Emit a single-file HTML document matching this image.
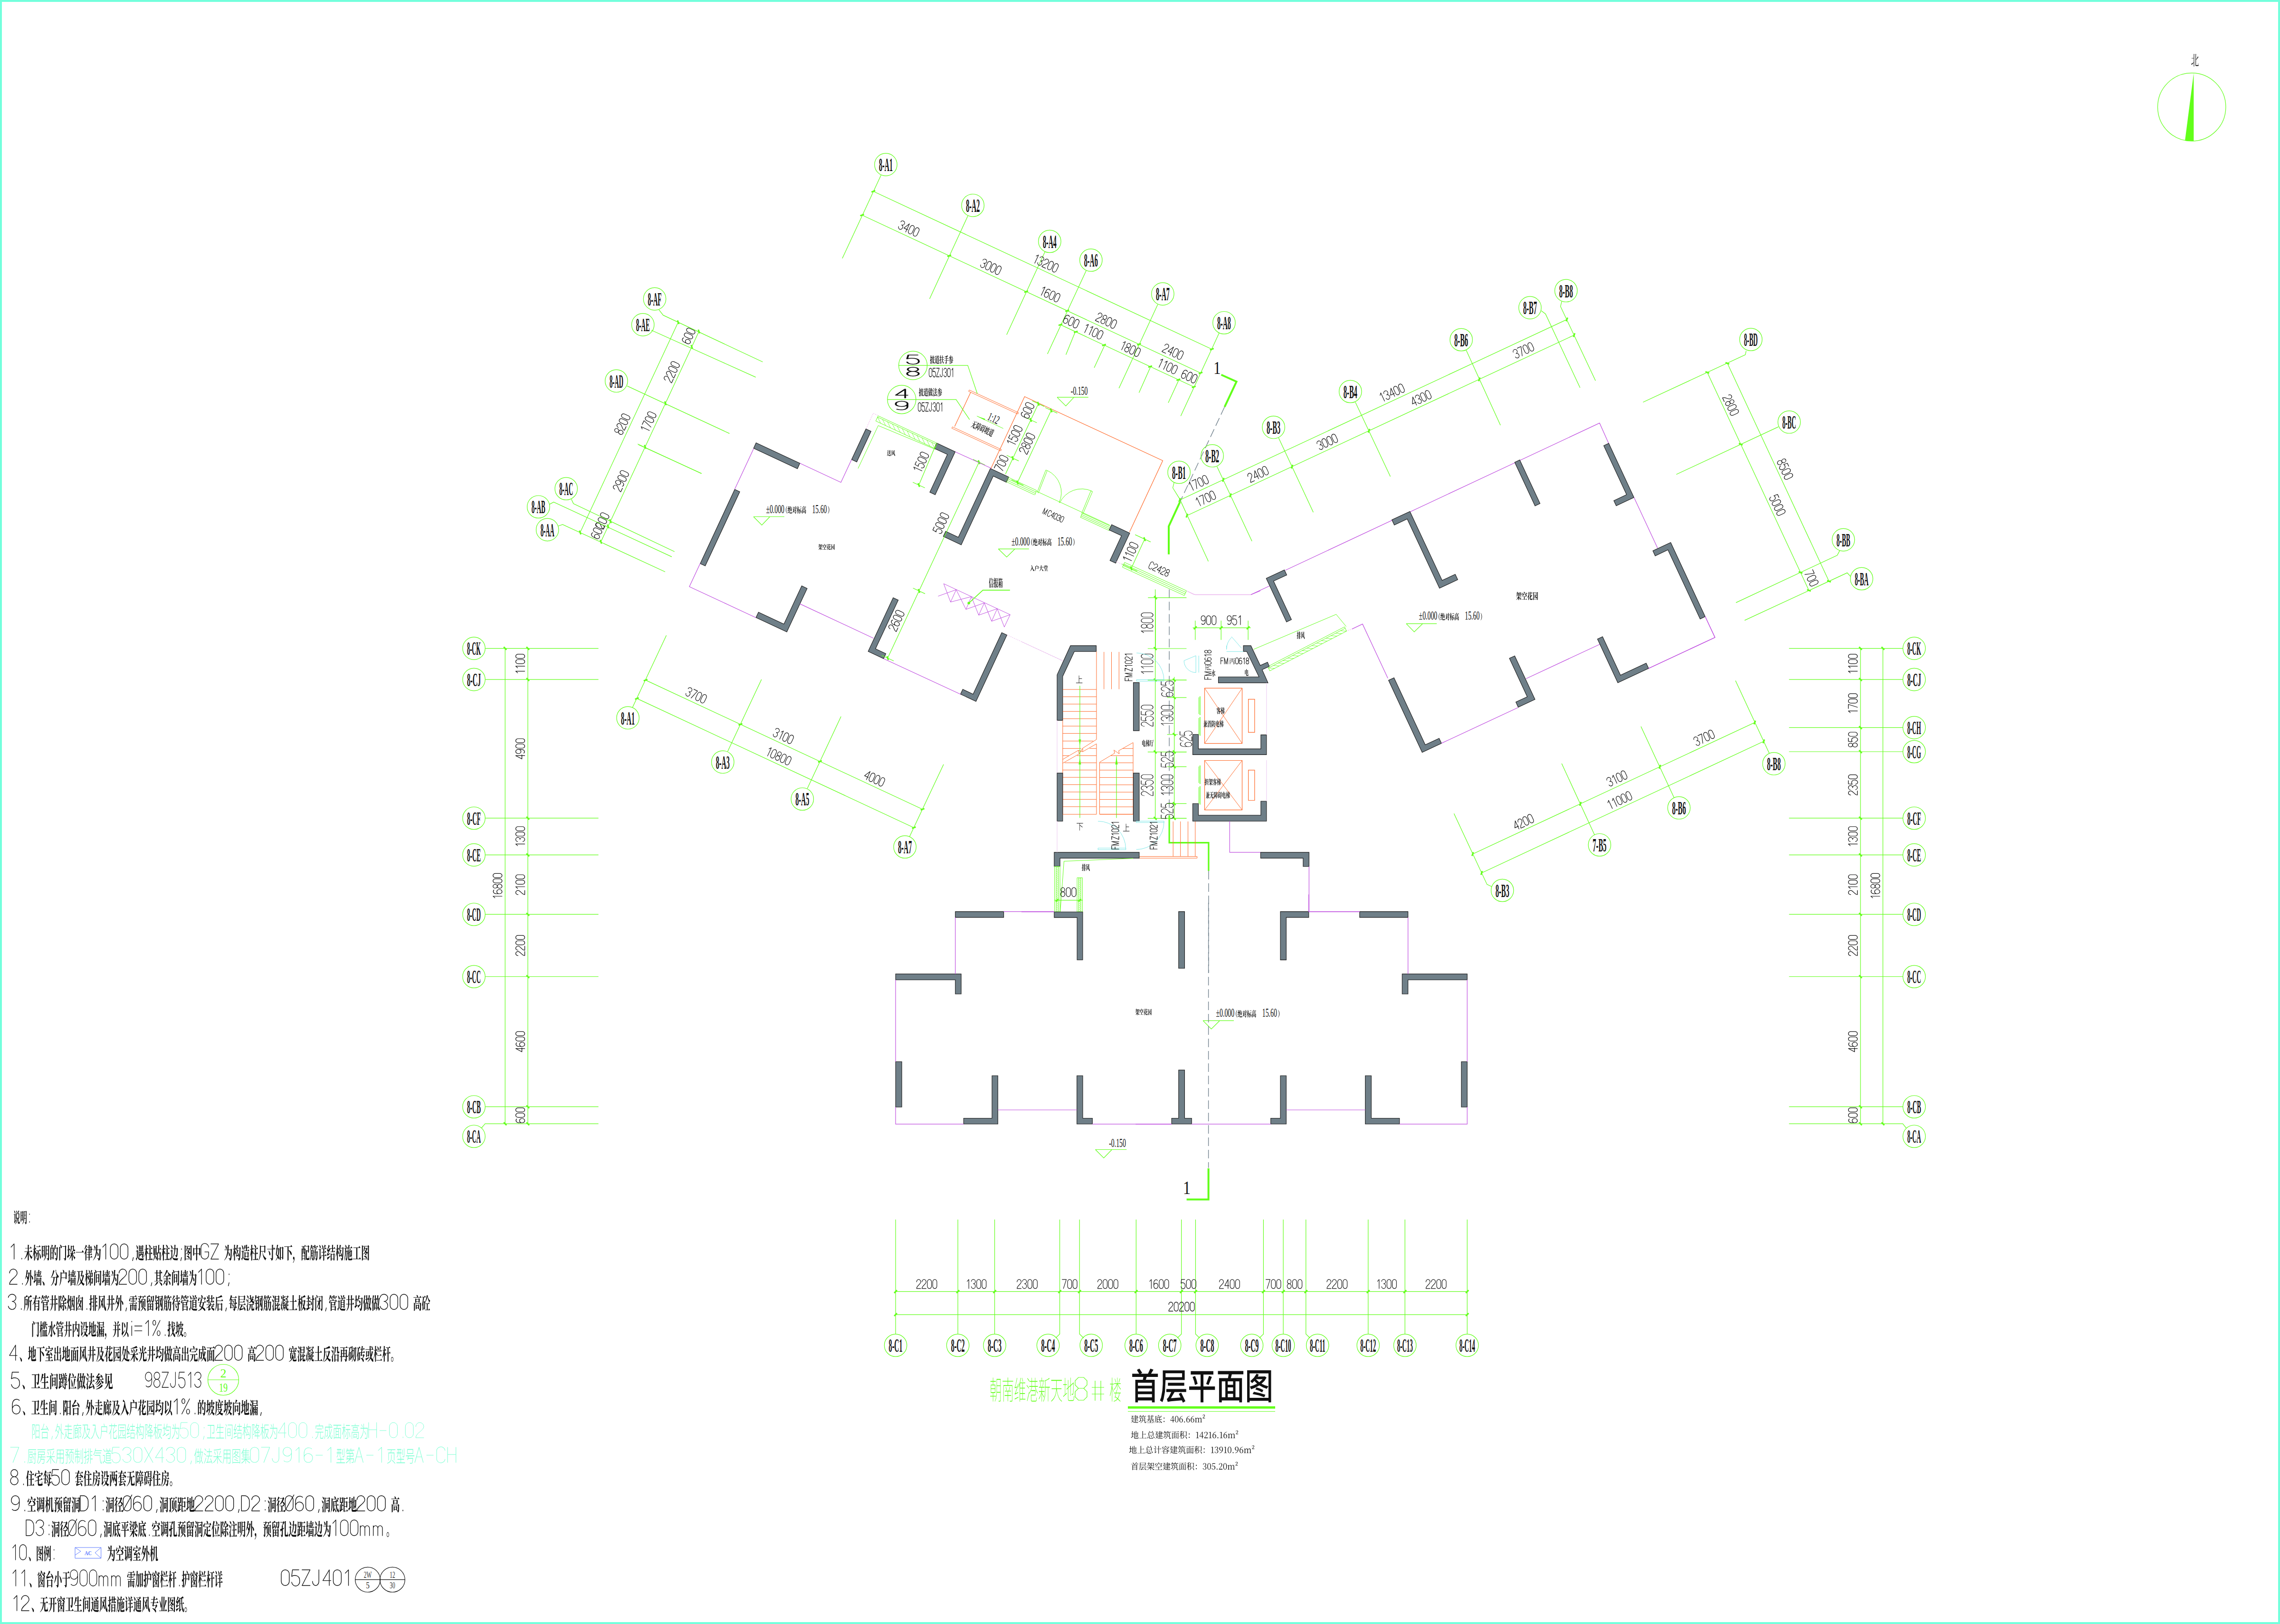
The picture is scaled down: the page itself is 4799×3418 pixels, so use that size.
<!DOCTYPE html>
<html><head><meta charset="utf-8"><style>
html,body{margin:0;padding:0;background:#fff;}
svg{display:block;font-family:"Liberation Sans",sans-serif;}
</style></head><body>
<svg width="4799" height="3418" viewBox="0 0 4799 3418">
<rect width="4799" height="3418" fill="#fff"/>
<defs><path id="s8bf4" d="M104-211l-2 2l17 27l7 20l12 4l9-5l4-10l-4-14l-15-13zM29-210l-3 1l17 25l7 19l12 3l9-4l4-11l-4-12l-15-13zM73-133l10-5l-24-20l-13 13h-37l3 7h34v104l-2 7l-11 7l21 31l54-69l-1-2l-34 20zM124-79l-4 33l-6 17l-10 17l-16 16l-24 15l3 3l31-13l22-16l15-17l9-18l8-40h12v72v11l4 7l7 3l13 1h31l11-2l12-7l-1-12l-6-5l-1-31h-3l-9 30l-5 3h-21l-5-4v-66v8l15-2l12-6v-66l8-3l-25-19l-12 13h-14l37-39l6-1l4-3l-39-12l-18 55h-40l-29-12v99l15-2zM191-150v61h-67v-61z"/><path id="s660e" d="M202-187v50h-47v-50zM128-194v80l-4 50l-6 23l-10 22l-15 20l-20 19l2 2l24-12l18-15l14-15l10-17l11-35h50v57l-6 5l-38-2v4l12 3l14 7l5 8l2 12l26-6l7-5l6-14v-179l11-5l-28-22l-13 15h-40l-32-11zM202-130v50h-48l1-50zM46-182h31v55h-31zM18-189v165l17-1l11-7v-26h31v22l15-2l9-4l3-3v-132l11-6l-27-21l-14 15h-26l-30-12zM46-120h31v55h-31z"/><path id="s672a" d="M109-212v48h-79l2 6h77v46h-99l2 7h80l-21 39l-14 19l-32 34l-19 15l2 2l21-9l37-24l16-13l27-31v95l17-2l9-4l4-4v-117l19 45l12 19l15 16l16 14l18 12l9-18l16-9v-3l-38-17l-18-11l-32-30l-12-18h89l7-4l-31-25l-17 22h-53v-46h76l7-4l-30-24l-17 22h-36v-37l7-3l2-4z"/><path id="s6807" d="M148-86l-36-15l-12 47l-21 47l3 3l13-12l21-26l22-40l7-1zM188-96l-3 1l19 41l12 43l13 5l10-6l3-15l-5-21l-18-24zM201-207l-15 20h-79l2 7h113l6-4zM213-150l-16 22h-103l2 7h52v109l-5 4l-30-2v4l10 2l11 7l4 8l2 11l24-6l11-11l2-17v-109h59l6-4zM84-171l-15 19v-50l7-2l2-5l-36-3v60h-33l2 7h26l-12 57l-13 34l-8 16l3 2l8-7l27-36v101l16-1l11-7v-132l7 17l3 17l10 5l9-2l4-9l-1-11l-10-13l-22-12v-19h32l7-4z"/><path id="s7684" d="M133-114l-2 2l14 24l7 27l13 6l10-5l5-11l-4-15l-14-15zM94-202l-41-10l-5 48l-30-12v189l16-2l8-4l3-4v-18h38v19l15-1l13-7v-148l10-6l-27-21l-13 15h-22l25-32l6-1zM83-157v62h-38v-62zM45-88h38v66h-38zM185-200l-39-12l-15 57l-19 48l3 2l15-15l27-38h47l-4 101l-6 35l-4 8l-9 3l-36-3v4l20 7l6 4l4 5l2 16l21-3l8-5l7-6l6-10l8-38l5-113l11-5l-27-23l-15 16h-40l14-30l7-2z"/><path id="s95e8" d="M47-214l-2 2l19 22l13 26l13 3l10-6l2-12l-6-14l-17-13zM64-177l-39-4v203l17-2l12-8v-181l8-3zM193-189h-81l2 7h82v166l-7 5l-38-2v3l12 3l14 8l4 5l3 16l27-6l7-5l6-15l1-174l10-5l-29-22z"/><path id="s579b" d="M216-110l-14 19h-34v-21l6-3l2-4l-36-3v31h-60l2 7h44l-16 33l-10 16l-25 29l-15 12l2 3l45-27l23-23l10-13v76l16-1l8-4l4-3v-98l13 37l8 16l21 26l12 11l9-17l14-8l1-3l-29-15l-13-9l-23-24l-9-14h63l7-4zM114-195l-1 40l-5 22l-13 21l-11 9l1 3l21-9l15-11l9-11l9-24v-30h37v49l3 15l6 4l11 1l27-1l10-3l5-4l2-6l-2-6l-6-4l-28 1l-4-4v-40l9-3l-23-20l-13 14h-30l-29-11zM78-160l-12 21h-5v-59l7-2l2-4l-37-4v69h-25l2 7h23v78l-29 5l15 35l7-6l74-44v-3l-39 8v-73h33l6-4z"/><path id="s4e00" d="M206-134l-20 28h-177l2 8h224l8-4z"/><path id="s5f8b" d="M52-212l-19 35l-27 35l3 2l38-24l31-26l7-1l3-3zM188-136v31h-26v-31zM58-163l-21 47l-31 47l2 3l31-23v111l16-1l12-8v-120l8-5l-10-4l16-20h53v31h-48l2 7h46v30h-54l2 6h52v31h-61l2 7h59v46l16-2l12-8v-36h74l7-4l-28-23l-16 20h-37v-31h64l7-4l-27-22l-15 20h-29v-30h26v8l24-4l4-2v-40h24l6-4l-18-20l-12 17v-25l10-6l-28-21l-13 15h-23v-21l7-3l3-4l-38-4v32h-47l3 7h44v30h-42l2-1zM188-143h-26v-30h26z"/><path id="s4e3a" d="M131-106l-3 1l15 35l2 19l14 7l11-4l6-12l-3-15l-14-17zM37-203l-2 1l16 28l6 21l13 5l11-5l5-11l-4-14l-15-14zM138-200l6-3l3-4l-42-5l-3 72h-87l3 7h84l-5 26l-8 26l-12 26l-17 25l-23 24l-29 23l2 4l40-22l30-23l22-26l16-27l9-28l6-28h65l-4 83l-6 31l-4 7l-10 2l-40-2v3l22 7l7 4l5 8l1 11l23-2l9-4l7-5l6-9l9-34l6-95l11-5l-28-24l-16 17h-62z"/><path id="s9047" d="M21-207l-3 1l16 26l10 28l13 4l9-5l3-11l-4-15l-16-15zM179-88l-3 1l6 15l-12 1v-25h34v52l-5 5l-28-1v3l13 3l7 4l5 15l15-2l9-4l6-5l4-16v-50l10-5l-27-20l-12 14h-31v-23h23v10l14-1l12-6v-62l11-5l-27-20l-13 14h-66l-27-12v95l14-1l8-4l4-3v-5h21v23h-30l-28-12v97l-22-14v-78l13-6l-30-24l-14 18h-25l1 8h28v87l-31 20l19 29l27-46l4-3l27 27l14 8l16 5l43 5h69l6-16l13-8v-3l-111 1l-25-3l-20-6l12-2l12-7v-70h32v26h-31l11 28l7-6l52-18l1 13l7 4l7-2l4-6l-1-10l-7-11zM123-134v-24h21v24zM123-165v-25h21v25zM193-190v25h-23v-25zM193-134h-23v-24h23z"/><path id="s67f1" d="M134-212l-2 2l22 25l8 19l14 4l10-6l3-12l-6-13l-18-12zM46-212v62h-39l2 7h35l-15 56l-15 34l-9 15l3 3l14-14l24-29v100l17-1l12-7v-132l8 18l3 20l11 5l9-2l6-9l-2-13l-12-13l-23-12v-19h32l7-4l-2-2h42v66h-40l2 7h38v80h-58l2 8h143l7-4l-28-23l-16 19h-19v-80h47l8-4l-28-23l-15 20h-12v-66h52l7-4l-28-23l-15 20h-97l-14-13l-13 19h-3l1-51l7-2l2-5z"/><path id="s8d34" d="M18-199v144l14-1l10-6v-120h44v122l22-4l3-2v-114l10-4l-24-19l-12 15h-41zM196-207l-37-3v116h-7l-30-11v127l17-2l7-3l3-2v-15h53v19l17-1l11-6v-96l9-5l-25-20l-13 15h-14v-49h50l7-4l-26-22l-14 19h-17v-50l7-2zM149-7v-79h53v79zM85-156l-33-8l-2 83l-3 32l-8 27l-13 22l-19 19l3 4l16-8l23-21l9-12l10-28l16 28l7 19l11 4l9-4l3-11l-4-15l-14-15l-26-13l3-29l2-69l7-2z"/><path id="s8fb9" d="M26-207l-3 1l17 26l11 28l14 4l9-5l4-11l-5-16l-17-15zM169-208l-37-4v56h-46l2 8h44l-6 42l-7 21l-9 21l-13 19l-17 17l3 3l25-16l19-18l13-21l10-22l9-46h39l-3 62l-5 22l-3 5l-8 2l-31-1v3l23 10l4 8l1 12l18-3l8-3l12-12l8-25l6-76l10-4l-27-22l-15 14h-36v-45l7-3zM43-31l-38 21l20 32l33-48l4-4l27 29l13 8l15 6l19 3l87 1l6-17l6-6l8-3v-3l-75 2l-43-2l-32-8l-12-7l-11-8v-79l14-5l-31-25l-14 19h-31l2 7h33z"/><path id="s56fe" d="M102-83l-1 4l19 10l16 16h10l6-5l1-9l-7-9l-16-6zM82-47l-1 4l44 16l28 18l12-1l5-8l-3-11l-14-11l-28-7zM124-173l-32-14h104v182h-143v-182h37l-11 39l-20 37l2 3l32-30l21 29l-27 20l-32 15l2 4l37-12l32-16l18 11l32 14l7-16l13-8v-3l-51-12l14-13l18-22l10-3l-24-22l-15 14h-40l7-13zM53 11v-9h143v19l16-2l14-7v-194l10-5l-28-23l-14 16h-138l-32-13v229l17-2l9-4zM97-142l6-8h44l-21 30l-16-10z"/><path id="s4e2d" d="M196-83h-56v-67h56zM150-208l-41-4v55h-53l-34-13v119l17-2l10-4l4-5v-14h56v98l18-2l9-4l4-5v-87h56v21l17-2l15-5v-83l10-5l-30-23l-14 16h-54v-44l7-3zM53-83v-67h56v67z"/><path id="s6784" d="M160-97l-3 1l11 32l-46 4l25-31l21-34l8-5l-35-14l-17 58l-12 23l-7 3l14 29l6-5l45-20l2 18l11 5l8-4l4-10l-2-15l-11-17zM88-170l-13 18h-3v-50l7-3l3-4l-37-4v61h-37l2 8h32l-14 56l-14 34l-8 16l3 2l7-6l29-38v102l16-1l8-4l3-3v-130l8 18l4 19l10 5l9-3l4-9l-1-12l-11-13l-23-11v-22h33l7-4l-13 35l3 2l19-21l17-26h68l-5 102l-6 35l-5 8l-9 4l-34-3v4l19 6l6 4l4 8l1 12l20-3l8-4l7-6l6-10l5-16l6-53l3-84l12-4l-26-23l-15 15h-61l14-30l6-2l3-4l-39-10l-14 64z"/><path id="s9020" d="M21-205l-3 2l11 17l9 20l4 20l14 6l10-5l5-13l-4-16l-16-17zM40-26l-32 17l20 30l14-25l14-19l27 24l13 7l35 8l92 1l6-16l6-6l8-3v-3l-65 2l-57-2l-31-5l-23-10v-76l13-6l-30-24l-14 19h-28l2 7h30zM138-196l-38-12l-8 40l-12 34l3 2l8-7l22-24h30v37h-67l2 7h158l7-4l-28-23l-16 20h-27v-37h57l7-4l-28-23l-15 20h-21v-32l7-3l2-4l-38-3v42h-25l10-21l7-2zM128-27v-10h62v17l24-5l4-3v-56l10-4l-28-22l-13 15h-58l-30-12v88l16-1zM190-88v44h-62v-44z"/><path id="s5c3a" d="M50-194l-1 89l-7 52l-7 25l-12 25l-17 23l3 2l24-19l18-21l13-22l8-23l6-47h42l13 47l12 24l16 22l22 20l29 17l3-11l5-8l8-5l10-4v-3l-32-12l-27-15l-21-16l-15-17l-11-19l-7-20h52v16l16-1l13-6v-79l10-5l-28-21l-14 14h-91l-33-12zM177-184v67h-99l1-67z"/><path id="s5bf8" d="M48-126l-2 2l13 19l11 22l6 23l15 5l11-6l4-13l-6-18l-18-18zM150-212v61h-140l2 7h138l-2 132l-5 1l-49-3v4l21 5l11 6l5 5l5 16l28-6l8-6l7-15l1-139h54l8-4l-33-27l-18 24h-11v-51l7-2l2-5z"/><path id="s5982" d="M74-200l8-3l2-4l-37-5l-11 58h-29l2 7h25l-21 78l47 32l-23 31l-31 25l2 3l39-20l27-26l20 24l11 3l9-2l6-8l-1-11l-9-13l-20-15l17-46l8-50l9-4l-26-23l-14 15h-20zM199-164v135h-39v-135zM160 3v-25h39v28l16-2l14-8v-155l10-5l-28-23l-15 16h-35l-30-13v198l17-2l8-5zM39-67l23-80h24l-5 47l-12 44z"/><path id="s4e0b" d="M210-211l-18 23h-184l2 7h94v203l19-2l12-7v-143l37 33l30 36l15 2l9-9v-16l-14-19l-29-18l-48-14v-46h101l8-4z"/><path id="sff0c" d="M42 11l-21-11l-5-7l-2-9l2-7l4-7l7-4l9-2l9 2l7 5l5 9l1 11l-3 24l-6 12l-18 21l-14 8l-4-8l19-14l5-8z"/><path id="s914d" d="M143-126v115l3 17l6 4l8 3l36 1l29-2l15-6l5-10l-2-6l-7-5l-1-36h-3l-11 35l-5 3l-38 1l-7-2l-1-4v-100h31v23l14-1l13-5v-79l12-6l-28-22l-14 15h-56l2 7h57v60h-28l-30-11zM74-186v37h-10v-37zM64-192h-56l2 6h35v37h-5l-25-11v182l14-2l7-4l3-3v-15h62v19l14-1l11-6v-148l10-5l-25-19l-12 13h-5v-37h38l7-4l-27-22l-14 20zM101-44v35h-62v-35zM101-51h-62v-20l1 2l10-10l11-22l3-41h10l1 57l4 5l22 1zM101-96h-9l-2-3v-43h11zM39-74v-68h10l-1 38z"/><path id="s7b4b" d="M139-213l-11 39l-16 32l4 2l15-12l22-23h11l9 20l2 11l6 3l-35-3v36h-27l3 7h24l-2 45l-4 20l-8 20l-11 19l-15 17l2 2l25-14l17-19l12-20l8-22l5-48h26l-3 65l-3 21l-3 5l-8 2l-24-1v4l12 3l7 6l3 7l1 11l12-1l18-9l9-16l5-34l2-58l10-5l-25-22l-15 15h-24v-26l6-2l2-4h8l5-4l4-7l-1-8l-6-8l-11-8h54l7-4l-26-21l-15 18h-44l8-14l7-1l3-3zM85-122v31h-27v-31zM31-128v66l-4 35l-11 32l-9 15l2 2l25-20l15-23l7-25h29v32l-5 5l-22-1v4l11 3l5 5l5 18l21-5l6-4l6-13v-115l10-5l-27-21l-13 15h-20l-31-12zM85-84v32h-28l1-32zM44-213l-16 46l-22 36l3 2l26-19l23-27h4l4 9l3 21l9 4l9-1l5-6l2-8l-6-10l-13-9h45l7-4l-23-21l-14 18h-28l8-13l7-1l3-4z"/><path id="s8be6" d="M108-211l-2 1l12 27l4 19l13 5l10-3l5-10l-3-13l-13-14zM25-210l-2 1l17 25l7 18l12 4l9-5l4-10l-4-13l-15-12zM66-133l11-5l-25-20l-12 13h-34l3 7h30v106l-2 7l-11 7l21 32l53-54l-2-2l-32 12zM213-176l-15 20h-24l39-38l7-1l3-3l-41-14l-14 56h-82l2 7h57v44h-51l2 7h49v44h-63l2 7h61v70l18-1l11-6v-63h64l6-4l-27-24l-15 21h-28v-44h52l7-4l-27-23l-14 20h-18v-44h60l6-4z"/><path id="s7ed3" d="M7-23l13 36l7-7l79-48l-1-3zM88-196l-38-15l-8 24l-14 25l-14 18l-9 3l14 33l34-16l-26 32l-12 10l-9 4l13 32l6-4l74-33v-3l-69 8l39-32l31-34h7l3-2l-34-20l-13 25l-37 1l29-24l24-28zM139-6v-61h56v61zM112-86v109l17-1l7-3l3-3v-15h56v20l17-1l11-5v-80l10-5l-26-20l-13 16h-52zM219-181l-15 19h-24v-40l7-2l3-4l-38-4v50h-56l2 7h54v45h-46l2 7h124l6-4l-26-22l-14 19h-18v-45h59l7-4z"/><path id="s65bd" d="M36-212l-2 2l10 18l6 21l11 5l9-4l5-9l-3-12l-12-12zM196-150l-32-4v50l-16 6v-24l5-3l3-4l-34-3v44l-16 7l4 6l12-5l1 84l3 7l7 4l23 3h51l26-4l11-7l1-5l-3-7l-8-4l-1-23h-3l-10 22l-7 3l-53 1l-10-2l-2-6v-76l16-6v70l20-3l3-3v-74l18-7v51l-3 3l-14-1v3l10 5l2 19l13-2l9-4l5-6l3-17v-53l8-6l-26-15l-10 16l-15 6v-30l7-2zM171-202l-39-10l-11 49l-16 40l3 2l16-14l21-27h92l7-4l-29-24l-16 21h-50l12-27l7-2zM92-183l-14 20h-70l2 7h23v30l-4 61l-13 59l-11 26l3 2l15-18l12-20l9-22l7-23l8-49h20l-3 54l-3 33l-6 14l-8 3l-19-2v4l9 4l5 4l4 18l20-4l13-13l8-26l5-85l10-5l-24-21l-14 14h-16l2-38h48l7-4z"/><path id="s5de5" d="M8-5l2 7h226l7-4l-33-26l-18 23h-52v-161h80l8-4l-33-26l-18 23h-153l2 7h82v161z"/><path id="s5916" d="M95-203l-41-9l-4 26l-13 50l-9 22l-20 39l3 2l15-13l25-30l11 18l5 19l7 4l13-1l-19 37l-12 17l-30 29l-19 13l2 2l41-19l31-25l22-28l16-32l11-35l7-37l11-4l-28-25l-16 17h-28l10-31l6-2zM56-124l18-36h32l-12 64l-8-13l-7-5zM194-207l-39-4v234l17-2l12-7v-139l20 25l14 28l14 4l10-6l3-13l-7-16l-19-16l-35-14v-67l7-3z"/><path id="s5899" d="M100-169l-3 1l11 25l3 18l11 5l9-3l5-9l-2-12l-11-13zM116 13v-12h86v18l14-2l8-3l4-3v-91l10-4l-26-21l-13 14h-82l-29-12v40v-1l-28 6v-73h28l7-4l-20-22l-11 19h-4v-58l7-2l3-5l-36-3v68h-27l2 7h25v79l-28 5l15 34l6-7l61-42v84l16-1zM211-200l-14 19h-25v-22l7-2l2-5l-37-3v32h-58l2 7h56v57h-66l2 7h159l7-4l-26-21l-13 18h-20l32-37l6-1l4-4l-35-11l-14 53h-8v-57h58l7-4zM202-84v78h-86v-78zM149-35v-25h20v25zM128-76v62l16-3l5-4v-7h20v10l14-2l7-3v-35l7-4l-20-16l-10 10h-17z"/><path id="s3001" d="M61 20l8-2l6-6l1-17l-4-8l-13-13l-9-6l-40-13l-2 3l18 18l18 33l7 8z"/><path id="s5206" d="M121-196l-39-15l-16 41l-12 21l-30 39l-18 16l2 3l24-13l21-15l19-17l15-18l24-38l7-1zM169-208l-20-6l-3 1l8 28l9 25l11 21l14 19l16 16l18 13l10-16l13-10l1-3l-35-18l-30-25l-21-31zM122-108h-80l2 7h45l-2 19l-4 20l-8 20l-13 21l-19 20l-28 20l3 4l36-18l27-19l18-21l12-22l6-22l4-22h45l-6 61l-5 23l-3 5l-10 3l-38-2v3l21 6l7 4l4 9l1 11l21-2l15-8l6-7l9-28l7-73l10-4l-26-23l-16 15z"/><path id="s6237" d="M109-214l-2 2l11 17l8 21l13 3l10-4l5-10l-4-12l-14-10zM72-101l1-61h118v61zM44-172v73l-6 49l-6 24l-10 24l-14 22l2 2l21-16l15-19l11-20l8-20l7-41h119v18l16-2l14-6v-74l10-5l-29-21l-13 14h-111l-34-11z"/><path id="s53ca" d="M139-132l-8 5l25 15l9-9h23l-15 37l-21 33l-26-29l-11-17l-16-41l-5-24l1-25h64zM187-180l10-4l-26-24l-13 14h-141l3 7h44v38l-3 37l-7 36l-11 35l-15 32l-22 29l2 2l27-20l20-24l15-26l11-29l7-30l4-31l5 21l12 39l7 16l18 29l-40 30l-52 22l2 3l59-16l45-24l31 23l36 17l12-16l19-8v-2l-40-14l-35-18l28-37l21-42l10-4l-27-25l-17 16h-19z"/><path id="s68af" d="M116-212l-2 2l10 18l6 21l11 5l10-4l4-9l-2-11l-13-12zM178 14v-90h32l-2 31l-3 13h-23v4l14 7l3 17l18-3l11-8l6-14l2-43l10-4l-25-20l-14 13h-29v-32h24v9l14-1l13-5v-42l9-6l-26-19l-12 13h-21l35-30l6-1l4-3l-38-12l-13 46h-74l2 8h51v36h-14l-30-15l-8 52l-8 5l24 16l10-12h14l-23 45l-22 26l-13 11l2 3l26-14l23-17l19-20v63l16-1zM126-83l6-32h20v32zM178-122v-36h24v36zM83-169l-12 18h-3v-51l7-3l2-5l-35-3v62h-34l2 7h28l-12 56l-21 50l3 2l8-8l26-36v103l15-2l11-8v-137l7 16l3 17l9 4l7-2l4-8l-2-11l-9-11l-19-11v-14h30l7-4z"/><path id="s95f4" d="M46-214l-2 2l19 27l9 19l13 4l9-6l3-11l-5-13l-17-13zM64-177l-40-4v203l17-2l12-7v-182l8-3zM146-48h-44v-43h44zM76-155v136l16-1l8-4l2-3v-15h44v18l14-2l9-4l4-4v-100l7-4l-24-19l-13 13h-39zM146-137v39h-44v-39zM194-190h-90l2 7h91v167l-6 5l-35-1v3l12 2l12 8l5 8l2 12l25-6l7-5l6-14l1-174l10-6l-28-22z"/><path id="s5176" d="M146-33l-1 3l38 23l21 23l14 6l12-5l5-11l-9-14l-27-15zM84-40l-32 32l-43 28l1 2l54-16l42-24l9 1l5-4zM158-211v39h-64v-28l6-3l3-5l-39-3v39h-50l2 8h48v114h-56l2 6h226l8-4l-31-24l-17 22h-8v-114h43l7-4l-28-23l-16 19h-6v-28l7-3l2-5zM94-50v-34h64v34zM94-164h64v32h-64zM94-125h64v33h-64z"/><path id="s4f59" d="M62-64l-21 37l-33 35l2 2l31-14l26-19l21-20h6l3-3zM158-58l-2 1l18 18l16 21l11 22l15 4l9-7l2-14l-9-17l-22-16zM135-193l9 19l26 31l16 13l36 22l7-18l8-7l9-4v-4l-39-12l-38-18l-17-11l-13-14l9-2l4-4l-46-11l-8 18l-30 41l-41 38l-21 14l1 3l25-11l48-29l40-35zM63-124l1 8h44v34h-88l2 7h86v60l-5 5l-33-2v3l12 3l12 7l3 5l3 16l26-6l7-5l5-7l2-18v-61h85l7-4l-30-24l-16 21h-46v-34h40l6-4l-28-24l-16 20z"/><path id="s6240" d="M218-148l-14 20h-45v-48l67-10l9 2l7-2l-31-28l-51 28l-29-10v73l-3 50l-5 24l-7 24l-12 23l-16 22l2 2l27-20l19-23l12-24l7-26l4-49h27v140l18-2l11-6v-132h23l6-4zM124-188l-29-25l-47 29l-24-8v124l-5 46l-13 42l3 3l13-14l18-32l5-17l6-34h35v15l14-1l14-6v-69l10-5l-28-21l-12 14h-32v-30l57-11l9 2zM52-82v-58h34v58z"/><path id="s6709" d="M97-213l-14 42h-73l3 7h67l-31 52l-27 31l-15 13l2 3l20-10l34-26v123l18-2l11-7v-56h82v27l-5 5l-33-2v3l11 3l12 7l6 22l25-6l7-5l6-15l1-111l11-6l-30-23l-14 16h-75l-6-2l22-34h122l7-4l-32-24l-17 21h-76l12-25l7-1l3-4zM92-82h82v32h-82zM92-89v-32h82v32z"/><path id="s7ba1" d="M180-200l-38-14l-8 30l-11 23l3 3l7-4l22-16h13l7 16l1 8l8 5l8-2l6-5l2-7l-5-8l-11-7h52l7-4l-27-22l-15 19h-39l8-11l7-1zM80-200l-39-14l-15 40l-18 32l2 2l17-10l30-28h11l5 15v9l9 4h8l6-5l1-7l-4-8l-11-8h40l7-4l-24-21l-13 18h-30l8-11l7-1zM44-150l-4 1v9l-8 15l-13 10l-4 6l1 8l5 7l8 2l9-2l5-5l7-16v-11h152l-4 24l-23-17l-13 14h-72l-30-12v140l18-2l8-4l3-3v-10h91v15l16-2l14-5v-44l8-4l-27-20l-13 14h-89v-22h75v8l25-4l5-3v-32l36-25l9-3l-25-25l-15 15h-61l6-10l-2-6l-6-6l-10-3l-17-1l-2 1l6 7l8 18h-72zM89-98h75v26h-75zM89-35h91v31h-91z"/><path id="s4e95" d="M16-150l2 7h52v61h-62l2 7h59l-7 37l-7 16l-22 29l-15 13l2 2l23-11l19-13l15-15l10-18l7-19l4-21h52v97l17-2l13-9v-86h56l7-4l-29-25l-17 22h-17v-61h50l7-4l-28-24l-16 21h-13v-50l7-3l2-4l-39-4v61h-50v-50l6-2l3-5l-39-3v60zM99-82l1-61h50v61z"/><path id="s9664" d="M189-69l-3 1l17 30l12 32l12 4l10-5l3-12l-5-16l-16-18zM114-71l-14 36l-24 34l2 3l25-16l21-20l15-20l8-3zM170-195l6 15l16 27l10 12l24 18l6-16l15-11v-3l-28-10l-26-14l-20-21l8-1l3-4l-41-9l-5 16l-19 34l-26 32l-14 13l2 3l35-21l17-14l27-30zM94-92l2 7h54v73l-5 4l-25-2v4l13 4l6 5l4 19l22-6l10-11l2-17v-73h56l7-4l-26-23l-15 20h-22v-32h32l7-4l-26-20l-14 17h-62l2 7h34v32zM46-187h22l-15 65l10 18l6 26l-1 18l-4 5l-6 1h-12zM18-194v216h6l12-1l10-7v-64l10 6l3 22l22-5l11-13l3-21l-4-21l-11-22l-20-18l38-58l11-3l-28-26l-15 15h-17l-31-12z"/><path id="s70df" d="M28-156h-4l-4 31l-13 19l-1 8l2 5l5 4h7l7-3l9-16l-1-22zM130 12v-12h77v18l13-2l12-6v-191l11-5l-26-21l-13 15h-73l-27-12v52l-19-14l-15 41v-76l7-3l3-4l-37-4v100l-2 40l-6 35l-10 30l-18 25l3 4l14-10l22-24l7-14l10-30l8 20l3 21l10 6l9-4l4-9l-1-14l-10-16l-20-16l4-44l33-32l1 166l15-2zM207-7h-77v-179h77zM187-144l-10 14v-36l7-2l2-4l-31-4v46h-21l2 8h19l-4 50l-10 32l-9 15l3 3l10-9l16-19l12-33l8 29l1 20l9 4l7-4l3-10l-1-15l-8-18l-16-21l1-24h21l7-4z"/><path id="s56f1" d="M137-154l-39-5l-15 46l-23 40l2 3l27-24l23-28h38l-18 41l-38-12l-2 3l29 23l-27 27l-33 22l2 4l39-17l32-22l17 27l10 4l8-3l5-8v-11l-7-13l-15-14l13-18l15-29l10-4l-25-22l-15 15h-34l12-21l6-1zM55-10v-156h138v156zM27-185v207l17-2l8-3l3-3v-16h138v20l18-2l11-7v-172l11-5l-27-22l-14 17h-87l26-27l7-2l3-4l-39-8l-10 41h-34z"/><path id="s6392" d="M158-208l-37-4v51h-31l3 7h28v44h-33l2 8h31v49h-40l2 7h38v68l16-2l11-8v-214l7-2zM205-208l-37-4v234l16-1l12-8v-59h41l7-4l-24-23l-14 19h-10v-49h36l6-4l-22-21l-12 18h-8v-44h39l7-4l-24-22l-13 19h-9v-40l6-2zM75-171l-11 17v-48l7-2l2-5l-37-3v58h-30l2 8h28v46l-31 10l12 32l6-7l13-9v58l-5 4l-27-2v4l9 2l11 8l5 22l23-6l10-12l2-18v-80l28-23l-1-3l-27 10v-36h25l7-4z"/><path id="s98ce" d="M170-158l-36-12l-15 50l-42-35l-4 2l37 55l-24 47l-29 38l3 3l34-29l29-35l19 47l11 5l8-3l4-11l-2-17l-8-21l-17-26l22-54l6-1zM38-197l-2 139l-8 42l-9 19l-12 18l3 2l23-18l16-19l10-21l6-23l2-23l1-107h104v82l3 38l7 34l11 27l16 19l17 8h8l7-4l2-6l-1-9l-4-12l2-44l-2-1l-9 30l-5 2l-11-13l-7-22l-5-29l-1-32l1-63l11-5l-28-24l-15 17h-97l-34-12z"/><path id="s9700" d="M195-120h-47v7h47zM191-142h-43v7h43zM100-120h-50v7h50zM99-142h-45v7h45zM33-179h-3l-1 10l-7 15l-12 10l-4 7l1 7l5 7l9 2l8-2l6-6l5-18v-12h70v59l17-1l11-5v-53h70l-5 32l3 1l30-28l10-3l-25-24l-15 15h-68v-21h78l8-4l-28-23l-16 20h-146l2 7h74v21h-72zM212-110l-14 17h-185l3 7h87l-4 20h-33l-29-11v99l15-1l12-7v-72h24v69l16-1l10-4v-64h24v66l17-1l10-5v-60h25v46l-4 4l-17-1v3l9 4l5 5l3 20l20-5l6-5l5-14v-53l10-5l-27-21l-13 14h-73l22-20h96l7-4z"/><path id="s9884" d="M195-122l-37-4l-2 64l-5 25l-11 22l-19 19l-30 16l2 4l21-7l32-15l11-8l16-20l25 21l20 25h13l8-7v-12l-9-13l-21-12l-34-6l4-12l5-26l2-48l6-2zM26-167l-2 2l14 14l11 18l3 9l4 1h-46l2 7h32v102l-5 4l-27-1v3l10 3l10 7l4 19l23-6l10-12l2-16v-103h14l-7 34l2 1l31-30h5v84l14-2l12-7v-104h61v106l14-1l12-6v-96l9-4l-25-19l-12 13h-40l26-39h48l7-4l-28-22l-15 19h-90l1 5l-20-20l-16 15h-60l2 7h59l-14 30l-14-7zM153-147h-10l-27-11v40l-19-18l-14 13h-17l5-4l3-6l-1-8l-4-8l37-31l10-3l-4-3h43z"/><path id="s7559" d="M140-86h-66l-29-11l48-32l2 14l11 5l9-4l4-10l-2-15l-13-16l-24-15l-3 1l14 33l-35 10v-58l50-4l9 2l6-2l-25-26l-38 21l-29-3v64l-1 6l-6 6l15 30l4-3v115l17-1l10-4l4-4v-9h107v16l16-1l14-6v-87l10-5l-26-20l16-7l10-13l6-24l3-38l10-5l-25-20l-14 14h-78l3 6h21l-3 33l-5 16l-9 15l-12 15l-19 14l3 3l27-12l19-14l13-16l8-17l7-37h27l-4 40l-7 17l-7 2l-23-1v3l17 9l3 18h7l-11 12zM179-79v34h-39v-34zM72-3v-35h40v35zM72-45v-34h40v34zM179-3h-39v-35h39z"/><path id="s94a2" d="M133 12v-199h72v21l-34-7l-4 43l-28-30l-3 2l15 25l11 27l-10 41l-16 36l3 3l19-24l14-26l11 38l8 4l6-3l4-10l-1-15l-5-20l-11-24l14-54l7-2v149l-5 5l-29-2v4l10 2l11 7l5 19l24-6l6-4l6-14v-180l11-6l-28-21l-13 15h-69l-29-12v119l-23-21l-14 18h-2v-34h26l7-4l-24-22l-13 19h-40l24-37h52l7-4l-25-22l-13 18h-18l7-20l7-2l3-4l-40-10l-7 47l-14 48l3 2l12-14l2 5h16v34h-32l2 8h30v58l-2 6l-11 10l29 25l47-62l-2-2l-33 19v-54h33l6-4v108l16-2l9-4z"/><path id="s5f85" d="M92-192l-33-20l-22 35l-31 36l3 3l28-16l46-35h6zM99-68l-2 1l16 25l7 19l12 4l9-5l4-10l-4-12l-15-13zM76-108l-13-5l23-26h7l3-3l-36-20l-23 46l-32 46l3 3l32-24v114l16-2l12-9v-115zM216-103l-15 20h-2v-19l6-2l3-4l-38-3v28h-86l2 7h84v65l-6 5l-40-2v3l13 3l14 6l5 8l2 12l27-6l7-5l4-6l3-17v-66h38l7-4zM204-188l-16 20h-20v-35l6-2l2-4l-37-3v44h-47l2 7h45v39h-62l2 7h160l7-4l-28-24l-16 21h-34v-39h57l7-4z"/><path id="s9053" d="M105-212l-2 1l9 16l4 19l12 5l9-3l6-9l-2-11l-12-11zM22-207l-2 1l16 26l11 28l13 4l9-5l4-11l-5-15l-16-15zM214-190l-16 21h-26l32-29l6-2l3-4l-40-9l-9 44h-85l2 7h57l-2 24h-8l-30-12v131l16-1l9-4l3-4v-9h61v17l15-2l14-6v-100l9-4l-27-21l-13 15h-35l18-24h66l7-4zM126-44v-25h61v25zM126-76v-24h61v24zM126-108v-24h61v24zM40-31l-35 22l20 30l29-47l4-4l27 29l13 8l16 5l19 4l91 1l6-16l14-9v-3l-78 2l-45-2l-31-8l-13-7l-10-9v-77l13-6l-30-23l-14 18h-28l2 7h30z"/><path id="s5b89" d="M212-130l-16 22h-86l18-36l8-1l2-4l-39-10l-20 51h-69l2 6h64l-27 55l64 20l-13 10l-31 17l-61 19l1 3l54-8l23-6l19-7l32-18l35 18l26 17l13 3l11-4l4-9l-7-13l-22-15l-41-14l19-30l15-38h44l7-4zM102-212l-2 1l12 16l6 21l10 4h-80l-4-16h-4l-1 9l-5 9l-20 17l-4 7v10l5 6l7 4h7l14-8l7-19v-12h151l-10 32l2 1l39-27l10-3l-27-26l-16 16h-65l9-4l5-8v-10l-7-10l-15-7zM79-49l28-53h49l-12 34l-17 27z"/><path id="s88c5" d="M23-198l-3 1l8 18l4 20l11 5l9-2l6-9l-2-11l-10-12zM214-94l-16 20h-67l6-3l4-6v-6l-5-6l-11-4l-18-2l-2 1l9 15l2 8l7 3h-113l2 7h82l-38 26l-49 19l1 4l12-2l53-13l-1 19l-14 10l16 27l5-5l73-31v-3l-51 6v-34l31-20l9 22l12 18l13 15l16 12l38 19l9-18l14-9v-3l-39-9l-34-15l54-15l-27-20h37l7-4zM162-37l-14-14l-12-16h58zM9-130l19 30l38-38v52l16-2l12-6v-108l7-2l2-5l-37-3v66zM187-208l-38-4v44h-49l2 7h47v45h-44l2 8h120l7-4l-26-23l-14 19h-16v-45h56l8-4l-28-23l-15 20h-21v-34l7-2z"/><path id="s540e" d="M192-213l-53 19l-67 16l-34-12l-1 93l-4 47l-6 23l-8 22l-12 21l3 3l22-20l16-22l10-24l6-25l3-53h169l7-4l-31-24l-17 21h-128v-38l49-3l89-11l10 2l7-2zM80-82v104l17-1l8-3l3-2v-17h78v21l17-1l12-5v-87l10-5l-27-20l-14 16h-74l-30-12zM108-8v-67h78v67z"/><path id="s6bcf" d="M96-76l-2 1l20 20l9 16l12 2l8-6l3-10l-6-11l-16-9zM102-135l-2 2l14 15l12 18l11 3l8-5l2-9l-5-11l-14-9zM218-110l-14 20h-4l2-46l11-5l-27-23l-15 16h-77l-26-13l9-12h150l7-4l-31-24l-17 21h-104l9-14h6l4-4l-39-16l-22 51l-27 40l3 3l17-11l25-20l-7 61h-43l2 7h40l-8 49l-8 6l28 16l10-13h93l-6 14l-9 3l-30-2v4l17 5l5 5l4 7v11h11l17-6l7-5l8-13l6-23h36l7-4l-25-22l-14 19h-3l4-51h36l8-4zM71-32l8-51h92l-5 51zM80-90l6-51h88l-2 51z"/><path id="s5c42" d="M189-134l-17 21h-97l2 7h135l6-4zM214-95l-17 22h-136l2 7h55l-14 19l-18 19l-18 13l-9 3l10 32l8-6l121-23l13 24l14 3l9-6l1-14l-9-16l-21-17l-36-14l-2 2l26 31l-105 3l32-17l27-19l6-1l3-2l-26-14h106l8-4zM63-152v-37h129v37zM34-198l-1 99l-4 50l-13 48l-11 22l3 2l22-21l15-24l10-25l5-26l3-26v-47h129v11l16-1l15-5v-43l10-5l-29-22l-14 15h-122l-34-12z"/><path id="s6d47" d="M24-53h-11v5l13 4l3 3l2 26l-3 25l6 10l8 2l8-1l7-4l4-7l1-21l-8-25l-1-15l6-26l27-92l-4-1l-48 107zM10-152l-2 1l13 16l9 19l12 4l9-5l3-9l-4-11l-14-10zM30-209l-2 2l16 21l7 17l13 3l9-4l4-10l-4-12l-15-11zM199-199l-13 23l-34 5l-8-32l6-3l2-4l-36-2l3 28l5 17l-38 5l3 8l37-6l8 17l12 15l-32 18l-36 14l2 3l43-8l39-13l17 11l25 10l-13 16h-116l2 7h37l-4 35l-6 15l-8 14l-12 13l-15 12l1 3l23-9l18-12l14-14l10-16l6-19l3-22h18l1 73l2 6l4 5l18 3l33-1l11-2l12-8l-1-12l-6-5l-1-33h-3l-10 32l-4 2l-22 1l-6-4v-57h37l7-4l-21-17l11 2l10-2l6-7l1-5l-9-13l3-28h-3l-12 23l-3 3l-28-11l26-19h6l3-2l-31-20l33-5l6-5zM168-145l-14-19l38-6z"/><path id="s6df7" d="M24-53h-11v5l13 4l3 3l2 26l-2 25l5 10l8 2l9-1l6-4l4-7l1-20l-8-25v-16l6-28l30-100l-4-1l-52 117l-2 5zM9-152l-2 1l13 17l10 19l12 4l9-5l3-10l-4-11l-15-10zM30-209l-2 2l16 22l7 17l12 3l10-5l4-10l-5-12l-15-11zM138-80l-11 18h-9v-26l8-3l2-5l-37-4v83l-2 6l-8 7l17 26l6-8l53-41l-1-3l-38 13v-38h34l7-4zM196-98l-35-4l1 104l2 6l4 5l7 2l29 1l27-3l8-3l4-5l1-5l-1-7l-7-5l-1-30h-3l-9 29l-5 3h-24l-6-4v-33l45-19l9-1l-25-23l-29 36v-38l6-2zM92-208v106l18-2l8-4l3-6h69v10l14-1l14-5v-74l10-6l-28-21l-13 15h-63zM190-189v31h-69v-31zM190-121h-69v-29h69z"/><path id="s51dd" d="M19-202l-2 2l13 24l4 19l13 5l10-4l5-10l-3-13l-14-13zM19-69h-11v5l12 4l3 4l2 19l-3 27l5 10l8 3l8-2l6-4l5-6l1-19l-8-24v-17l22-85l-4-1l-37 78zM76-127l-6 33l-8 28l3 3l13-13l11-16h5l-1 30h-35l2 7h32l-7 25l-6 13l-20 24l-13 12l2 3l16-8l24-18l9-10l11-20l12 25l10 3l-19 25l3 3l12-8l18-20l16-34l5 19l7 14l8 11l10 7l12 3l34 2v-11l9-15l-45-2v-45h34l7-4l-21-20l-12 17h-8v-50h13l-5 28l4 1l24-25l9-2l-22-22l-12 13h-73l2 7h36v89l-13-25l3-29l7-2l2-5l-31-3v25l-14-14l-12 16h-2l1-30h23l6-4l-20-18l-11 15h-23l7-14l6-2l3-4zM138-28l-14-10l-12-4l3-13h29zM128-201l-31 24v-25l6-3l2-4l-31-3v64l1 10l3 6l7 3l11 1l32-1l11-1l10-7v-10l-6-4l-1-17h-3l-7 17l-5 2h-24l-6-4v-15l39-11h10zM154-172l-2 2l16 11l14 15l9 15l9 2l7-3l4-5v-8l-3-9l-8-8l33-24l10-3l-24-23l-14 14h-64l3 7h61l-14 24l-16-5z"/><path id="s571f" d="M23-122l2 7h83v117h-100l2 7h226l7-4l-33-26l-18 23h-52v-117h82l6-4l-32-25l-17 22h-39v-79l6-3l3-4l-41-4v90z"/><path id="s677f" d="M112-185l-1 86l-4 49l-6 25l-8 23l-11 22l2 2l22-21l15-24l10-25l5-26l3-48h8l7 44l12 37l-26 34l-36 27l2 2l28-11l24-15l19-16l19 23l23 19l8-18l17-12v-3l-27-12l-23-17l19-37l12-41l10-4l-27-24l-15 16h-54v-46l43-2l54-6l-24-28l-72 28l-28-10zM176-60l-14-28l-10-34h43l-7 32zM88-170l-15 19v-51l7-3l2-5l-36-3v62h-38l2 7h33l-14 56l-14 34l-9 16l3 2l7-6l30-39v103l16-1l11-7v-133l8 18l4 19l10 4l9-3l4-8l-2-12l-11-13l-22-11v-19h31l6-4z"/><path id="s5c01" d="M134-127l-3 1l10 27l3 29l12 6l10-4l6-10l-2-16l-12-17zM184-210v59h-63l2 7h61v129l-6 5l-36-2v3l12 3l13 8l4 5l3 15l26-6l7-5l6-14v-141h28l6-4l-22-24l-12 18v-46l7-2l2-4zM53-210v41h-38l2 7h36v43h-45l2 7h116l7-4l-27-22l-14 19h-10v-43h40l7-4l-25-22l-15 19h-7v-31l6-2l3-4zM53-108v39h-41l2 7h39v41l-45 4l14 35l7-6l106-40l-1-3l-52 7v-38h42l6-4l-26-22l-14 19h-8v-29l7-3l2-4z"/><path id="s95ed" d="M46-214l-2 2l13 17l10 21l12 3l8-5l3-10l-4-11l-14-10zM56-177l-37-4v203l15-2l12-7v-183l8-2zM198-192h-96l2 7h97v171l-6 5l-34-1v3l11 3l12 6l5 8l2 12l24-6l7-5l5-13l1-178l10-6l-27-20zM173-147l-13 20h-4v-35l6-3l3-4l-37-4v46h-66l2 7h50l-22 54l-22 32l-12 14l3 2l38-30l29-37v57l-6 4l-33-2v4l11 2l12 6l5 6l1 10l15-2l16-7l4-6l3-15v-92h32l6-4z"/><path id="s5747" d="M121-136l-2 2l21 21l17 23l13 2l8-6l2-12l-8-13l-19-11zM93-54l19 31l6-7l74-53l-1-3zM78-163l-14 21v-56l8-3l2-4l-38-3v66h-29l2 7h27v79l-30 7l16 34l6-7l76-46l-1-3l-39 9v-73h31l-14 24l3 2l25-22l21-27h76l-6 99l-8 37l-5 8l-5 3l-44-2v3l21 7l7 5l4 8l1 12l22-3l8-4l8-7l7-10l6-17l8-53l4-81l12-5l-26-23l-16 16h-70l16-31l7-2l3-3l-39-11l-9 36l-14 35z"/><path id="s505a" d="M71-95v103l14-2l8-3l3-3v-17h28v16l15-2l10-5v-75l9-4l-20-20l-12 12h-2v-51h35l-13 46l3 2l18-23l5 38l7 34l-21 37l-30 32l2 2l33-21l25-25l13 25l18 21l9-17l18-9v-3l-24-17l-20-22l8-16l10-34l8-56h12l6-4l-25-24l-15 21h-20l11-39l7-2l3-4l-39-8l-7 56l-17-16l-13 19h-7v-49l6-2l2-4l-36-3v58h-35l2 7h33v51l-25-11zM188-72l-10-26l-7-30l11-24h17l-4 41zM96-24v-64h28v64zM41-212l-15 69l-22 59l4 2l20-25v129l15-1l12-6v-147l8-5l-15-5l20-54l7-1l3-4z"/><path id="s9ad8" d="M210-202l-18 21h-54l4-6l1-7l-4-7l-8-7l-13-4l-21-1l-1 1l12 14l8 17h-106l2 7h222l8-4zM145-26h-39v-30h39zM106-11v-8h39v12l23-4l4-3v-38l9-4l-26-20l-13 13h-36l-27-11v71l14-2zM160-118h-68v-29h68zM92-105v-5h68v11l26-4l4-2v-37l10-5l-29-22l-13 15h-65l-31-12v70l16-2zM53 13v-95h147v70l-6 4l-27-1v3l9 2l11 7l5 19l24-5l11-11l2-16v-68l10-5l-29-21l-13 14h-141l-32-12v124l16-2z"/><path id="s783c" d="M50-23v-84h21v84zM174-199l8-2l2-4l-38-6l-16 50l-28 50l-22-16l-11 13l-20-2l11-31l8-33h42l7-4l-17-14l-10-8l-14 19h-68l2 7h29l-13 67l-20 60l4 3l15-22v83l15-2l10-5v-20h21v15l13-1l12-6v-89l16-13l28-30l12-17l19-34l12 36l9 16l20 27l12 11l7-14l15-11v-4l-29-16l-13-10l-22-26zM204-104l-12 15h-86l2 7h41v85h-55l2 7h139l7-4l-27-22l-14 19h-25v-85h43l7-4z"/><path id="s69db" d="M166-208l-33-2v120l13-2l11-6v-103l7-2zM129-192l-33-4v98l13-1l11-6v-81l7-2zM193-146l-2 2l12 25l4 19l11 5l9-3l4-10l-2-12l-12-14zM223-181l-13 19h-14l10-33l6-2l3-4l-37-8l-6 58l-11 51l3 2l12-17l18-39h46l7-4zM164-71v75h-13v-75zM186-71h13v75h-13zM130-71v75h-13v-75zM229-15l-7 12v-66l12-5l-27-18l-11 14h-77l-25-10v92h-21l2 7h167l6-4zM73-168l-12 17v-51l7-3l2-4l-34-4v63h-30l2 7h24l-10 55l-17 48l3 3l6-7l22-32v98l14-2l11-7v-134l7 16l2 17l9 5l7-3l4-7l-1-11l-9-12l-19-12v-15h26l7-4z"/><path id="s6c34" d="M204-170l-18 30l-23 33l-14-31l-9-38v-25l6-3l2-4l-38-4v196l-6 5l-37-2v3l12 3l13 8l4 5l3 16l27-6l7-5l6-15l1-154l7 38l9 32l12 26l14 23l16 19l19 18l10-18l16-9l1-3l-28-16l-27-23l-23-30l34-22l28-22h7l3-3zM11-139l2 7h56l-12 48l-9 22l-12 21l-14 20l-17 17l3 2l25-15l20-19l17-21l13-22l17-49l9-3l-26-23l-15 15z"/><path id="s5185" d="M109-212l-1 47h-52l-32-13v200l17-2l9-5l4-4v-169h53l-6 41l-7 18l-9 17l-13 16l-16 14l3 4l18-9l28-21l10-12l13-26l21 28l13 31l13 4l9-6l3-13l-6-17l-18-19l-32-16l6-34h61v142l-6 5l-42-2v3l13 3l15 8l4 5l4 16l27-6l8-5l6-15l1-149l10-5l-29-22l-13 15h-59l2-37l7-2l2-5z"/><path id="s8bbe" d="M21-210l-2 2l19 21l15 25l13 2l9-6l2-11l-7-14l-18-12zM66-133l11-5l-24-20l-13 13h-31l2 7h28v104l-2 7l-11 7l21 31l8-12l49-53l-2-2l-36 19zM109-197l-1 35l-5 25l-15 25l-12 12l2 2l22-11l16-12l11-14l9-27v-25h35l1 61l3 7l7 4l18 1l-16 16h-95l2 7h17l13 38l19 29l-34 25l-43 18l2 3l49-13l40-19l29 19l36 13l9-18l17-9l1-3l-37-8l-33-11l24-27l18-32l10-4l-27-24l20-1l17-5l5-11l-2-6l-9-5l-29 1l-4-4v-40l9-4l-26-20l-13 15h-28l-32-12zM154-39l-24-22l-18-30h72l-12 27z"/><path id="s5730" d="M197-155l-21 7v-53l7-3l2-4l-36-4v74l-22 8v-50l7-3l2-4l-37-4v71l-29 11l5 6l24-9v96l4 19l6 5l18 5h73l31-4l8-3l4-5l1-6l-2-7l-10-6l-1-35h-3l-13 35l-9 3l-62 1l-10-1l-5-3l-2-104l22-8v102l16-2l11-7v-32l11 8l3 19l18-4l12-10l6-20l3-68l10-5l-26-21zM176-140l25-9l-2 65l-3 10l-7 2h-13zM5-35l15 33l6-7l69-54l-1-3l-32 12v-73h30l6-4l-22-25l-14 22v-62l7-3l3-4l-37-3v72h-27l2 7h25v83z"/><path id="s6f0f" d="M26-210l-2 2l12 17l8 21l12 4l9-5l4-9l-4-11l-13-11zM9-157l-3 2l12 16l6 19l12 4l9-3l4-9l-3-11l-13-11zM20-54h-11v5l7 1l8 7l3 25l-3 25l5 10l8 3l8-2l6-4l4-6l1-21l-8-25v-15l28-117l-4-1l-43 106zM202-190v30h-96v-30zM177-44l-1-34l10 16l3 8l8 3l6-3l2-6l-2-8l-9-8l-18-5v-9h32v81l-5 5l-18-2v4l15 7l3 17l13-3l9-4l5-5l3-16v-79l10-5l-26-20l-12 14h-27v-26h59l7-4l-24-21l8-4v-34l10-5l-26-20l-12 13h-90l-30-11v94l-3 53l-11 53l-10 25l4 2l17-21l12-23l8-25v72l15-1l10-6v-105h31v27l-7-10l-9-5l-11-4l-3 2l11 17l3 9l7 3l6-2l3-6v35l-7-11l-20-9l-3 2l11 16l3 10l7 2l6-2l3-6v40l14-1l9-5v-52l13 24l8 2l6-3l2-6l-2-7l-9-8zM202-153v8l14-1l-12 16h-98v-23zM125-96l-20-8l1-18h45v26z"/><path id="s5e76" d="M60-211l-2 1l21 31l5 17l13 5l10-6l4-11l-5-14l-16-14zM160-214l-20 58h-121l2 7h51v59h-63l2 8h61l-6 38l-7 17l-12 17l-16 16l-23 14l2 3l34-13l25-15l16-18l11-19l5-20l2-20h48v104l19-1l12-7v-96h54l7-4l-30-25l-17 21h-14v-59h47l7-4l-30-23l-16 20h-42l44-42l6-1l3-3zM151-90h-48v-59h48z"/><path id="s4ee5" d="M90-195l-3 1l18 34l11 37l14 6l11-6l4-13l-5-19l-18-21zM78-192l-39-4v150l-3 7l-10 7l19 34l95-86l-1-2l-70 36v-134l7-3zM224-196l-42-4l-1 48l-5 42l-11 38l-21 33l-32 30l-48 28l2 4l28-9l44-20l17-12l26-26l20 29l12 31l14 5l11-6l3-14l-5-18l-17-19l-32-17l10-19l11-42l6-74l7-3z"/><path id="s627e" d="M180-201l-2 2l16 15l11 18l7 2l-12 20l-34 4l-1-59l7-3l2-4l-39-4l3 74l-49 6l3 6l46-5l7 44l13 39l-33 32l-38 26l2 4l42-19l36-25l17 23l23 19l18 7h9l8-5l1-5l-1-9l-7-11l5-42l-2-1l-15 32l-4 3l-19-16l-12-17l21-28l17-33l8-1l3-3l-35-15l-25 55l-7-27l-4-31l71-8l6-5l-27-18l7-4l4-8l-2-8l-7-9l-15-6zM7-90l11 34l7-7l18-9v58l-5 4l-27-1v3l9 3l10 7l6 20l13-2l16-8l6-14l1-86l37-23l-1-2l-36 9v-45h32l6-4l-23-24l-13 21h-2v-46l6-2l2-5l-37-3v56h-35l2 7h33v51z"/><path id="s5761" d="M152-160v50h-28v-50zM4-47l16 33l6-7l66-48l-13 46l-17 29l-11 14l2 2l25-18l18-19l12-22l8-22l7-43h11l10 38l15 31l-33 29l-43 22l1 3l49-15l37-23l23 22l28 17l10-16l16-8l1-3l-32-12l-28-16l22-30l16-34l10-4l-26-24l-16 15h-14v-50h26l-12 33l2 1l41-28l10-3l-27-25l-16 15h-24v-32l7-3l2-4l-37-4v43h-24l-32-14v37l-18-18l-12 21h-2v-56l7-2l2-5l-38-3v66h-27l2 7h25v78zM138-102h58l-11 28l-15 26l-18-24zM96-134l-3 59l-29 10v-69z"/><path id="s3002" d="M46 21l9-2l16-9l9-15l1-10l-1-9l-9-16l-16-9l-9-1l-10 1l-15 9l-9 16l-2 9l2 10l9 15l15 9zM46 12l-16-5l-9-13l-2-9l2-8l9-13l16-5l8 1l13 10l5 15l-1 9l-10 13z"/><path id="s5ba4" d="M148-74l-37-3l69-12l14 22l13 2l8-7l2-11l-8-14l-20-14l-33-9l-2 2l22 23l-109 2l73-32l-23-12h81l34-28l9-3l-26-25l-15 15h-66l6-5l4-7l-2-8l-7-8l-13-5l-23 1l11 13l6 17l5 2h-73l-4-14h-4l-5 19l-6 7l-13 10l-4 6v8l6 7l9 2l9-3l6-5l7-18v-12h154l-2 27l-24-19l-15 19h-117l2 7h54l-35 31l-19 10l-9 2l13 32l7-7l50-7v36h-72l2 7h70v37h-98l2 7h220l8-4l-31-24l-17 21h-52v-37h68l8-4l-30-23l-16 20h-30v-27l6-2z"/><path id="s51fa" d="M232-82l-36-3v77h-58v-99h46v14l15-2l13-5v-78l6-2l2-4l-36-3v73h-46v-86l7-2l3-5l-39-3v96h-43v-64l7-2l2-4l-37-4v71l-8 7l29 17l9-14h41v99h-55v-68l7-2l2-4l-37-4v75l-8 7l29 18l9-15h140v21l24-4l4-3v-88l6-3z"/><path id="s9762" d="M26-144v165l18-2l8-3l3-3v-12h138v18l18-2l13-6v-145l10-6l-28-22l-14 18h-84l34-37h94l6-4l-10-8l-22-17l-17 22h-185l2 7h92l-3 37h-41l-32-12zM55-6v-131h27v131zM193-6h-27v-131h27zM109-137h30v38h-30zM109-92h30v39h-30zM109-46h30v40h-30z"/><path id="s82b1" d="M198-135l-19 27l-22 24v-51l7-2l2-5l-38-3v88l-41 30l2 3l39-16l1 40l4 7l6 5l23 3h45l25-4l10-7l1-6l-2-6l-9-6v-36h-3l-12 35l-7 3l-42 1l-9-2l-2-5v-39l32-24l29-29l8 1l4-2zM8-180l2 7h62v26l-5-2l-8 21l-20 38l-35 46l3 3l16-10l31-24v97l16-1l12-6v-108l8-5l-12-5l16-26l7-1l4-3l-28-12l12-1l12-6v-21h46v27h5l12-1l12-6v-20h59l7-4l-27-24l-15 21h-24v-22l7-3l2-4l-38-3v32h-46v-22l7-3l2-4l-38-3v32z"/><path id="s56ed" d="M66-156l2 7h112l7-4l-28-22l-15 19zM21-194v216l16-2l9-4l3-5v-9h151v18l15-2l13-8v-192l11-5l-28-22l-13 15h-146l-31-12zM200-5h-151v-181h151zM56-117l2 7h30l-3 34l-3 15l-7 14l-10 12l-13 12l1 3l20-10l16-11l12-14l8-16l8-39h13v60l3 17l6 4l24 1l16-1l10-3l5-5l1-12l-6-5l-1-27h-3l-8 26l-5 3h-12l-5-4v-54h35l7-4l-28-22l-15 19z"/><path id="s5904" d="M190-209l-38-4v192l16-1l12-6v-108l20 24l14 24l13 3l9-5l2-12l-7-16l-18-14l-33-12v-58l7-3zM93-206l-43-6l-17 78l-17 49l-10 20l3 2l14-17l25-39l9 40l13 31l-28 38l-37 30l2 4l30-15l25-18l20-19l14 15l17 11l19 8l46 8l49 1l5-16l5-6l7-3v-3l-60-1l-42-5l-34-14l-14-11l10-16l14-33l14-53l10-4l-27-24l-15 16h-32l15-44l7-1zM52-126l12-26h38l-9 46l-15 42l-14-27z"/><path id="s91c7" d="M194-212l-80 21l-96 17v3l100-4l88-10l11 2l6-1zM37-164l-3 2l14 26l5 20l13 5l10-4l5-10l-3-14l-14-14zM99-170l-2 2l11 24l3 18l12 5l10-4l6-9l-2-13l-13-12zM188-174l-16 35l-17 29l3 2l29-19l28-24l7-1l4-3zM109-118v27h-99l3 7h77l-20 34l-13 16l-32 29l-17 13l2 2l20-8l36-20l30-25l13-14v79l17-1l9-4l4-3v-98l20 40l12 17l14 14l34 22l9-17l14-9v-3l-36-14l-18-9l-30-26l-12-15h88l7-4l-32-24l-17 21h-53v-17l6-2l2-4z"/><path id="s5149" d="M32-196l-2 1l12 20l9 21l5 22l14 6l10-5l5-13l-5-17l-16-19zM188-198l-30 72l2 2l30-24l28-28l7-1l3-3zM109-212v98h-101l2 8h66l-2 26l-5 24l-8 22l-13 20l-18 17l-23 16l1 3l33-12l25-17l19-20l12-23l8-26l4-30h26v95l4 18l6 5l22 3l56-2l16-6l5-10l-2-7l-8-6l-1-39h-3l-12 38l-6 4l-45-1l-2-4v-88h71l7-4l-31-24l-16 20h-56v-88l6-3l3-4z"/><path id="s5b8c" d="M103-212l-2 2l12 15l5 20l14 5l11-5l6-10l-3-12l-15-11zM168-147l-15 19h-99l2 7h132l7-4zM42-185h-3l-1 9l-5 9l-20 16l-4 8v9l4 7l7 4h8l7-3l6-5l7-19v-13h153l-7 31l2 2l37-27l9-3l-27-26l-15 16h-153zM208-106l-16 18h-174l2 8h57l-6 37l-7 17l-12 16l-19 15l-26 14l2 3l36-11l26-13l18-17l11-18l6-21l3-22h26l1 81l3 7l5 5l22 3l44-1l14-1l15-6l5-10l-2-7l-8-5l-1-34h-3l-11 32l-7 4h-39l-7-1l-2-3v-64h66l6-4z"/><path id="s6210" d="M31-161v75l-4 45l-11 42l-11 20l3 3l21-20l14-21l10-23l5-23l3-44h31l-2 45l-3 15l-2 3l-7 2l-20-1v3l16 8l3 19l11-1l16-7l9-13l4-26l3-43l10-4l-26-21l-14 14h-29v-40h70l8 56l17 50l-30 36l-38 29l2 3l43-21l34-27l21 25l16 14l19 8h9l8-4l2-5l-1-9l-7-13l6-42h-3l-19 34l-19-16l-12-15l20-32l15-33l7-1l3-3l-40-13l-7 27l-11 28l-12-49l-3-27h75l8-4l-27-21v-12l-4-6l-9-5l-13-3l-17-1l-2 2l15 13l10 17l10 2l-9 11h-37l-1-40l7-3l2-4l-38-4l1 51h-65l-34-12z"/><path id="s5bbd" d="M50-114v91l17-2l11-5v-65h91v70l18-1l12-5v-62l9-5l-26-20l-14 16h-88zM40-196h-4l-4 16l-18 16l-4 7l1 8l6 7l8 2l9-2l6-7l4-9l1-13h161v18l-4-3l-16 20h-16v-19l7-3l3-4l-36-4v30h-44v-20l7-2l3-4l-36-4v30h-51l2 7h49v21l15-1l11-4v-16h44v22l15-1l11-5v-16h52l8-4l-20-16l25-16l9-3l-26-25l-15 15h-71l7-5l4-7l-1-8l-7-8l-13-5h-23l10 13l4 16l6 4h-74zM143-84l-39-3l-5 38l-9 18l-16 18l-26 16l-39 16l2 3l32-7l46-19l15-10l20-22v39l3 6l5 4l22 3h47l14-2l16-5l5-9l-2-6l-8-4v-28h-3l-10 27l-7 3l-55-1l-2-43l5-2l2-4l-24-2l3-17l6-2z"/><path id="s53cd" d="M43-178v80l-6 48l-6 25l-10 23l-14 22l2 2l25-21l18-23l11-25l7-26l3-48h18l13 47l20 36l-39 33l-49 24l2 3l56-17l45-26l35 25l43 18l10-18l18-9l1-3l-32-7l-29-10l-26-13l29-36l20-41l12-4l-30-27l-18 18h-99v-43l68-2l83-9l-24-30l-67 20l-62 14l-28-9zM174-121l-15 36l-21 32l-25-29l-17-39z"/><path id="s6cbf" d="M20-53h-12v5l14 4l3 3l3 26l-3 25l6 9l8 3l9-1l6-4l4-7l1-20l-7-25l-1-15l9-29l40-104l-4-1l-64 121zM9-152l-2 2l17 20l8 16l12 3l9-6l3-10l-5-11l-15-9zM29-208l-2 2l18 21l9 17l12 3l10-5l3-11l-5-12l-16-10zM108-194v36l-5 30l-7 15l-9 14l-13 14l1 3l21-10v115l18-2l8-3l3-2v-18h62v23l19-1l9-3l3-3v-86l10-4l-28-21l-14 16h-58l-32-12l16-12l12-14l7-14l6-27l1-25h37v59l4 18l6 4l25 1l23-2l6-3l5-11l-2-6l-8-5l-26 2l-4-4v-50l9-4l-26-22l-15 16h-30l-34-12zM125-9v-65h62v65z"/><path id="s518d" d="M15-189l2 7h91v33h-36l-33-13v104h-33l2 8h31v72l18-2l11-7v-63h112v33l-6 5l-35-2v4l11 3l13 7l3 6l4 16l15-3l18-9l6-14l1-46h29l7-4l-24-22l-12 18v-78l11-6l-30-24l-14 17h-39v-33h91l7-4l-31-24l-17 21zM180-58h-42v-39h42zM180-104h-42v-38h42zM68-58v-39h40v39zM68-104v-38h40v38z"/><path id="s780c" d="M78-206l-14 18h-57l2 7h27l-13 65l-18 60l3 2l15-22v84l15-1l9-6v-23h19v19l17-3l7-4v-95l8-4l-23-19l-11 13l-20-2l11-31l8-33h35l6-4v50l-24 5l4 6l20-4v68l-2 7l-9 7l19 27l45-61l-1-2l-27 17v-68l28-5l5-6l-22-14l-7 17l-4 1v-62l6-5l-31-3v25zM192-184h-52l2 7h24l-2 77l-5 34l-10 31l-16 28l-25 25l3 4l33-23l23-28l14-31l7-35l4-82h17l-2 86l-5 54l-4 15l-4 8l-9 4l-25-2v4l11 4l8 6l4 19l17-3l8-5l7-6l6-10l8-41l5-129l12-5l-26-22l-14 16zM47-28v-80h19v80z"/><path id="s7816" d="M210-187l-15 19h-23l7-32l7-2l3-4l-37-6l-8 44h-38l2 8h35l-9 41h-34l2 7h30l-8 30l-10 6l27 16l11-12h40l-18 44l-34-7l-22-1l-2 2l40 24l34 32h11l7-5l3-9l-3-11l-9-12l-17-10l42-41l11-3l-27-26l-17 16h-39l8-33h76l7-4l-28-24l-15 21h-38l9-41h59l7-4zM53-23v-81h19v81zM82-207l-16 20h-58l2 7h31l-14 68l-13 42l-9 19l4 2l19-25v86l15-2l7-3l3-3v-20h19v16l14-2l12-5v-93l10-5l-26-19l-12 13h-14l-6-3l12-31l8-35h34l7-4z"/><path id="s6216" d="M8-27l17 31l6-6l104-42l-1-4zM88-75h-31v-46h31zM57-56v-12h31v14l15-2l13-6v-56l8-4l-25-20l-13 14h-28l-28-12v92l15-2zM171-208l-39-4l1 48h-125l2 8h123l6 60l13 51l-34 35l-46 28l2 4l49-21l39-27l20 24l25 18l19 6l8-2l7-5l2-5l-3-8l-6-11l5-41l-3-1l-11 26l-7 9l-22-15l-13-17l24-35l17-37l6-1l4-3l-38-13l-10 31l-14 31l-7-38l-3-43h75l7-4l-24-19v-12l-4-6l-8-5l-13-3l-17-1l-2 2l13 13l10 17l5 1l-8 9h-34v-36l7-3z"/><path id="s680f" d="M218-25l-16 21h-122l2 7h159l7-4zM202-96l-15 20h-79l2 7h113l7-4zM107-208l-3 2l13 25l7 28l13 5l9-4l5-11l-3-15l-14-16zM212-159l-16 20h-21l21-25l19-30l7-1l3-4l-38-12l-19 72h-74l2 7h136l7-4zM86-170l-12 19h-5v-51l7-3l2-5l-36-3v62h-34l2 7h28l-13 56l-13 34l-8 16l2 2l14-14l22-30v102l15-1l12-7v-132l9 19l4 20l11 5l9-3l4-9l-2-13l-12-13l-23-13v-19h33l7-4z"/><path id="s6746" d="M105-109l2 7h50v124l19-2l9-4l3-3v-115h52l7-4l-27-25l-14 22h-18v-73h46l7-4l-27-22l-14 19h-92l2 7h47v73zM48-212v60h-37l2 7h31l-15 56l-15 34l-10 15l4 3l14-13l26-31v103h5l11-2l12-6v-124l8 18l4 20l11 5l10-3l5-9l-2-12l-12-13l-24-12v-29h36l7-4l-24-22l-14 19h-5v-49l7-3l2-4z"/><path id="s536b" d="M212-29l-19 25h-63v-180h60l-3 75l-4 25l-3 6l-9 2l-28-1v3l16 6l5 5l4 8l1 13l19-3l14-8l6-8l4-12l6-40l3-67l10-4l-27-24l-16 16h-168l2 8h76v180h-91l2 7h229l7-4z"/><path id="s751f" d="M52-204l-19 66l-28 54l3 2l21-17l18-21l17-24h44v64h-70l2 8h68v75h-100l2 7h225l7-4l-32-26l-18 23h-52v-75h74l7-4l-32-26l-17 22h-32v-64h81l7-4l-31-24l-17 22h-40v-50l7-3l2-4l-41-4v61h-40l16-36l7-1l3-4z"/><path id="s8e72" d="M202-97h-72v-3l19-13l9-15l2-14h10l1 29l4 5l8 1l19-1zM202-90v15h-72v-15zM216-192l-13 16h-23l28-25l7-1l3-4l-34-8l-12 38h-26l6-3l4-6l-1-8l-5-7l-11-7l-17-5l-3 2l9 14l4 16l8 4h-43l2 7h43v21h-11l-25-11v105l21-5l3-3v-6h72v6l16-2l6-4v-69l11-5l-25-19l-11 13h-11v-21h46l6-4zM202-142v20h-14l-2-2v-18zM130-106v-36h14l-3 18zM160-148v-21h10v21zM222-61l-12 15h-10v-8l6-2l2-5l-33-3v18h-86l2 7h84v30l-5 4l-24-1l1-11l-11-11l-11-4l-15-2l-2 1l11 13l5 16l11 4l8-4l12 5l7 5l5 17l22-5l9-10l2-47h37l7-4zM42-135v-52h29v52zM43-96l-25-2v82l-12 2l12 32l7-6l80-39l-1-3l-33 6v-49h27l6-4l-18-21l-12 18h-3v-47v8l17-3l7-3v-59l9-4l-24-18l-11 12h-24l-27-12v90l15-1l9-5v-5h6v107l-11 2v-73z"/><path id="s4f4d" d="M127-212l-2 2l15 28l4 20l14 6l11-4l5-12l-4-14l-14-14zM98-130l-3 1l7 18l8 38l4 51l11 9l11-6l7-16l-1-26l-14-32zM209-173l-16 21h-115l2 7h152l7-4zM74-138l-12-4l26-52l7-2l3-4l-42-12l-23 71l-30 59l3 2l31-29v131l17-1l13-7v-147zM213-23l-17 23h-33l30-62l21-57l6-2l3-4l-41-10l-10 67l-13 68h-88l2 6h164l7-4z"/><path id="s6cd5" d="M24-53h-11v5l13 4l3 3l2 26l-2 25l5 10l8 2l9-1l6-4l4-7l1-20l-8-26v-15l6-28l30-98l-4-1l-52 115zM10-152l-2 1l13 16l9 19l12 4l9-5l3-9l-4-11l-14-10zM30-209l-2 2l16 21l7 17l13 3l9-4l4-10l-4-12l-15-11zM205-180l-16 20h-20v-42l7-2l2-4l-38-4v52h-50l2 8h48v53h-67l2 7h61l-13 26l-18 27l-18 19l-9 3l14 35l7-6l103-27l10 29l14 6l11-7l3-15l-7-19l-19-21l-36-20l-2 2l23 38l-96 6l36-28l30-29l9-4l-33-15h94l7-4l-30-25l-16 22h-31v-53h58l7-4z"/><path id="s53c2" d="M218-25l-27-25l-19 15l-52 27l-61 20l-31 6v4l34-2l67-12l57-20l22-13zM185-59l-26-21l-15 13l-39 25l-46 21l-23 8l1 4l52-11l49-18l38-20zM157-91l-27-19l-12 12l-30 26l-54 31l1 3l43-13l39-18l31-21zM151-190l-3 2l26 24l-107 2l71-36l-34-14l-16 17l-21 18l-11 8l-20 7l14 31l5-5l40-6l-11 18h-74l2 6h67l-32 34l-40 27l1 3l23-7l39-19l16-12l28-26h41l8 14l20 23l12 10l27 15l8-17l14-9v-2l-45-13l-26-13l-11-8h72l7-4l-29-23l-16 21h-76l8-11l6-1l4-3l-17-8l58-11l9 15l12 1l8-6l1-11l-8-13l-19-11z"/><path id="s89c1" d="M43-209v151l19-1l12-6v-125h106v129l19-2l13-6v-118l10-5l-28-22l-16 18h-102zM148-168l-39-3l-4 72l-8 33l-17 31l-29 28l-43 25l2 4l35-13l28-15l22-16l16-17l11-19l8-20l1 79l3 7l5 4l23 3h46l24-4l10-8l-1-12l-7-5l-1-44h-3l-12 42l-7 4l-51-1l-2-4v-74l6-2l2-4l-31-3l4-61l7-2z"/><path id="s9633" d="M109-191v6l-26-25l-15 16h-19l-31-12v228l18-1l10-8v-200h23l-15 65l15 25l3 18l-1 17l-4 5l-6 1h-15v4l12 6l4 24l13-2l10-4l7-5l5-8l3-21l-4-21l-5-11l-18-20l-13-9l40-56l9-1v202l17-2l8-3l3-3v-18h62v22l18-2l9-4l3-3v-190l11-5l-27-23l-15 18h-58l-31-12zM137-95h62v84h-62zM137-102v-82h62v82z"/><path id="s53f0" d="M156-175l-2 2l35 39l-140 4l49-30l38-32l7-2l3-3l-40-16l-19 28l-28 30l-27 21l-11 4l10 34l8-6l155-26l14 27l14 3l9-8l1-15l-11-19l-24-19zM174-8h-96v-66h96zM78 12v-13h96v21l16-2l14-5v-81l12-6l-31-23l-15 16h-90l-33-13v116l17-2z"/><path id="s8d70" d="M191-95l-17 21h-34v-31l5-2l3-5l-38-3v96l-24-16l-12-17l10-32l6-2l3-4l-39-7l-6 40l-6 21l-9 20l-11 19l-14 17l2 2l14-9l24-21l9-12l14-25l10 22l12 16l16 11l18 7l23 4l79 1l2-11l4-9l8-4v-3l-103-1v-54h75l7-4zM210-146l-17 22h-54v-40h73l7-4l-30-24l-17 21h-33v-30l7-3l2-4l-39-4v41h-74l2 7h72v40h-98l2 7h221l7-4z"/><path id="s5eca" d="M85-170l-2 1l11 17l3 10l10 3l8-4l4-7l-2-9l-11-8zM216-201l-16 21h-51l5-5l3-8l-3-8l-7-7l-14-4l-21-2l-2 2l12 14l10 18h-71l-34-12v101l-3 47l-10 45l-8 21l2 2l20-21l13-22l9-24l6-48v-82h181l7-4zM109-57l-3 1l11 21l-28 11v-46h32v8l13-1l12-5v-60l8-4l-24-18l-11 12h-27l-27-11v124l-2 6l-9 7l17 29l7-10l42-35l6 28l12 5l9-4l4-11l-3-15l-13-17zM89-131h32v23h-32zM89-78v-23h32v23zM184 13v-155h22l-11 55l12 17l6 28l-4 12l-20 1v3l11 6l3 20l20-5l7-5l7-15v-19l-8-19l-16-17l-12-8l31-48l11-3l-25-24l-14 13h-19l-26-11v183l15-2z"/><path id="s5165" d="M119-172l-10 39l-15 37l-17 34l-21 31l-24 27l-26 23l3 3l28-16l26-19l23-21l20-22l16-24l12-24l18 50l11 22l14 21l15 18l18 15l8-17l8-7l20-8l1-4l-29-17l-25-21l-20-26l-17-30l-13-32l-9-34l-10-14l-17-13l-20-13l-15 28l33 8z"/><path id="s5ea6" d="M214-198l-15 21h-54l6-5l3-8l-2-8l-7-8l-15-6l-22-2l-2 2l13 15l9 18l3 2h-66l-34-13v100l-3 46l-11 44l-10 21l3 1l20-19l14-22l9-23l7-48l1-80h175l6-4zM172-70h-99l2 8h18l14 26l19 20l-42 20l-49 15l1 3l58-9l48-17l36 16l44 10l8-18l14-10v-3l-40-3l-37-7l23-21l13-17l11-4l-25-24zM171-62l-10 14l-19 20l-25-14l-19-20zM129-161l-36-3v27h-30l2 7h28v52l24-3l3-3v-6h40v8l24-4l4-3v-41h41l7-4l-24-23l-13 20h-11v-18l6-2l2-4l-36-3v27h-40v-18l7-2zM160-130v32h-40v-32z"/><path id="s5411" d="M24-164v186l16-2l9-4l3-4v-169h148v141l-6 6l-38-2v4l12 2l14 8l3 5l4 15l15-2l18-9l4-6l2-17v-140l11-5l-29-22l-13 15h-89l32-32l7-2l3-4l-44-10l-12 48h-39l-31-13zM78-120v94l15-1l12-7v-20h41v21l14-1l13-6v-69l10-5l-27-20l-13 14h-37l-28-12zM105-61v-52h41v52z"/><path id="l9633" d="M117-193v210h12v-21h83v18h12v-207zM129-15v-81h83v81zM129-107v-75h83v75zM24-198v216h12v-205h47l-32 59l12 11l15 19l7 16l-1 19l-6 7l-5 3h-29l4 11h23l15-4l6-7l4-9v-20l-6-17l-6-10l-20-20l35-64l-8-5z"/><path id="l53f0" d="M48-86v105h12v-12h130v11h12v-104zM60-5v-69h130v69zM16-128l2 12l189-9l19 25l10-8l-29-35l-39-35l-9 7l38 35l-129 6l43-74l-12-5l-21 40l-24 39z"/><path id="l5916" d="M64-158h56l-10 41l-13 35l-25-19l-28-18zM140-150l-10 4l4-21l-8-3l-57 1l13-37l-13-3l-15 44l-9 20l-23 35l-14 14l11 8l18-22l30 19l24 21l-10 17l-24 30l-14 12l-30 20l10 9l24-16l21-20l20-25l17-29l14-34l11-40l18 28l24 27v109h12v-97l26 22l27 16l9-10l-32-18l-30-25v-114h-12v102l-21-26z"/><path id="l8d70" d="M58-96l-7 40l-6 19l-9 18l-11 17l-15 14l10 7l24-27l16-35l13 21l16 16l19 10l22 7l24 4l81 1l5-13h-70l-39-4v-56h85v-12h-85v-45h102v-11h-103v-41h85v-11h-85v-31h-12v31h-80v11h80v41h-101v11h101v109l-21-11l-18-17l-14-26l6-35z"/><path id="l5eca" d="M130-100v27h-56v-27zM130-110h-56v-24h56zM107-48l19 28l-52 12v-55h68v-81h-36v-25h-11v25h-33v139l-14 3l4 11l79-19l11 21l10-5l-15-28l-21-30zM162-154v172h11v-162h49l-28 56l24 26l6 16v17l-6 7l-9 3l-19-1l3 11h20l13-4l6-6l4-20l-6-24l-13-17l-10-10l31-60l-8-5zM30-186l-1 96l-3 42l-9 41l-8 19l10 7l8-20l10-44l3-44l1-87h195v-10h-98v-22h-12v22z"/><path id="l53ca" d="M23-194v11h47v24l-3 51l-6 28l-10 28l-17 28l-24 28l9 10l22-25l16-26l11-25l8-26l6-48l16 41l10 19l25 34l14 14l-39 22l-43 14l7 11l44-15l40-24l35 22l43 16l8-11l-42-14l-34-21l26-27l11-17l18-37l7-22l-8-3h-58l14-60l-8-2zM156-36l-17-17l-16-21l-13-22l-20-51l-8-28v-8h80l-20 73l12 2l4-14h54l-6 18l-16 31l-10 14z"/><path id="l5165" d="M116-147l-9 35l-13 31l-15 28l-19 24l-23 20l-27 17l11 10l25-17l22-20l19-23l16-27l13-30l10-33l16 51l14 26l19 26l25 24l30 23l10-10l-43-33l-30-37l-19-37l-10-36l-5-58h-76v13h64l3 34z"/><path id="l6237" d="M58-158h138v57h-138zM113-207l15 38h-82l-2 95l-10 45l-10 22l-14 19l10 8l12-17l16-36l5-19l5-38h138v19h12v-98h-77l9-3l-11-28l-5-10z"/><path id="l82b1" d="M78-143l-30 47l-26 27l-14 11l11 8l37-37v105h12v-121l22-37zM217-118l-34 22l-43 20v-66h-12v132l4 17l5 5l20 3h53l16-4l5-6l3-9l4-28l-12-5l-2 29l-3 7l-5 3h-69l-5-4l-2-8v-55l46-21l40-22zM160-209v24h-70v-24h-12v24h-62v12h62v29h12v-29h70v30h12v-30h62v-12h-62v-24z"/><path id="l56ed" d="M64-154v10h122v-10zM46-110v10h46l-5 36l-6 13l-9 12l-12 9l-16 7l7 9l17-8l13-10l10-13l6-15l7-40h36v60l1 11l6 5l41 1l11-4l3-6l3-22l-10-5l-4 25l-5 1l-34-1l-2-65h53v-10zM22-196v215h12v-13h182v13h12v-215zM34-5v-180h182v180z"/><path id="l7ed3" d="M10-10l3 12l86-20l-1-10zM14-108l47-7l-27 34l-17 18l-6 3l5 12l83-18l-1-10l-63 10l32-38l30-43l-12-7l-16 27l-41 4l23-37l19-41l-12-5l-26 55l-16 26l-6 5zM162-209v35h-60v12h60v46h-54v12h122v-12h-56v-46h60v-12h-60v-35zM114-74v92h12v-10h86v10h12v-92zM126-4v-59h86v59z"/><path id="l6784" d="M54-209v55h-40v12h39l-20 55l-26 44l7 11l7-11l15-26l18-46v133h12v-120l29 38l9-10l-38-42v-26h37v-12h-37v-55zM132-209l-18 53l-16 30l-10 13l10 7l16-22l13-27h94l-4 88l-8 63l-3 7l-10 4l-31-1l4 12h31l10-2l6-6l5-8l3-14l5-53l5-102h-102l12-39zM96-46l3 12l85-12l6 19l10-4l-10-27l-16-30l-10 3l16 30l-52 6l27-80l-12-3l-26 84z"/><path id="l964d" d="M174-72v40h-40v-40zM174-105v22h-72v11h20v40h-32v11h84v39h12v-39h49v-11h-49v-40h42v-11h-42v-22zM22-198v216h11v-204h41l-24 59l21 29l4 17v19l-5 7l-8 3h-17l3 10h18l12-4l5-6l3-9l1-20l-5-17l-11-20l-9-10l27-65l-8-5zM202-176l-11 18l-23 23l-21-21l-10-17l3-3zM148-209l-22 33l-22 21l-14 10l8 7l32-26l10 15l19 21l-34 19l-36 12l7 10l37-13l35-21l31 18l35 12l8-10l-35-10l-30-17l24-25l17-30l-8-4l-62 1l12-21z"/><path id="l677f" d="M115-193v91l-5 46l-6 23l-9 23l-12 20l9 8l13-21l9-22l10-47l3-44h6l17 46l23 39l-27 24l-28 15l7 10l29-17l26-23l25 23l28 17l9-9l-29-17l-25-22l27-42l13-35l4-19l-7-2h-98v-54h109v-11zM144-116h74l-15 42l-22 34l-21-35zM54-209v55h-40v12h38l-19 56l-25 46l8 10l7-11l13-26l18-47v132h12v-119l27 38l8-9l-35-44v-26h35v-12h-35v-55z"/><path id="l5747" d="M109-116v12h81v-12zM99-33l5 11l91-35l-2-11zM129-208l-19 51l-18 29l-10 12l11 8l18-26l11-20h100l-6 116l-7 34l-8 11l-47-1l4 12l32 1l18-2l8-7l9-22l5-53l4-101h-106l14-40zM10-36l5 12l83-34l-3-12l-35 14v-81h33v-12h-33v-59h-12v59h-34v12h34v86z"/><path id="l4e3a" d="M44-196l28 37l11-5l-29-37zM127-95l21 26l16 25l11-7l-17-24l-21-25zM106-208v60h-84v12h82l-11 49l-11 24l-17 24l-22 24l-29 22l10 9l30-24l23-24l16-26l12-26l7-26l4-26h94l-4 76l-8 54l-8 10l-47-2l4 13l40 1l11-2l8-6l7-20l6-47l4-89h-105l1-60z"/><path id="l536b" d="M30-190v12h79v174h-95v12h223v-12h-115v-174h81v97l-6 6h-45l5 12l42-1l14-6l2-11v-109z"/><path id="l751f" d="M64-204l-19 52l-18 30l-10 12l11 8l28-44h63v61h-78v12h78v71h-105v12h222v-12h-104v-71h84v-12h-84v-61h93v-12h-93v-50h-13v50h-58l15-43z"/><path id="l95f4" d="M26-154v173h12v-173zM30-199l30 36l10-7l-31-34zM91-76h67v40h-67zM91-126h67v40h-67zM80-136v110h90v-110zM90-194v12h122v184l-4 4h-26l4 12l31-2l6-5l1-10v-195z"/><path id="l5b8c" d="M55-135v11h140v-11zM14-88v11h69l-9 38l-9 15l-13 14l-18 11l-24 8l8 10l24-10l19-12l14-14l10-18l7-20l4-22h50v71l1 10l4 6l8 3l12 1h43l13-4l4-4l6-34l-11-4l-2 25l-6 9l-57-1l-3-7v-71h77v-11zM21-180v49h13v-37h182v37h13v-49h-98v-29h-13v29z"/><path id="l6210" d="M168-198l27 15l21 15l7-8l-16-12l-31-18zM140-208l2 45h-107v85l-4 37l-11 36l-9 17l10 8l10-18l12-39l4-39l1-28h53l-5 69l-2 4l-8 2l-29-1l3 11l39-1l6-4l4-12l3-79h-64v-37h94l8 60l12 50l-29 27l-33 22l9 10l30-21l27-26l13 25l16 16l9 4l17 1l6-4l4-7l7-42l-10-6l-6 40l-3 6l-4 1l-8-1l-14-10l-18-33l26-39l19-46l-12-3l-16 40l-21 34l-10-44l-6-54h81v-11h-82l-1-45z"/><path id="l9762" d="M93-86h62v34h-62zM93-97v-34h62v34zM93-42h62v36h-62zM16-191v12h100l-10 37h-78v161h12v-14h170v14h12v-161h-104l12-37h105v-12zM40-6v-125h42v125zM210-6h-44v-125h44z"/><path id="l6807" d="M116-188v12h109v-12zM196-82l18 39l11 36l12-4l-12-36l-18-39zM127-85l-14 39l-20 32l11 7l19-34l15-42zM106-128v12h56v117l-5 5l-31-1l4 13l36-2l6-6l2-9v-117h64v-12zM55-209v55h-40v12h37l-20 50l-25 40l8 11l7-10l14-24l19-43v136h12v-137l26 39l8-10l-34-44v-8h35v-12h-35v-55z"/><path id="l9ad8" d="M71-146h109v30h-109zM59-156v50h133v-50zM118-208v25h-101v11h216v-11h-103v-25zM29-87v105h11v-94h171v77l-6 5h-39l4 12l37-1l7-1l7-5l1-9v-89zM89-48h73v32h-73zM78-57v64h11v-13h84v-51z"/><path id="l53a8" d="M53-159v11h94v-11zM73-116h53v38h-53zM62-127v59h76v-59zM47 0l2 11l101-13v-11zM66-57l10 28l2 17l12-3l-6-26l-8-19zM152-93l14 27l8 25l10-4l-8-25l-14-26zM122-61l-13 44l9 3l15-44zM203-172v42h-56v11h56v121l-5 5l-30-1l4 12l29-1l12-6l2-9v-121h23v-11h-23v-42zM32-195l-1 93l-3 46l-9 47l-9 21l10 6l9-22l11-49l3-48l1-83h192v-11z"/><path id="l623f" d="M21-194v11h209v-11zM52-152h152v30h-152zM52-111h75v25h-76zM40-162l-1 73l-5 39l-14 39l-12 17l11 7l16-27l10-31l5-30h60l-9 37l-9 16l-13 13l-17 11l-23 8l7 10l19-7l27-18l10-10l13-26h82l-4 30l-7 19l-9 2l-34-2l3 11l35 1l9-1l6-4l8-18l6-49h-92l4-23h114v-11h-98v-25h78v-51z"/><path id="l91c7" d="M204-172l-18 32l-20 30l9 5l41-62zM38-159l18 29l7 18l11-5l-7-18l-19-28zM106-168l8 19l8 28l12-3l-4-18l-12-29zM210-204l-84 10l-100 6l3 11l101-6l89-11zM16-92v12h92l-13 16l-32 29l-35 24l-18 9l10 10l35-22l18-13l32-32l13-17v94h13v-94l29 33l35 29l36 22l9-11l-18-8l-35-24l-33-30l-13-15h93v-12h-103v-24h-13v24z"/><path id="l7528" d="M40-190l-2 128l-8 39l-9 18l-12 17l9 8l17-25l10-27l5-28h70v77h12v-77h76l-2 64l-47 1l5 12l40-1l11-4l4-5l1-8v-189zM52-179h68v47h-68zM208-179v47h-76v-47zM52-120h68v48h-69zM208-120v48h-76v-48z"/><path id="l9884" d="M170-126v52l-3 29l-7 15l-11 14l-19 13l-26 11l7 10l28-13l19-15l13-15l7-17l4-32v-52zM182-25l47 43l9-10l-48-41zM25-156l52 40h-66v11h44v107l-5 4h-29l4 12l28-1l12-6l1-9v-107h34l-17 40l9 3l24-52l-8-3l-23 1l5-6l-26-19l23-23l20-27l-7-5h-84v12h73l-33 37l-24-17zM126-156v118h12v-106h78v106h12v-118h-52l11-30h51v-10h-121v10h57l-10 30z"/><path id="l5236" d="M174-184v136h12v-136zM218-207v205l-5 6h-35l4 13l39-2l7-6l2-11v-205zM40-202l-11 36l-16 31l11 4l14-29h38v31h-64v12h64v29h-51v86h11v-74h40v94h12v-94h42v60l-4 3h-25l4 11l29-2l6-4l1-8v-72h-53v-29h64v-12h-64v-31h54v-11h-54v-37h-12v37h-33l9-29z"/><path id="l6392" d="M78-47l5 11l46-17l-8 24l-6 11l-19 20l-12 9l9 8l20-16l14-18l9-20l6-21l2-23l1-129h-11v43h-44v11h44v42h-42v10h42l-3 38zM176-208v226h12v-64h51v-12h-51v-44h44v-10h-44v-42h46v-11h-46v-43zM46-208v52h-35v11h35v56l-38 13l4 11l34-11v79l-5 4h-25l4 11h23l12-6l2-9v-83l29-11l-1-11l-28 9v-52h30v-11h-30v-52z"/><path id="l6c14" d="M63-146v11h151v-11zM67-209l-24 53l-22 30l-11 12l10 8l23-28l19-34h169v-11h-163l11-27zM39-111v11h140l6 60l5 24l8 19l11 11l13 4l6-1l5-4l3-8l3-26l-9-7l-2 25l-2 7l-3 3l-10-5l-8-13l-10-44l-4-56z"/><path id="l9053" d="M17-195l26 20l19 20l9-8l-20-20l-25-19zM111-94h92v25h-92zM111-59h92v26h-92zM111-129h92v25h-92zM99-140v117h116v-117h-61l7-23h75v-11h-50l20-31l-12-3l-20 34h-47l8-4l-8-15l-11-15l-10 4l19 30h-47v11h70l-5 23zM63-109h-50v11h38v70l-40 32l7 13l40-34l18 16l11 6l28 7l49 2l71-1l5-13l-110 2l-28-4l-23-10l-16-16z"/><path id="l505a" d="M76-95v101h10v-15h61v-86h-30v-51h37v-12h-37v-48h-12v48h-38v12h38v51zM86-84h50v64h-50zM173-148h43l-9 52l-15 42l-13-45zM175-209l-13 59l-12 33l-8 15l9 8l14-30l7 42l14 40l-22 30l-31 23l9 9l10-7l26-24l14-19l18 27l24 22l8-9l-25-23l-19-28l18-48l11-59h12v-11h-63l10-48zM62-207l-25 58l-32 47l8 11l28-41v151h12v-173l20-50z"/><path id="l6cd5" d="M24-198l27 13l23 15l7-10l-23-14l-27-12zM11-128l28 11l23 13l6-10l-23-13l-28-11zM21 8l10 8l15-26l30-56l-9-8zM180-54l30 40l-98 6l35-81h89v-12h-74v-52h63v-12h-63v-43h-12v43h-61v12h61v52h-73v12h56l-16 42l-18 39l-22 2l2 12l138-9l11 22l12-6l-21-35l-28-37z"/><path id="l56fe" d="M96-71l31 8l27 11l5-9l-26-10l-31-9zM70-40l55 10l46 13l6-10l-47-12l-54-10zM23-197v215h11v-11h181v11h12v-215zM34-4v-182h181v182zM105-177l-25 31l-32 24l10 8l27-22l14 14l18 13l-36 15l-37 10l6 10l39-11l38-18l35 16l37 11l7-10l-36-9l-33-14l26-20l21-25l-8-4l-72 1l11-17zM92-144l3-3h71l-13 14l-26 18l-23-16z"/><path id="l96c6" d="M67-209l-23 39l-36 38l9 8l28-29v78h73v19h-104v11h91l-45 29l-51 21l9 10l17-6l54-28l29-24v61h12v-60l14 11l34 21l55 23l8-11l-52-19l-32-18l-13-10h92v-11h-106v-19h99v-10h-95v-21h76v-10h-76v-21h75v-9h-75v-21h84v-11h-87l15-28l-13-3l-14 31h-56l17-29zM122-137v21h-65v-21zM122-146h-65v-21h65zM122-106v21h-65v-21z"/><path id="l578b" d="M162-194v83h12v-83zM210-208v115l-6 5l-32-1l4 12l31-1l12-6l2-9v-115zM101-186v38h-37v-38zM18-148v12h34l-9 28l-14 18l-11 8l8 9l12-9l15-21l10-33h38v56h11v-56h32v-12h-32v-38h27v-12h-112v12h25v38zM121-85v33h-83v11h83v39h-109v12h226v-12h-105v-39h78v-11h-78v-33z"/><path id="l7b2c" d="M46-98l-15 58l12 2l3-10h61l-13 11l-32 20l-52 21l8 10l55-25l33-22l13-13v64h12v-66h84l-4 26l-7 17l-8 2l-31-1l3 11l40-1l9-7l7-23l4-35h-97v-29h83v-52h-182v11h87v31zM56-88h63v29h-71zM131-129h71v31h-71zM47-209l-15 32l-22 28l10 7l24-33h14l10 30l12-3l-10-27h52v-11h-72l9-20zM144-209l-18 33l-25 26l11 7l27-32h23l18 32l11-5l-17-27h64v-11h-92l10-20z"/><path id="l9875" d="M120-118l-2 60l-4 15l-11 14l-19 14l-28 12l-42 11l7 10l43-12l30-13l20-15l11-16l5-17l2-17v-46zM138-30l46 25l38 25l8-10l-39-24l-46-24zM46-148v117h12v-105h135v105h13v-117h-90l16-34h101v-12h-213v12h98l-14 34z"/><path id="l53f7" d="M60-186h133v48h-133zM48-198v71h157v-71zM12-104v12h59l-21 54l13 3l7-19h120l-5 31l-10 25l-8 6l-51-2l5 12h13h39l13-9l11-31l8-44h-130l9-26h154v-12z"/><path id="s4f4f" d="M120-210l-2 2l19 20l15 25l13 2l9-6l2-11l-7-14l-18-12zM72 4l2 7h165l7-4l-30-25l-17 22h-29v-79h59l7-3l-28-23l-14 19h-24v-64h62l8-4l-30-24l-16 20h-116l2 8h58v64h-54l2 7h52v79zM56-212l-22 71l-30 58l3 2l30-28v131l16-1l13-7v-140l8-5l-16-6l15-27l13-31l7-1l3-4z"/><path id="s5b85" d="M103-212l-2 2l12 15l5 20l14 5l11-5l6-10l-3-12l-15-11zM42-185h-3l-1 9l-5 9l-20 16l-4 8v9l4 7l7 4h8l7-3l6-5l7-19v-13h153l-7 31l2 2l37-27l9-3l-27-26l-15 16h-153zM192-125l-28-25l-58 23l-72 19l1 3l63-5v42l-86 12l3 6l83-10l1 58l3 7l12 8l24 2h57l30-4l8-4l4-4l1-6l-3-8l-9-5l-1-37h-3l-13 35l-9 4l-58 1l-11-2l-2-5v-44l99-13l6-5l-32-20l-14 23l-59 7v-42l48-11l9 2z"/><path id="s5957" d="M206-68l-17 20h-91v-24h84l6-4l-25-20l-14 17h-51v-23h81l6-4l-24-19l-13 16h-50v-22h79l21 18l24 14l6-15l15-11l1-3l-48-14l-28-17l-10-11h75l7-4l-30-25l-17 21h-75l11-19l7-1l3-3l-38-13l-16 36h-75l2 8h69l-31 39l-28 24l-16 11l2 2l22-9l38-22v77h-55l2 7h66l-24 22l-16 7l10 33l7-5l119-24l17 27l13 2l9-7l1-12l-8-15l-21-13l-34-10l-2 2l20 21l-108 3l32-14l28-17h105l7-4zM150-170l11 20l-10 12h-50l-11-5l23-27z"/><path id="s623f" d="M120-129l-2 1l10 14l8 17l12 3l10-4l4-9l-3-10l-13-9zM212-112l-16 20h-127l2 7h42l-5 36l-7 18l-12 17l-19 17l-27 16l2 3l29-10l22-12l17-12l13-14l8-14l6-15h46l-2 14l-4 21l-6 10l-8 2l-34-2v3l19 6l6 4l4 7l1 10l19-1l13-6l6-5l8-16l7-42l9-4l-26-22l-14 14h-42l4-23h88l6-4zM38-180v82l-6 49l-6 24l-9 23l-14 22l3 2l24-21l17-23l11-26l6-25l3-57h124v10l16-2l14-6v-37l10-5l-29-22l-13 15h-45l6-6l1-8l-3-8l-9-8l-15-5l-23-1l-1 2l15 15l12 19h-55l-34-12zM67-137v-33h124v33z"/><path id="s4e24" d="M12-194l2 8h63v40h-21l-32-12v180l17-1l12-9v-41l15-10l19-25l6-14l7-28l7 20l2 20l9 6l8-2l-15 34l3 2l13-10l18-24l6-13l6-26l11 29l2 19l11 5l8-4l5-11l-2-16l-11-18l-22-19l1-25h34v125l-6 6l-40-2v3l13 3l15 7l4 8l3 12l15-2l19-9l4-6l3-16v-124l10-5l-29-22l-13 15h-32v-40h74l8-4l-32-25l-18 21zM102-117l1-22h31l-3 54l-12-19zM53-32v-107h24l-4 54l-11 36zM103-146v-40h31v40z"/><path id="s65e0" d="M209-142l-17 23h-67l4-63h89l7-4l-31-25l-17 22h-150l2 7h69l-2 53l-1 10h-84l2 7h81l-4 24l-7 23l-11 22l-16 22l-20 20l-28 19l3 4l36-18l27-19l21-22l14-23l9-25l6-27h8v98l4 18l6 5l22 3l58-2l16-6l4-10l-1-7l-9-6v-34h-3l-12 33l-6 4h-40l-7-2l-2-4v-90h72l6-4z"/><path id="s969c" d="M20-203v225l16-2l10-7v-64l8 5l4 21l20-5l11-13l3-20l-4-21l-11-20l-19-18l34-56l24 2l7 16l3 17l6 4h-48l2 7h149l7-4l-24-20l-14 17h-24l24-23l6-1l4-4l-26-9h43l6-4l-23-20l-13 17h-33l5-4l3-6l-1-7l-6-6l-11-5l-17-2l-2 2l9 16l2 10l4 2h-54l-24-22l-14 13h-13zM193-108v19h-65v-19zM218-47l-14 18h-30v-25h19v8l14-1l13-6v-52l8-4l-25-19l-12 12h-62l-28-10v85l23-5l4-3v-5h19v25h-63l2 7h61v44l16-1l11-5v-38h62l7-4zM128-62v-20h65v20zM172-139h-31l8-9v-7l-3-7l-9-8l-13-6h58zM46-184h18l-13 62l11 21l4 20v20l-4 5l-5 1h-11z"/><path id="s788d" d="M119-57l-2 2l10 16l7 20l12 4l9-5l5-9l-4-11l-12-10zM225-84l-13 17h-3v-28h24l7-4l-21-17l6-4v-68l9-4l-24-19l-13 15h-49l-29-12v98l23-3l3-3v-6h53v8h12l-10 12h-89l2 7h69v28h-77l2 7h75v50l-5 4l-27-1v3l13 4l7 5l4 18l14-2l15-8l6-14v-59h33l6-4zM145-130v-26h53v26zM145-163v-26h53v26zM53-31v-81h23v81zM90-207l-15 19h-67l2 7h30l-13 67l-21 61l4 2l18-25v81l15-1l10-6v-22h23v17l13-1l12-6v-94l10-5l-25-19l-12 13l-22-1l10-30l7-31h41l6-4z"/><path id="s7a7a" d="M111-135l9-1l4-4l-39-20l-28 37l-40 35l2 2l35-13l32-17zM38-191h-3l-1 11l-3 10l-5 8l-13 11l-4 6v9l6 7l8 2l15-7l7-13l1-21h155l-5 26l-34-9l-22-2l-2 2l39 27l31 33l11 1l8-5l4-8l-2-11l-9-12l-16-12l30-23l10-3l-28-27l-17 17h-65l8-5l5-8l-1-9l-7-9l-14-6l-23-2l-2 1l11 15l4 19l9 4h-80zM210-20l-15 21h-55v-76h70l7-4l-27-24l-15 21h-139l2 7h72v76h-100l3 7h219l7-4z"/><path id="s8c03" d="M23-210l-2 2l17 25l7 18l12 4l9-5l4-10l-5-13l-15-12zM91-196v99l-3 41l-24 14v-92l10-4l-24-20l-13 12h-31l2 8h28v103l-2 7l-10 7l20 31l44-62l-10 37l-12 23l-8 11l3 2l22-18l16-20l10-22l5-22l2-24l1-101h87v72l-18-18l-10 17h-7v-30h27l6-4l-18-18l-10 15h-5v-20l8-5l-31-3v28h-25l2 7h23v30h-28l2 7h84v95l-5 5l-28-2v4l9 2l11 7l5 19l22-6l6-4l6-14v-180l11-5l-27-21l-12 15h-81l-30-11zM148-42v-42h22v42zM148-26v-9h22v12l15-3l7-3v-51l10-5l-24-17l-11 12h-19l-23-10v81l16-3z"/><path id="s673a" d="M120-190v87l-3 46l-4 22l-7 20l-11 19l-16 17l3 2l26-17l18-19l12-21l6-22l3-23l1-104h32v175v10l3 8l7 4l11 1l26-1l10-3l6-5l2-7l-2-6l-7-6v-31h-3l-9 30l-4 2h-9l-3-5v-163l10-4l-27-23l-15 17h-24l-32-12zM45-212v60h-37l2 8h31l-13 56l-14 34l-8 15l3 3l7-7l29-37v102h6l10-1l12-7v-134l8 18l4 19l11 5l9-3l5-9l-2-12l-11-12l-24-11v-19h35l7-4l-24-24l-13 20h-5v-50l7-2l2-5z"/><path id="s6d1e" d="M26-209l-2 2l14 17l10 20l12 3l9-5l4-9l-5-12l-14-10zM8-154l-2 2l12 16l7 20l11 4l9-4l5-9l-4-11l-13-11zM23-53h-11v5l13 4l2 3l3 26l-3 25l5 9l8 3l8-1l7-4l4-7l1-21l-8-25l-1-15l27-109l-4-2l-41 99zM118-150l2 7h78l7-4l-25-23l-14 20zM85-192v214l16-1l10-7v-198h94v170l-5 6l-32-2v4l11 2l11 7l4 8l2 11l23-6l7-4l5-14l1-178l10-5l-27-21l-13 14h-88l-29-11zM148-108h19v54h-19zM125-115v89l17-2l6-4v-16h19v18l16-2l7-4v-69l8-5l-22-17l-11 12h-14l-26-10z"/><path id="s5f84" d="M92-195l-36-17l-21 35l-29 34l2 3l29-15l25-18l21-19h6zM195-96l-15 18h-86l2 8h44v71h-65l2 7h158l7-4l-27-22l-14 19h-31v-71h45l7-4zM168-130l27 21l21 22h13l7-6v-11l-9-13l-18-12l-30-9l22-23l12-16l11-4l-29-25l-19 17h-76l2 7h74l-11 18l-31 35l-37 30l-20 12l1 3l34-12l30-15zM73-110l-11-4l22-25h7l3-3l-36-20l-22 45l-32 45l2 2l31-20v112l17-2l11-8v-118z"/><path id="s9876" d="M189-129l-36-3l-2 66l-6 27l-13 22l-22 20l-35 16l2 4l25-7l37-17l12-10l17-23l27 25l22 29l13 1l8-7l1-13l-10-15l-22-13l-37-9l8-39l2-47l6-3zM215-212l-15 20h-96l2 6h40l-2 38h-10l-29-12v132l16-1l12-8v-104h65v107l14-2l13-6v-95l9-5l-26-19l-12 13h-44l26-38h58l7-4zM72-15v-163h31l7-4l-26-22l-16 19h-62l2 7h36v162l-6 5l-26-1v3l9 2l11 7l4 20l14-2l16-9l4-7z"/><path id="s8ddd" d="M123-203v198l-8 7l29 17l8-14h88l7-4l-27-26l-16 23h-54v-62h48v14l16-1l12-4v-68l9-5l-24-20l-13 13h-48v-45h84l8-4l-27-23l-15 19h-46zM198-71h-48v-57h48zM45-134v-51h36v51zM48-95l-28-3v82l-15 2l13 32l7-6l53-22l38-18l-1-4l-35 7v-49h32l7-4l-21-21l-12 19h-6v-46l1 10l14-2l12-5v-58l9-5l-25-19l-13 13h-30l-28-14v92l15-2l7-3l3-7h10v106l-13 2v-72z"/><path id="s5e95" d="M132-25l-3 2l10 17l4 20l11 5l10-3l5-8l-2-12l-12-11zM215-198l-15 21h-55l6-5l3-8l-2-8l-7-8l-15-6l-22-2l-2 2l13 15l9 18l3 2h-65l-34-13v100l-4 46l-11 44l-9 21l2 1l21-19l14-22l9-23l7-48v-80h175l7-4zM207-108l-15 21h-14l-2-10l-2-40l35-4l10 3l6-2l-26-27l-40 14l-50 13l-30-10v125l-2 6l-10 8l18 30l61-61l-2-2l-37 18v-54h45l10 35l7 16l21 28l13 11l19 9h9l8-5l3-5l-7-17l4-33l-3-1l-11 25l-8 1l-9-7l-15-20l-14-37h49l6-4zM107-120v-14l40-1l4 48h-44z"/><path id="s5e73" d="M42-170l-2 1l12 32l6 34l13 7l11-5l6-12l-3-18l-14-20zM182-171l-27 77l3 1l28-26l24-33l7-1l3-4zM19-191l2 7h88v104h-101l2 8h99v94l19-2l11-6v-86h97l7-4l-32-26l-18 22h-54v-104h87l6-4l-32-24l-17 21z"/><path id="s6881" d="M106-174h-4l-12 18l-16 12l-4 12l6 8l11 1l11-7l8-17zM8-176l-2 2l13 14l3 10l12 2l9-4l4-8l-3-9l-13-6zM24-209l-2 2l15 11l11 15l11 1l7-6l2-9l-6-9l-14-6zM25-124h-13v4l12 4l3 5v23l5 7l7 3l12-2l6-5l3-7l-2-11l-6-14l1-7l34-64l-3-1l-50 61zM206-172h-2l1-14l11-4l-26-22l-14 14h-84l2 8h34l-2 22l-4 20l-8 19l-10 16l-16 16l-20 13l2 3l28-11l21-14l16-16l12-20l7-23l4-25h20l-6 62l-5 11l-7 2l-22-1v3l10 4l6 5l4 18l20-4l13-10l8-18l5-52l12 29l2 21l11 5l10-3l6-10l-2-15l-12-15zM212-88l-17 22h-55v-21l7-2l2-5l-40-3v31h-95l2 6h72l-32 41l-29 23l-16 10l2 3l18-6l35-16l43-31v58l27-4l4-3v-74l9 17l23 30l14 11l33 19l9-19l14-9l1-3l-37-10l-17-7l-31-18l-12-12h88l7-4z"/><path id="s5b54" d="M139-208v194l4 19l6 5l23 3l51-1l16-4l5-10l-2-6l-8-6l-1-45h-3l-13 43l-6 4l-39-1l-2-6v-178l6-3l2-4zM6-94l12 37l7-6l29-12v61l-5 4l-33-2v4l11 2l12 8l3 5l3 16l25-6l7-5l6-15l1-84l48-23l-1-2l-47 7v-32l6-2l2-5l-17-1l49-37l10-3l-28-25l-16 16h-83l3 7h79l-21 41l-14-1v47z"/><path id="s5b9a" d="M103-212l-2 2l12 15l5 20l14 5l11-5l6-10l-3-12l-15-11zM187-146l-15 18h-131l2 7h67v102l-25-14l-13-15l11-36l6-1l3-5l-39-6l-6 40l-6 20l-8 20l-12 19l-15 17l3 2l14-8l22-20l23-34l11 20l13 15l16 11l19 6l23 4l77 1l4-17l5-6l7-3v-3l-103-1v-54h67l7-4l-27-23l-15 20h-32v-47h68l7-4l-13-11l31-21l9-3l-27-26l-15 16h-153l-5-15h-3l-1 9l-5 8l-20 16l-5 7v10l5 7l7 3l7 1l8-2l11-14l2-23h154l-5 24z"/><path id="s6ce8" d="M118-211l-2 1l19 22l12 25l13 3l10-6l2-12l-6-13l-17-13zM28-207l-2 1l18 22l8 16l13 3l9-5l3-11l-6-11l-15-10zM9-151l-2 2l15 16l10 20l12 3l8-5l4-10l-5-11l-15-10zM25-51h-11v5l13 4l3 4l2 19l-2 29l5 10l9 2l8-1l6-4l5-7l1-20l-8-24l-1-15l7-28l30-96l-4-1l-52 113l-3 5zM74 4l2 8h162l7-4l-29-25l-16 21h-28v-80h56l7-4l-27-23l-14 20h-22v-65h62l7-4l-28-25l-15 21h-112l2 8h54v65h-55l2 7h53v80z"/><path id="s4f8b" d="M205-209v196l-6 5l-33-2v4l11 2l12 7l4 8l2 11l24-5l6-5l6-14l1-196l6-3l3-4zM162-180v45l-24-21l-14 15h-14l9-40h43l7-4l-27-23l-15 20h-58l2 7h20l-12 62l-13 38l-9 17l3 2l8-8l20-26l10 25l9 5l9-1l-12 32l-8 14l-21 27l-12 12l2 2l29-18l21-22l16-25l11-27l12-58l8-3v99l15-1l11-7v-128l6-3l2-3zM93-104l14-30h20l-6 45l-15-11zM41-212l-15 69l-22 59l4 2l20-25v129l15-1l12-6v-147l8-5l-15-5l20-54l7-1l3-4z"/><path id="s7a97" d="M133-98l-32-8l-13 33l-19 29l3 2l17-12l22-22h31l-12 22l-30-8l-2 3l23 17l-25 21l-20 12l2 3l30-11l24-14l15 17l8 2l6-2l3-6v-7l-4-9l-11-10l20-27l10-4l-23-19l-14 13h-26l8-12zM65-2v-105h121v105zM106-148l10-1l4-3l-29-22l-34 27l-41 25l2 3l19-5v146l17-1l8-3l3-3v-9h121v14l18-1l8-3l3-3v-117l10-6l-26-20l-14 16h-72l23-20l7-1l3-5l-38-7l-10 33h-30l-28-11zM40-198h-3l-4 17l-21 22v8l5 7l8 2l9-2l10-11l3-20h155l-3 15l-36-7l-25-1l-1 4l42 19l35 26l9-1l5-4l2-6l-2-8l-7-9l-11-8l23-14l10-3l-27-26l-16 16h-62l4-5l2-7l-2-7l-7-7l-12-4l-20-2l-1 2l6 8l6 20l3 2h-71z"/><path id="s5c0f" d="M166-147l-3 2l20 30l17 33l10 34l16 6l11-8l2-19l-8-24l-24-28zM55-150l-17 58l-20 38l-12 17l2 2l34-28l26-33l18-34l7-1l3-3zM112-209v191l-7 6l-44-2v3l14 3l15 8l5 5l4 17l17-2l11-4l8-6l5-7l3-18v-183l6-2l3-5z"/><path id="s4e8e" d="M28-187l2 7h80v67h-102l2 7h100v89l-6 5l-40-2v3l13 3l14 8l4 5l3 17l28-7l8-5l4-8l3-18v-90h94l7-4l-32-25l-18 22h-51v-67h77l7-4l-32-25l-17 22z"/><path id="s52a0" d="M142-170v187l17-2l8-4l3-4v-19h31v24l16-2l14-8v-160l10-5l-28-23l-15 16h-26l-30-12zM201-20h-31v-143h31zM44-210v53h-34l2 7h32l-4 59l-4 29l-8 28l-10 27l-14 26l4 3l22-25l17-26l12-29l7-30l6-62h24l-2 70l-4 43l-7 20l-9 3l-26-2v4l16 6l4 4l3 8l1 12l19-3l14-9l6-9l8-34l5-108l11-5l-26-23l-16 16h-20l1-43l6-2l2-5z"/><path id="s62a4" d="M149-214l-3 2l14 23l4 18l12 5l10-4l5-10l-3-12l-13-13zM205-102h-67v-54h67zM110-166v74l-7 47l-7 22l-11 23l-15 20l2 3l23-17l16-18l12-20l8-21l7-41h67v16l15-1l13-5v-68l11-5l-28-21l-13 14h-61l-32-11zM84-173l-12 19h-2v-48l7-2l2-5l-37-3v58h-34l2 8h32v50l-34 8l10 34l6-7l18-9v53l-6 5l-30-2v4l11 2l11 8l6 22l23-6l11-12l2-18v-73l34-22v-3l-34 9v-43h30l7-4z"/><path id="s5f00" d="M205-208l-15 19h-171l2 7h51v78h-63l2 7h61l-6 44l-7 20l-12 19l-16 17l-23 17l2 2l34-15l25-17l17-20l10-21l5-23l2-23h44v118l20-2l11-7v-109h59l7-4l-28-26l-14 23h-24v-78h48l6-4zM104-108v-74h43v78h-43z"/><path id="s901a" d="M19-207l-3 1l16 26l11 28l13 4l10-5l3-11l-5-15l-16-15zM195-75h-27v-28h27zM117-26v-42h26v46l15-2l10-4v-40h27v22l-4 4l-15-1v3l9 4l4 4l3 17l13-2l9-4l5-6l3-17v-90l10-5l-27-21l-13 15h-19l6-5l1-7l-5-8l51-21l-26-25l-16 15h-99l2 7h95l-16 19l-26-7l-28-3l-1 4l22 10l24 21h-38l-29-12v138l-24-16v-77l12-6l-29-23l-13 18h-29l1 7h31v86l-33 22l20 29l27-47l4-4l27 29l14 8l16 5l42 5h68l6-16l13-9v-3l-64 2l-54-2l-29-5l10-3zM195-110h-27v-28h27zM143-75h-26v-28h26zM143-110h-26v-28h26z"/><path id="s63aa" d="M84-173l-12 19h-3v-48l7-2l2-5l-36-3v58h-35l2 8h33v51l-36 10l12 33l6-7l18-11v54l-6 4l-28-2v4l10 2l10 8l6 22l23-6l10-12l2-18v-74l29-22l-1-2l-28 9v-43h31l6-4zM192-83v35h-58v-35zM134 13v-8h58v15l15-2l14-6v-91l9-5l-27-21l-13 15h-55l-29-12v124l15-2zM134-2v-39h58v39zM221-141l-13 20h-6v-41h31l7-4l-24-23l-14 20v-32l6-3l2-4l-36-3v42h-25v-32l6-2l2-5l-35-3v42h-26l2 7h24v41h-33l2 7h146l7-4zM174-162v41h-25v-41z"/><path id="s4e13" d="M189-192l-16 21h-45l7-27l7-1l4-4l-40-12l-10 44h-72l2 7h68l-12 42h-72l2 7h68l-11 32l-10 6l29 18l12-13h64l-28 46l-46-10l-31-2l-1 3l53 25l32 23l12 12l11-1l6-5l2-9l-3-11l-10-11l-18-11l31-21l26-21l10-3l-28-28l-17 17h-65l12-36h121l7-4l-30-26l-17 23h-79l12-42h85l7-4z"/><path id="s4e1a" d="M25-160l-3 2l19 53l9 37l2 18l13 6l9-7l4-19l-6-26l-17-31zM212-26l-17 25h-27v-40l35-53l26-49l7-1l4-4l-40-13l-32 104v-141l6-2l2-4l-36-4v207h-28v-197l6-3l2-4l-36-3v207h-74l2 7h224l7-4z"/><path id="s7eb8" d="M9-24l13 36l6-6l73-44l-1-3zM92-196l-37-15l-9 24l-14 25l-14 19l-9 3l13 32l34-16l-25 33l-12 11l-9 4l13 32l6-5l71-33l-1-2l-65 7l39-33l31-35h3v126l-2 7l-7 7l19 27l7-9l47-40l-1-3l-36 13v-85h32l12 60l15 34l11 14l13 12l16 3l8-3l3-6l-6-20l5-40h-3l-12 27l-7 1l-7-10l-12-24l-10-48h47l7-4l-25-22l-13 20h-18l-2-37l1-36l33-5l10 2l6-1l-28-27l-75 30l-28-14v44l-28-15l-13 27l-36 1l29-25l24-28zM134-166v-10l28-2l3 70h-31z"/><path id="t671d" d="M31-100h79v29h-79zM31-135h79v28h-79zM12-37v7h54v47h8v-47h54v-7h-54v-27h44v-78h-44v-27h53v-7h-53v-32h-8v32h-50v7h50v27h-42v78h42v27zM219-128v54h-70l1-54zM219-135h-69v-53h69zM143-195v99l-2 37l-11 38l-10 18l-15 16l5 5l21-25l12-29l5-30h71v71l-5 5h-30l3 8l32-2l6-3l1-8v-200z"/><path id="t5357" d="M80-120l17 33l7-3l-8-16l-10-16zM120-209v31h-104v7h104v34h-86v155h7v-148h169v134l-6 6h-39l3 8l41-1l7-4l1-9v-141h-88v-34h105v-7h-105v-31zM162-123l-19 38h-79v7h56v34h-61v8h61v51h8v-51h64v-8h-64v-34h61v-7h-39l19-35z"/><path id="t7ef4" d="M14-10l2 8l77-19l-1-7zM164-204l17 35l7-3l-18-34zM16-108l49-9l-32 43l-13 15l-5 2l3 8l70-16l-1-6l-56 11l32-42l31-47l-7-4l-17 29l-44 6l22-40l20-45l-7-3l-25 58l-17 27l-5 5zM175-106v44h-49v-44zM138-206l-20 46l-28 42l5 4l23-32v164h8v-20h110v-7h-54v-46h44v-7h-44v-44h44v-7h-44v-42h50v-7h-105l19-42zM175-113h-49v-42h49zM175-55v46h-49v-46z"/><path id="t6e2f" d="M23-199l28 18l15 12l4-6l-14-12l-28-17zM11-132l29 16l14 12l4-6l-14-12l-29-16zM18 9l6 5l21-39l20-43l-6-4zM183-207v31h-63v-31h-7v31h-37v7h37v39h-48v8h52l-25 35l-29 25l5 6l31-28l25-38h57l15 26l20 22l21 16l5-6l-10-6l-20-18l-23-34h51v-8h-50v-39h43v-7h-43v-31zM120-169h63v39h-63zM99-47v49l2 7l4 5l23 3h66l17-4l4-7l4-24l-7-4l-3 23l-3 5l-5 3h-87l-6-3l-1-4v-42h86v-50h-87v8h80v35z"/><path id="t65b0" d="M35-167l7 21l4 21l8-2l-12-41zM101-169l-15 42l6 2l16-41zM226-204l-34 11l-43 10l-9-3v87l-2 38l-11 39l-11 19l-15 17l6 5l15-18l11-19l8-20l6-41l1-35h50v130h7v-130h33v-8h-90v-54l73-18l11-5zM68-208v28h-51v7h109v-7h-50v-28zM14-122v8h54v33h-54v7h52l-26 37l-30 28l6 5l18-16l18-21l16-25v83h8v-73l38 36l6-7l-44-37v-10h52v-7h-52v-33h54v-8z"/><path id="t5929" d="M16-186v8h104l-1 71h-95v7h94l-4 21l-7 20l-13 19l-19 19l-27 17l-34 16l4 6l35-16l27-18l20-19l13-20l8-20l5-21l10 28l13 24l16 21l19 17l23 14l26 10l5-6l-26-9l-23-14l-19-17l-16-20l-13-24l-9-28h95v-7h-100l1-71h106v-8z"/><path id="t5730" d="M109-185v71l-29 12l3 7l26-11v93l4 17l6 4l21 3h70l17-4l5-5l5-20l1-14l-8-4l-3 28l-3 7l-6 4l-80 1l-17-3l-3-6l-1-7v-98l46-19v93h7v-96l49-20l-3 90l-3 6l-27 1l2 8h21l9-3l5-10l1-7l3-95l-5-2l-5 4l-47 20v-68h-7v71l-46 19v-67zM11-34l3 7l76-32l-1-7l-34 14v-86h33v-7h-33v-60h-7v60h-36v7h36v89z"/><path id="t697c" d="M112-196l20 34l7-3l-21-34zM217-202l-23 39l6 3l15-22l9-17zM164-208v53h-63v7h55l-27 30l-33 21l6 5l22-14l22-19l18-21v54h7v-54l29 29l35 22l5-6l-33-19l-29-28h58v-7h-65v-53zM152-92l-12 25h-45v7h41l-24 40l6 3l5-7l42 14l-32 14l-42 8l4 6l45-9l34-15l54 24l6-5l-53-24l21-21l12-28h24v-7h-90l12-23zM144-60h62l-13 26l-21 20l-46-16zM54-208v57h-39v7h38l-19 59l-24 47l6 5l14-24l13-32l11-34v140h8v-128l25 39l5-6l-30-43v-23h32v-7h-32v-57z"/><path id="m9996" d="M63-75h123v21h-123zM63-94v-20h123v20zM63-35h123v22h-123zM54-203l20 26h-61v22h98l-5 20h-66v156h23v-13h123v13h24v-156h-78l8-20h98v-22h-60l21-28l-27-7l-21 35h-63l12-6l-24-29z"/><path id="m5c42" d="M76-114v20h143v-20zM55-180h145v27h-145zM31-200v95l-4 46l-11 47l-10 20l22 12l10-22l12-50l5-81h168v-67zM74 18l27-4l97-7l9 17l22-11l-37-59l-21 8l16 26l-85 5l32-43h102v-21h-174v21h43l-20 31l-12 13l-7 3z"/><path id="m5e73" d="M42-155l13 29l8 27l23-8l-9-26l-13-28zM186-162l-25 56l21 7l29-56zM12-89v24h100v86h25v-86h101v-24h-101v-82h87v-24h-198v24h86v82z"/><path id="m9762" d="M100-82h47v25h-47zM100-100v-24h47v24zM100-38h47v24h-47zM14-196v23h94l-6 27h-78v167h24v-13h153v13h24v-167h-98l9-27h101v-23zM48-14v-110h31v110zM201-14h-33v-110h33z"/><path id="m56fe" d="M92-68l32 9l28 11l10-16l-28-10l-32-8zM68-36l55 9l47 13l10-17l-47-12l-54-9zM20-201v222h22v-10h165v10h23v-222zM42-10v-169h165v169zM103-177l-24 28l-31 23l16 14l20-15l23 19l-31 12l-32 8l11 19l36-11l36-16l32 14l33 10l14-18l-31-7l-29-11l25-19l19-23l-13-8l-64 1l9-13zM97-139h59l-30 21z"/><path id="r5efa" d="M22-89l-4 2l8 23l20 35l-16 24l-23 20l3 4l25-18l19-21l14 12l17 8l40 10l103 3l4-9l8-4v-4h-88l-44-4l-34-12l-14-9l15-37l8-39l10-3l-18-16l-9 10h-24l30-61l13-4l-19-17l-9 10h-48l3 7h44l-30 61l-9 5l15 12l8-6h27l-6 36l-11 33l-16-22zM194-150h-36v-26h36zM194-142v26h-36v-26zM225-164l-10 14h-5v-23l10-5l-19-15l-9 10h-34v-17l6-2l2-4l-24-3v26h-47l2 7h45v26h-68l2 8h66v26h-47l2 7h45v25h-50l2 8h48v26h-64l2 8h62v32h3l8-2l5-4v-26h72l7-4l-22-18l-12 14h-45v-26h58l6-4l-20-17l-10 13h-34v-25h36v8l11-2l5-4v-35h27l7-4z"/><path id="r7b51" d="M141-88l-3 2l19 25l7 18l8 3l5-4l2-8l-5-12l-12-12zM118-126v48l-5 36l-8 16l-12 15l-18 14l-24 13l2 4l31-13l22-15l14-16l9-18l4-18l1-59h54l2 130l4 4l10 2l27-1l8-3l2-6l-5-7l-1-33h-3l-7 33l-3 2h-14l-4-4v-114l10-4l-19-16l-9 10h-49l-19-8zM9-32l11 20l5-7l83-37l-2-3l-38 11v-65h34l6-4l-19-16l-11 13h-62l2 7h34v70zM50-210l-19 46l-23 35l3 3l20-19l19-25h10l11 16l5 17l7 3l5-2l3-6l-2-9l-6-10l-13-9h50l6-4l-18-16l-10 12h-44l10-19l6-1l4-3zM144-210l-17 42l-21 33l4 3l13-13l20-25h19l12 15l7 16l7 3l5-3l2-6l-1-8l-7-9l-13-8h58l7-4l-21-18l-11 14h-59l10-19l6-1l4-3z"/><path id="r57fa" d="M164-209v29h-78v-20l7-2l3-5l-26-2v29h-48l2 8h46v85h-60l3 7h61l-28 33l-37 26l3 4l33-17l15-10l25-23l10-13h65l19 25l24 20l13 8l14 7l5-10l8-6l1-3l-28-9l-27-14l-21-18h65l7-4l-22-18l-12 15h-26v-85h44l6-4l-20-18l-12 14h-18v-20l7-2l2-5zM86-172h78v23h-78zM116-68v31h-55l2 7h53v36h-94l2 8h198l7-4l-23-19l-12 15h-61v-36h49l6-4l-19-16l-11 13h-25v-22l6-2l2-4zM86-87v-24h78v24zM86-142h78v24h-78z"/><path id="r5e95" d="M112-213l-2 2l13 14l10 16l8 2l5-3l2-8l-4-8l-12-9zM128-20l-2 2l15 16l9 18l7 2l5-3l2-7l-4-10l-12-9zM218-192l-12 15h-150l-20-9v95l-4 45l-11 44l-11 20l4 2l15-20l11-22l7-23l5-47l1-78h181l6-4zM212-100l-11 14h-32l-2-10l-4-42l43-6l7 3l5-2l-17-17l-45 11l-55 10l-22-7v133l-2 5l-8 6l15 20l4-7l50-45l-2-3l-41 24v-65h59l12 35l18 30l12 12l22 15l15 3l5-3l1-5l-5-9l3-31l-3-1l-9 24l-7 2l-12-8l-18-22l-7-13l-10-29h56l7-4zM95-116v-17l52-3l6 50h-58z"/><path id="rff1a" d="M58-8l8-3l5-5l3-8l-3-7l-5-6l-8-2l-8 2l-5 6l-3 7l3 8l5 5zM58-109l8-2l5-6l3-7l-3-8l-5-5l-8-2l-8 2l-5 5l-3 8l3 7l5 6z"/><path id="r34" d="M85 4h19v-52h30v-14h-30v-123h-14l-82 125v12h77zM19-62l66-102v102z"/><path id="r30" d="M70 4l14-3l14-7l12-12l9-19l6-24l2-31l-2-30l-6-24l-9-18l-12-12l-14-7l-14-3l-15 3l-14 7l-12 12l-9 18l-6 24l-2 30l2 31l6 24l9 19l12 12l14 7zM70-4l-10-2l-8-6l-8-11l-6-16l-4-23l-2-30l2-29l4-22l6-16l8-11l8-6l10-2l9 2l8 6l8 11l6 16l4 22l1 29l-1 30l-4 23l-6 16l-8 11l-8 6z"/><path id="r36" d="M72 4l15-2l14-6l11-9l8-12l5-14l2-16l-1-16l-4-13l-7-11l-10-8l-12-5l-14-2l-18 3l-9 4l-15 12l5-21l9-19l12-17l16-14l20-11l23-7l-1-6l-31 8l-26 13l-21 19l-16 22l-10 27l-3 28l2 21l5 17l9 15l11 11l14 6zM36-83l18-13l18-4l19 6l6 6l8 20v29l-3 12l-12 17l-8 5l-10 1l-10-2l-9-6l-8-10l-8-30z"/><path id="r2e" d="M41 4l8-2l5-6l2-8l-2-7l-5-6l-8-2l-8 2l-6 6l-1 7l1 8l6 6z"/><path id="r6d" d="M194 0h41v-7l-19-2l-1-92l-3-12l-5-9l-7-6l-20-5l-17 3l-16 9l-15 15l-9-17l-14-9l-9-1l-17 3l-16 9l-15 15l-1-24l-3-2l-39 10v6l22 2l1 30l-1 75l-21 2v7h62v-7l-19-2l-1-88l18-15l7-4l15-3l13 5l5 6l4 22l-1 77l-21 2v7h62v-7l-20-2l-1-89l17-14l23-7l14 4l5 7l4 22l-1 77l-21 2v7z"/><path id="rb2" d="M14-116h72v-14h-59l33-30l18-23l3-14l-1-9l-4-8l-6-6l-10-4h-22l-17 8l-5 7l-3 9l7 5l6-2l7-20l10-2l9 2l7 5l4 7l2 9l-1 8l-7 15l-43 46z"/><path id="r5730" d="M205-156l-34 13v-57l6-2l3-4l-25-3v72l-33 13v-56l6-3l2-4l-24-3v72l-36 13l5 6l31-11v98l1 10l3 6l6 4l23 3h61l30-2l11-5l-1-9l-7-3l-1-39h-3l-9 38l-7 4l-73 1l-12-1l-5-4l-1-107l33-13v105l12-3l4-3v-105l38-14l-2 63l-3 19l-2 5l-7 2l-19-1v4l14 5l2 12l15-4l10-10l5-22l3-71l10-4l-19-15zM8-28l10 22l5-7l74-47l-2-4l-37 17v-79h31l7-4l-20-18l-10 14h-8v-61l6-2l2-5l-24-2v70h-32l2 8h30v86z"/><path id="r4e0a" d="M10-1l2 7h221l7-4l-24-19l-13 16h-77v-108h87l7-4l-24-19l-12 16h-58v-81l7-3l2-4l-26-3v206z"/><path id="r603b" d="M65-209l-3 2l20 24l9 17l8 2l6-4l1-8l-5-11l-13-11zM93-61l-24-3v60l1 8l5 6l23 3h57l27-2l9-5v-8l-7-2v-29h-4l-7 28l-6 3l-79-1l-2-4v-48zM44-56h-4l-5 22l-11 16l-11 12v7l7 3l10-4l10-12l6-18zM193-57l-3 1l18 25l12 28l8 2l6-4l1-10l-6-13l-13-15zM114-72l-3 2l20 24l7 18l8 3l5-4l1-9l-5-11l-12-12zM65-75v-10h119v14l12-2l5-4v-73l9-5l-19-15l-9 10h-34l34-37h7l3-3l-24-10l-28 50h-74l-18-8v98l12-2zM184-153v61h-119v-61z"/><path id="r9762" d="M29-146v165l12-2l4-3v-15h159v18l13-2l4-3v-149l10-4l-19-16l-9 11h-91l21-37h100l7-4l-10-8l-14-11l-12 16h-192l2 7h97l-7 37h-56l-19-8zM45-8v-131h40v131zM204-8h-41v-131h41zM101-139h47v38h-47zM101-94h47v39h-47zM101-48h47v40h-47z"/><path id="r79ef" d="M186-56l-4 2l24 33l12 24l3 12l9 3l6-6l1-12l-7-16l-16-20zM165-46l-23-13l-26 43l-30 32l4 3l23-15l23-21l19-26h6zM129-82v-98h82v98zM114-195v137l12-2l3-3v-12h82v13l12-2l4-3v-112l10-4l-19-14l-8 10h-78zM90-150l-10 14h-12v-48l24-8l8 1l4-1l-20-17l-33 17l-41 15l2 4l40-7v44h-42l2 7h37l-16 50l-25 45l3 3l16-17l25-39v107l12-3l4-3v-122l13 16l8 18l7 2l6-3l1-7l-4-10l-11-12l-20-10v-15h36l6-4z"/><path id="r31" d="M19 0h88v-7l-33-3l1-172l-4-2l-53 13v8l36-6l-1 159l-34 3z"/><path id="r32" d="M16 0h112v-18h-98l68-73l17-25l5-22l-1-14l-4-12l-8-9l-9-7l-13-4l-28-1l-22 9l-9 7l-6 10l-4 12l4 5l6 2l8-2l10-32l20-4l10 1l9 4l12 13l4 21l-1 11l-8 21l-17 25l-57 68z"/><path id="r8ba1" d="M38-209l-2 2l19 23l14 25l8 2l6-5v-9l-6-12l-14-13zM66-132l10-5l-17-13l-8 8h-40l3 8h37v108l-2 6l-7 5l11 20l6-8l53-42l-2-3l-44 23zM179-206l-25-3v89h-66l2 7h64v132l12-2l4-5v-125h64l7-4l-22-18l-12 15h-37v-79l7-3z"/><path id="r5bb9" d="M108-210l-3 2l12 12l8 16l8 2l5-4l2-7l-3-8l-11-8zM147-156l-3 3l31 20l22 25h9l4-5l-2-10l-10-12l-20-12zM108-150l-22-10l-24 30l-33 26l3 4l26-14l24-16l17-17zM41-188h-4l-1 9l-6 17l-17 17v7l5 4h6l12-8l8-16v-12h166l-8 26l3 2l24-24l9-3l-19-18l-10 10h-165zM78 14v-11h93v15l16-5v-64l9-5l-18-14l-9 10h-89l-14-6l37-27l27-29l23 31l16 14l37 24l20 9l5-8l10-5v-4l-41-16l-38-22l-28-26l7-1l3-4l-29-6l-10 17l-32 34l-42 31l-22 11l1 4l9-3l43-22v84l12-2zM171-53v49h-93v-49z"/><path id="r33" d="M64 4l17-2l14-5l12-7l9-10l5-13l2-14l-5-23l-6-10l-9-7l-12-6l-15-3l13-4l19-13l9-18l-1-23l-4-11l-7-9l-10-6l-13-4l-14-2l-23 4l-10 4l-8 7l-6 9l-4 11l4 5l6 1l7-2l11-28l9-2h19l8 3l12 13l4 20l-2 12l-4 11l-6 8l-8 6l-10 3l-22 1v9l25 1l12 4l8 6l7 9l4 10v26l-4 10l-6 9l-9 7l-11 4l-13 1l-18-3l-11-30l-7-3l-6 2l-4 6l3 11l14 16l22 8z"/><path id="r39" d="M26 4l30-11l25-14l20-19l14-22l9-24l2-26l-1-22l-6-18l-8-14l-11-11l-14-6l-17-3l-15 2l-13 5l-12 9l-8 11l-6 14l-2 17l2 16l5 13l8 11l11 8l13 5l25 1l10-3l16-11l-5 19l-8 17l-12 16l-14 13l-18 11l-22 10zM105-97l-15 11l-17 3l-11-1l-9-4l-8-7l-10-21l-1-14l5-26l12-17l18-5l10 2l9 5l7 9l6 13l3 16z"/><path id="r9996" d="M64-208l-3 2l17 22l7 18l8 2l6-4l2-8l-4-11l-12-11zM51-126v145l13-3l4-3v-11h113v16l12-3l5-3v-127l10-5l-20-16l-9 10h-63l18-29h98l7-4l-24-19l-13 16h-50l33-35l6-1l3-4l-26-7l-24 47h-134l2 7h100l-4 29h-39l-18-8zM181-118v32h-113v-32zM68-6v-33h113v33zM68-46v-33h113v33z"/><path id="r5c42" d="M192-128l-12 15h-106l2 7h131l7-4zM217-88l-12 16h-147l2 7h67l-38 41l-23 16l-7 2l8 21l6-5l133-19l16 24l8 2l5-5l-1-11l-9-14l-19-17l-31-16l-3 2l30 30l-122 8l34-23l27-23h7l3-2l-19-11h101l7-4zM56-151v-37h146v37zM40-198l-2 129l-9 46l-8 21l-12 20l3 2l18-20l12-22l7-23l7-49v-50h146v10l11-2l5-3v-46l11-5l-20-15l-9 10h-141l-19-9z"/><path id="r67b6" d="M143-188v92l12-2l4-3v-13h48v14l11-2l6-4v-72l9-5l-19-15l-9 10h-45l-17-8zM207-121h-48v-60h48zM60-210l-2 30h-45l2 8h42l-7 27l-6 14l-20 26l-14 12l4 3l18-12l15-13l11-14l7-15l8-28h33l-6 46l-4 9l-8 3l-30-3v5l20 5l4 11l17-3l6-4l8-12l5-23l4-33l9-3l-18-15l-9 9h-30l2-21l6-2l2-5zM116-101v31h-106l2 8h86l-11 14l-28 26l-33 23l-18 9l2 4l42-18l18-11l33-26l13-15v76l12-3l4-3v-76l27 32l15 14l35 21l18 9l4-8l11-8l1-2l-38-13l-18-9l-33-23l-13-13h92l7-4l-19-16l-5-3l-12 15h-72v-22l7-2l3-4z"/><path id="r7a7a" d="M103-138l8-1l3-3l-22-13l-32 33l-41 32l3 3l30-15zM146-150l-2 2l39 26l31 30h9l4-7l-4-11l-13-14l-25-14zM110-212l-3 1l11 16l6 18l9 3l6-3l3-8l-3-10l-10-10zM38-186h-4v10l-6 18l-16 18l-1 8l5 4h7l12-8l7-17l1-12h168l-10 33l3 2l27-32l9-3l-19-19l-11 11h-168zM214-16l-12 16h-69v-75h77l6-4l-22-17l-11 14h-146l2 7h78v75h-104l2 7h215l7-4z"/><path id="r35" d="M62 4l18-2l15-6l13-8l10-12l5-14l3-17l-2-16l-6-14l-8-11l-12-7l-14-5l-17-2l-22 3l-10 3l4-60h82v-18h-90l-5 86l6 2l29-6l22 5l9 7l6 8l4 12v29l-4 12l-6 10l-9 7l-11 5h-24l-9-3l-10-29l-7-2l-7 2l-4 5l3 11l14 15l21 9z"/><path id="s67b6" d="M108-98v31h-100l2 7h78l-21 27l-13 14l-30 23l-17 10l2 3l56-23l30-19l13-12v59l18-1l10-3l4-3v-75l9 17l24 29l14 11l34 19l8-19l15-9l1-3l-37-9l-18-7l-31-18l-13-11h88l8-4l-30-24l-16 21h-56v-21l7-3l2-4l-6-1l22-5l3-4v-9h32v15l16-2l14-6v-69l9-5l-28-21l-13 15h-28l-30-12v103zM200-122h-32v-58h32zM50-212l-1 33h-39l2 7h36l-5 28l-6 14l-17 28l-14 13l4 3l20-13l16-13l12-15l9-15l9-30h21l-3 28l-6 19l-7 2l-24-1v3l11 4l7 5l3 7v11l12-1l16-7l9-11l4-10l5-45l10-4l-25-21l-14 14h-18l2-24l6-2l3-4z"/><path id="s9001" d="M104-212l-3 2l13 25l4 19l12 5l10-4l5-10l-2-13l-13-13zM22-207l-2 1l15 26l11 28l13 4l10-5l3-11l-5-15l-16-15zM212-127l-15 19h-27l2-40h59l7-4l-28-21l-14 18h-26l39-39l6-2l4-4l-39-12l-17 57h-79l2 7h54l-1 40h-60l2 8h57l-7 29l-7 13l-11 12l-13 12l-18 10l2 4l21-7l30-17l11-10l15-22l25 25l18 28l14 2l9-7l1-13l-9-16l-20-14l-36-11l5-18h66l7-4zM40-29l-32 20l20 30l26-45l4-3l26 27l13 8l16 5l19 3l92 1l5-16l14-9v-3l-64 2l-58-2l-32-7l-12-6l-10-8v-80l13-6l-30-23l-13 18h-29l2 7h30z"/><path id="s5927" d="M104-211l-2 74h-92l2 7h90l-4 28l-8 27l-11 25l-17 24l-24 23l-31 22l3 3l40-19l30-21l22-24l16-25l9-27l6-30l12 53l11 26l15 25l20 23l26 19l6-16l5-6l16-6v-3l-31-16l-26-18l-20-20l-14-21l-10-23l-7-23h99l7-4l-33-26l-18 23h-57l3-63l6-3l3-5z"/><path id="s5802" d="M50-207l-3 1l15 23l4 17l13 4l9-4l5-10l-4-12l-13-11zM170-208l-16 47h-14v-42l6-2l2-5l-38-3v52h-64l-6-17l-4 1v10l-3 8l-5 7l-13 10l-5 6v9l6 7l8 3l10-2l10-12l3-23h153l-7 24l-17-12l-12 14h-78l-30-12v78l15-2l9-3l4-4v-5h26v34h-72l2 8h70v40h-96l2 7h217l7-4l-28-24l-16 21h-57v-40h71l7-4l-28-24l-15 20h-35v-34h27v10l15-2l13-5v-45l10-4l-7-5l36-21l10-2l-28-27l-16 16h-38l41-31l7-1l3-3zM84-83v-39h82v39z"/><path id="s4fe1" d="M133-214l-2 2l15 22l6 18l13 4l10-5l4-10l-4-13l-14-11zM204-114l-14 19h-94l2 7h124l7-4zM204-150l-14 20h-96l2 6h127l7-4zM218-186l-16 20h-124l2 8h159l7-4zM74-139l-12-4l23-53l7-1l3-4l-41-12l-21 73l-28 61l3 2l29-29v128l16-1l13-7v-148zM126 13v-12h66v18l25-5l5-3v-61l10-6l-29-21l-13 15h-62l-30-12v96l16-2zM192-55v49h-66v-49z"/><path id="s62a5" d="M100-209v231l18-1l11-7v-116h9l12 44l18 35l-19 23l-23 20l2 4l28-15l22-18l21 20l16 11l10-16l15-8l1-2l-28-13l-17-11l18-34l11-36l9-4l-26-23l-14 15h-65v-79h63l-3 26l-4 12l-7 1l-32-1v3l23 8l4 6l1 9l22-2l12-8l6-14l4-36l10-4l-25-20l-14 13h-57zM79-172l-13 18v-48l7-2l3-5l-37-3v58h-32l2 8h30v47l-34 9l11 33l6-7l17-10v58l-5 5l-25-2v4l12 4l6 6l5 21l22-6l10-11l2-18v-79l31-22l-1-2l-30 9v-39h28l6-4zM178-43l-20-27l-15-32h53l-7 30z"/><path id="s7bb1" d="M44-213l-15 45l-22 36l3 2l17-12l16-14l15-18h2l5 9l5 19l5 4l-25-3v41h-40l2 6h32l-14 50l-15 29l-9 13l2 3l16-12l26-28v65h5l11-1l13-7v-95l9 17l5 19l11 5l9-3l5-9l-2-12l-13-12l-24-10v-12h37l7-4l-25-22l-14 20h-5v-30l7-3l2-4h-4l10-8l1-6l-2-7l-6-6l-11-6h46l6-4l-23-20l-13 17h-30l8-14l7-1l3-4zM154-81h45v35h-45zM154-88v-34h45v34zM154-39h45v36h-45zM126-129v151l15-2l9-4l4-4v-8h45v15l25-5l4-3v-129l9-5l-27-21l-13 15h-43l-28-12zM140-212l-12 39l-17 32l3 2l25-19l15-16h8l11 20l2 10l10 4l8-2l5-6l1-9l-5-9l-12-8h54l7-4l-27-21l-14 18h-43l9-14l6-1l4-4z"/><path id="s7535" d="M102-116h-45v-44h45zM102-108v44h-45v-44zM132-116v-44h48v44zM132-108h48v44h-48zM57-44v-13h45l1 52l3 9l5 5l9 4l24 2h56l18-2l20-6l4-5l2-6l-3-8l-10-6l-1-38h-2l-15 37l-9 5l-66-1l-5-3l-1-6v-33h48v18l16-2l14-6v-109l10-5l-28-22l-15 15h-45v-33l6-3l3-4l-39-4v44h-43l-32-12v146l17-2z"/><path id="s5385" d="M215-212l-16 21h-131l-35-14v104l-4 50l-6 25l-8 24l-12 22l3 2l23-21l16-24l10-26l5-27l3-26v-82h173l8-4zM209-160l-16 22h-125l2 7h66v114l-5 5l-35-2v4l12 2l13 8l3 5l3 15l26-6l7-5l5-7l2-18v-115h64l7-4z"/><path id="s5ba2" d="M89-47h73v44h-73zM92-54l-14-5l48-22l40 21l-6 6zM44-192h-4l-6 19l-19 17l-3 6v8l6 7l9 2l9-3l5-5l7-18v-12h39l-9 17l-21 31l-36 35l3 3l22-10l22-12l20-16l22 28l-47 30l-55 22l2 3l50-13v75l18-2l8-4l3-3v-9h73v16l16-1l14-6v-56l8-5l20 5l8-18l15-9v-3l-50-7l-46-14l27-21l14-15l12-4l-28-27l-19 17h-44l6-8l7-1l4-3l-34-15h110l-5 29l2 2l33-25l9-3l-26-25l-15 15h-66l6-5l4-7l-2-8l-7-8l-13-5l-23 1l11 13l6 17l5 2h-73zM152-137l-13 16l-16 16l-29-23l9-9z"/><path id="s517c" d="M182-130v27h-22v-27zM61-212l-2 2l17 22l7 17l8 3h-76l2 7h65v25h-50l2 6h48v27h-71l2 7h69v28h-50l2 7h38l-27 41l-24 24l-14 10l2 4l40-21l33-27v52l17-2l8-3l3-3v-75h22v83l17-2l11-6v-74l15 33l9 13l23 23l14 9l8-18l14-9l1-3l-30-10l-15-8l-25-19l-9-12h17v6l24-4l4-3v-34h28l6-4l-21-22l-13 19v-22l10-5l-28-20l-12 14h-20v-25h72l6-4l-27-24l-15 21h-53l51-34l-40-11l-18 45h-40l7-4l4-8l-1-9l-7-10l-15-8zM182-68h-22v-28h22zM110-130h22v27h-22zM110-136v-25h22v25zM110-68v-28h22v28z"/><path id="s6d88" d="M28-53h-12v5l13 4l3 3l3 26l-3 25l5 9l9 3l8-1l7-4l4-7l1-21l-8-24l-1-15l7-28l31-93l-3-1l-54 109zM10-152l-2 1l13 17l10 19l12 3l9-5l4-9l-5-12l-14-9zM32-209l-2 2l16 22l8 17l12 3l10-5l3-10l-4-12l-15-10zM238-184l-33-19l-19 59l3 3l39-40h7zM93-197l-3 1l17 27l6 21l12 4l9-5l3-10l-4-13l-14-14zM198-52h-76v-34h76zM122 12v-58h76v32l-4 5l-27-1v3l9 2l10 7l6 20l23-5l10-11l2-17v-110l10-5l-28-22l-13 15h-21v-70l6-2l2-4l-36-3v79h-23l-30-12v167l16-2l8-4zM198-94h-76v-32h76z"/><path id="s9632" d="M217-184l-15 22h-35l8-5l4-7v-10l-6-11l-14-9l-22-8l-2 2l12 24l2 18l11 6h-70l2 7h38l-5 65l-6 31l-11 28l-17 27l-22 24l2 2l26-16l21-19l16-21l12-24l7-25l5-28h39l-5 68l-6 24l-4 6l-8 3l-33-2v3l18 6l6 5l4 8l1 11l19-2l8-4l13-12l9-29l7-80l10-4l-26-23l-15 15h-36l3-37h76l7-4zM18-206v228h5l12-1l11-7v-201h24l-14 66l15 26l4 18l-1 19l-4 5l-5 1h-17v3l12 7l4 21l12-1l10-4l7-5l5-8l4-21l-4-21l-6-11l-17-21l-13-9l37-58l11-3l-27-25l-15 14h-19z"/><path id="s62c5" d="M215-24l-17 22h-116l2 7h154l8-4zM192-122h-56v-58h56zM192-114v60h-56v-60zM136-35v-12h56v16l15-2l13-7v-136l10-5l-27-22l-14 15h-52l-29-12v175l16-2zM83-173l-13 19v-48l7-2l2-5l-37-3v58h-34l2 8h32v47l-36 10l10 33l7-7l19-11v58l-5 4l-27-2v4l9 2l11 8l5 22l23-6l10-12l2-18v-77l34-23v-3l-34 11v-40h28l7-4z"/><path id="l4e0a" d="M110-204v199h-96v12h222v-12h-113v-107h97v-12h-97v-80z"/><path id="l4e0b" d="M14-190v12h100v196h12v-139l48 26l39 26l7-11l-58-36l-33-17l-3 3v-48h110v-12z"/><path id="s62ab" d="M154-211v43h-22l-32-12v28l-21-21l-14 20v-49l6-2l3-5l-37-3v59h-29l2 7h27v48l-33 8l12 34l6-6l15-9v58l-5 4l-25-1v3l12 4l7 5l4 20l23-5l10-11l2-17v-77l32-22l-1-2l-31 8v-42l35-2l-1 56l-5 47l-5 23l-9 22l-12 20l3 3l21-19l15-20l10-23l6-22l4-44h10l10 40l13 31l-30 30l-39 24l2 2l44-16l35-23l21 22l27 17l10-16l16-8l1-2l-31-13l-27-17l21-31l15-35l11-4l-26-24l-16 16h-13v-49h24l-7 34l2 1l35-29l10-3l-27-26l-15 16h-22v-33l7-2l2-5zM127-161h27v49h-27zM195-105l-10 29l-13 26l-18-24l-12-31z"/><path id="s6276" d="M146-210v52h-37l2 7h35l-1 53h-53l2 7h51l-3 23l-7 20l-9 20l-14 17l-18 16l-24 14l2 3l30-11l25-15l18-16l14-19l8-22l5-23l8 39l7 19l9 18l11 16l15 13l2-11l5-9l8-6l9-3v-3l-20-10l-17-11l-13-13l-9-15l-11-31h60l8-3l-29-25l-16 21h-25v-53h57l7-4l-27-23l-15 20h-22v-42l7-2l2-4zM4-89l12 34l7-7l20-12v60l-5 4l-26-1v3l12 4l7 6l3 8l2 12l13-3l16-8l5-14l1-87l38-25l-1-3l-37 12v-40h33l6-4l-23-24l-14 21h-2v-49l7-2l2-5l-37-3v59h-35l2 7h33v47z"/><path id="s624b" d="M187-212l-75 23l-91 18l1 3l88-3v42h-90l2 7h88v47h-104l2 7h102v50l-6 6l-47-2v3l14 3l17 8l4 5l5 17l29-6l8-6l5-8l3-18v-52h95l7-4l-31-24l-18 21h-53v-47h84l8-4l-32-24l-16 21h-44v-45l59-9l10 3l7-2z"/><path id="r5317" d="M9-30l11 23l5-7l61-35v68l12-2l4-4v-205l7-2l2-5l-25-3v70h-69l2 6h67v72zM217-160l-26 29l-33 29v-90l7-2l2-4l-25-4v192l1 9l4 7l8 3h58h14l13-5v-8l-6-3l-1-37h-3l-8 36l-6 3h-46l-9-2l-3-6v-83l40-24l30-23l6 1l4-2z"/><path id="r4e19" d="M11-188l2 8h102v40h-66l-18-8v168l12-3l4-4v-145h67l-6 32l-7 17l-11 16l-15 15l-19 14l3 4l17-9l26-21l9-11l13-23l28 28l19 30l9 2l4-5l-1-11l-9-15l-18-17l-31-17l5-29h71l-1 130h-44v4l26 6l6 11l14-2l8-3l5-5l3-13v-125l10-5l-21-16l-8 10h-68v-40h102l7-4l-24-19l-13 15z"/><path id="sff08" d="M235-208l-3-5l-18 12l-17 15l-15 17l-11 21l-8 25l-3 28l3 28l8 25l11 21l15 17l35 27l3-5l-25-28l-11-17l-8-20l-5-22l-2-26l2-26l5-22l8-20l11-17z"/><path id="s7edd" d="M10-23l14 36l6-7l60-40l7-6v-2zM90-196l-37-15l-9 24l-13 25l-14 18l-9 3l14 33l30-15l-28 36l-6 6l-10 3l14 32l6-5l65-32l-1-3l-60 7l39-33l31-34l-23 44l3 2l21-19v107l3 17l12 8l24 2h59l18-1l20-6l4-5l1-5l-2-7l-10-5v-30h-3l-12 30l-9 3l-63 1l-12-2l-3-6v-48h70v12l15-2l13-6v-62l8-4l-26-20l-12 13h-26l36-33l10-2l-25-23l-15 15h-34l8-17l7-1l3-4l-36-12l-21 60l-29-16l-12 27l-35 1l28-24l24-28zM200-128v55h-22v-55zM154-135h-20l-13-5l20-31h38l-14 36zM154-128v55h-24v-55z"/><path id="s5bf9" d="M119-120l-2 2l14 27l7 26l11 6l10-4l5-12l-3-15l-14-16zM220-171l-14 21v-50l7-3l2-4l-38-4v61h-64l2 8h62v126l-7 5l-39-2v3l13 3l14 8l4 5l3 16l27-6l7-6l4-6l3-18v-128h32l6-4zM26-149l-4 2l23 30l19 33l-25 50l-33 43l3 2l38-31l29-36l9 28l8 13l9 4l8-2l6-9l1-13l-5-18l-20-33l14-40l9-41l11-4l-27-24l-15 16h-72l2 7h72l-14 63z"/><path id="sff09" d="M18-213l-3 5l25 28l11 17l8 20l5 22l2 26l-2 26l-5 22l-8 20l-11 17l-25 28l3 5l35-27l15-17l11-21l8-25l3-28l-3-28l-8-25l-11-21l-15-17z"/></defs>
<rect x="2" y="2" width="4795" height="3414" fill="none" stroke="#73ffdc" stroke-width="4"/>
<circle cx="4613.2" cy="225.3" r="71.7" fill="none" stroke="#62ff1a" stroke-width="1.2"/>
<polygon points="4617.4,153.8 4599,296 4617.4,297.2" fill="#62ff1a"/>
<polygon points="1591.4,932.1 1683.6,975.1 1678.4,986.5 1586.2,943.5" fill="#6f7f88" stroke="#1a1a1a" stroke-width="1.1"/>
<polygon points="1546.5,1030.1 1557.1,1035.1 1484.4,1191.1 1473.8,1186.2" fill="#6f7f88" stroke="#1a1a1a" stroke-width="1.1"/>
<polygon points="1822.6,902.7 1833.4,907.8 1803.3,972.3 1792.5,967.3" fill="#6f7f88" stroke="#1a1a1a" stroke-width="1.1"/>
<polygon points="1971.6,932.6 2010.5,950.8 1968.4,1041.2 1957.1,1035.9 1994.1,956.5 1966.4,943.7" fill="#6f7f88" stroke="#1a1a1a" stroke-width="1.1"/>
<polygon points="2084.6,986.1 2123.2,1004.1 2118.2,1014.9 2090.6,1002.1 2023.2,1146.7 1985.5,1129.1 1990.5,1118.3 2017.1,1130.7" fill="#6f7f88" stroke="#1a1a1a" stroke-width="1.1"/>
<polygon points="1687.5,1233.1 1698.9,1238.4 1656.1,1330 1591.2,1299.8 1596.5,1288.5 1650,1313.4" fill="#6f7f88" stroke="#1a1a1a" stroke-width="1.1"/>
<polygon points="1880,1257.9 1890.7,1262.9 1842.8,1365.5 1864.6,1375.7 1859.8,1386.2 1827.3,1371" fill="#6f7f88" stroke="#1a1a1a" stroke-width="1.1"/>
<polyline points="1586.3,944.2 1546.4,1029.8" fill="none" stroke="#c050e0" stroke-width="1.2"/>
<polyline points="1473.7,1186.1 1451,1234.7 1591.1,1300" fill="none" stroke="#c050e0" stroke-width="1.2"/>
<polyline points="1683.7,975 1770,1015.2 1792.3,967.5" fill="none" stroke="#c050e0" stroke-width="1.2"/>
<polyline points="1683.6,1270.9 1838.5,1343.2" fill="none" stroke="#c050e0" stroke-width="1.2"/>
<polyline points="2060.7,972.8 1868.4,1385.1" fill="none" stroke="#62ff1a" stroke-width="1.2"/>
<polyline points="2059.26,968.853 2062.14,976.747" fill="none" stroke="#62ff1a" stroke-width="3"/>
<polyline points="2048.01,966.883 2073.39,978.717" fill="none" stroke="#62ff1a" stroke-width="1.2"/>
<polyline points="1932.96,1239.75 1935.84,1247.65" fill="none" stroke="#62ff1a" stroke-width="3"/>
<polyline points="1921.71,1237.78 1947.09,1249.62" fill="none" stroke="#62ff1a" stroke-width="1.2"/>
<polyline points="1866.96,1381.15 1869.84,1389.05" fill="none" stroke="#62ff1a" stroke-width="3"/>
<polyline points="1855.71,1379.18 1881.09,1391.02" fill="none" stroke="#62ff1a" stroke-width="1.2"/>
<polyline points="1969.1,937.7 1934,1020.9" fill="none" stroke="#62ff1a" stroke-width="1.2"/>
<polyline points="1932.56,1016.95 1935.44,1024.85" fill="none" stroke="#62ff1a" stroke-width="3"/>
<polyline points="1921.31,1014.98 1946.69,1026.82" fill="none" stroke="#62ff1a" stroke-width="1.2"/>
<g transform="translate(1947.21,976.815) rotate(-65) scale(0.87,1) translate(-24,-19)" fill="none" stroke="#111" stroke-width="1.3" stroke-linecap="round" stroke-linejoin="round"><path transform="translate(0,0)" d="M2,4L6,0V19"/><path transform="translate(12,0)" d="M9,0H1L0,8C3,6 10,6 10,13A5,5.5 0 0 1 0,15"/><path transform="translate(25,0)" d="M0,5A5,5 0 0 1 10,5V14A5,5 0 0 1 0,14Z"/><path transform="translate(38,0)" d="M0,5A5,5 0 0 1 10,5V14A5,5 0 0 1 0,14Z"/></g>
<g transform="translate(1989.31,1104.91) rotate(-65) scale(0.87,1) translate(-24.5,-19)" fill="none" stroke="#111" stroke-width="1.3" stroke-linecap="round" stroke-linejoin="round"><path transform="translate(0,0)" d="M9,0H1L0,8C3,6 10,6 10,13A5,5.5 0 0 1 0,15"/><path transform="translate(13,0)" d="M0,5A5,5 0 0 1 10,5V14A5,5 0 0 1 0,14Z"/><path transform="translate(26,0)" d="M0,5A5,5 0 0 1 10,5V14A5,5 0 0 1 0,14Z"/><path transform="translate(39,0)" d="M0,5A5,5 0 0 1 10,5V14A5,5 0 0 1 0,14Z"/></g>
<g transform="translate(1895.31,1310.11) rotate(-65) scale(0.87,1) translate(-24.5,-19)" fill="none" stroke="#111" stroke-width="1.3" stroke-linecap="round" stroke-linejoin="round"><path transform="translate(0,0)" d="M0,5A5,5 0 0 1 10,5C10,10 0,13 0,19H10"/><path transform="translate(13,0)" d="M9,2C7,0 0,-1 0,8V14A5,5 0 0 0 10,14A5,5 0 0 0 0,12"/><path transform="translate(26,0)" d="M0,5A5,5 0 0 1 10,5V14A5,5 0 0 1 0,14Z"/><path transform="translate(39,0)" d="M0,5A5,5 0 0 1 10,5V14A5,5 0 0 1 0,14Z"/></g>
<polyline points="1586,1087.5 1650.9,1087.5" fill="none" stroke="#62ff1a" stroke-width="1.2"/>
<polyline points="1586,1087.5 1603.5,1105.1 1620.4,1087.5" fill="none" stroke="#62ff1a" stroke-width="1.2"/>
<polyline points="1986.3,1228.5 2000.8,1267.1 2012.6,1241.1 2033.2,1282.5 2044.6,1255.7 2060,1294.7 2071.8,1268.9 2087.2,1307.5 2099,1281.1 2113.9,1319.7 2126.2,1293.7" fill="none" stroke="#c050e0" stroke-width="1"/>
<polyline points="1986.3,1228.5 2126.2,1293.7" fill="none" stroke="#c050e0" stroke-width="1"/>
<polyline points="1974.5,1254.8 2012.6,1241.1" fill="none" stroke="#c050e0" stroke-width="1"/>
<polyline points="2000.8,1267.1 2044.6,1255.7" fill="none" stroke="#c050e0" stroke-width="1"/>
<polyline points="2033.2,1282.5 2071.8,1268.9" fill="none" stroke="#c050e0" stroke-width="1"/>
<polyline points="2060,1294.7 2099,1281.1" fill="none" stroke="#c050e0" stroke-width="1"/>
<polyline points="2087.2,1307.5 2126.2,1293.7" fill="none" stroke="#c050e0" stroke-width="1"/>
<polyline points="2125.8,1242.1 2068.8,1242.1 2039.2,1269.3" fill="none" stroke="#62ff1a" stroke-width="1.6"/>
<circle cx="2039.2" cy="1269.3" r="2.4" fill="#62ff1a" stroke="#62ff1a" stroke-width="1"/>
<polyline points="2085.5,986.6 2156.6,834.7 2447.4,969.5 2377.6,1119.5" fill="none" stroke="#ff6a2a" stroke-width="1.2"/>
<polyline points="2225,836.1 2290.8,836.1" fill="none" stroke="#62ff1a" stroke-width="1.2"/>
<polyline points="2225,836.1 2243.4,854.5 2260.5,836.1" fill="none" stroke="#62ff1a" stroke-width="1.2"/>
<text transform="translate(2271.6,830.9) rotate(0) scale(0.53,1)" font-size="26" fill="#111" text-anchor="middle" font-family="Liberation Serif" font-weight="normal">-0.150</text>
<polyline points="2185.5,849.7 2116.3,997.9" fill="none" stroke="#62ff1a" stroke-width="1.2"/>
<polyline points="2184.06,845.753 2186.94,853.647" fill="none" stroke="#62ff1a" stroke-width="3"/>
<polyline points="2172.81,843.783 2198.19,855.617" fill="none" stroke="#62ff1a" stroke-width="1.2"/>
<polyline points="2168.26,879.953 2171.14,887.847" fill="none" stroke="#62ff1a" stroke-width="3"/>
<polyline points="2157.01,877.983 2182.39,889.817" fill="none" stroke="#62ff1a" stroke-width="1.2"/>
<polyline points="2130.16,960.253 2133.04,968.147" fill="none" stroke="#62ff1a" stroke-width="3"/>
<polyline points="2118.91,958.283 2144.29,970.117" fill="none" stroke="#62ff1a" stroke-width="1.2"/>
<polyline points="2212.6,863.7 2141.6,1015.5" fill="none" stroke="#62ff1a" stroke-width="1.2"/>
<polyline points="2211.16,859.753 2214.04,867.647" fill="none" stroke="#62ff1a" stroke-width="3"/>
<polyline points="2199.91,857.783 2225.29,869.617" fill="none" stroke="#62ff1a" stroke-width="1.2"/>
<polyline points="2140.16,1011.55 2143.04,1019.45" fill="none" stroke="#62ff1a" stroke-width="3"/>
<polyline points="2128.91,1009.58 2154.29,1021.42" fill="none" stroke="#62ff1a" stroke-width="1.2"/>
<g transform="translate(2171.21,867.715) rotate(-65) scale(0.87,1) translate(-18,-19)" fill="none" stroke="#111" stroke-width="1.3" stroke-linecap="round" stroke-linejoin="round"><path transform="translate(0,0)" d="M9,2C7,0 0,-1 0,8V14A5,5 0 0 0 10,14A5,5 0 0 0 0,12"/><path transform="translate(13,0)" d="M0,5A5,5 0 0 1 10,5V14A5,5 0 0 1 0,14Z"/><path transform="translate(26,0)" d="M0,5A5,5 0 0 1 10,5V14A5,5 0 0 1 0,14Z"/></g>
<g transform="translate(2144.11,920.815) rotate(-65) scale(0.87,1) translate(-24,-19)" fill="none" stroke="#111" stroke-width="1.3" stroke-linecap="round" stroke-linejoin="round"><path transform="translate(0,0)" d="M2,4L6,0V19"/><path transform="translate(12,0)" d="M9,0H1L0,8C3,6 10,6 10,13A5,5.5 0 0 1 0,15"/><path transform="translate(25,0)" d="M0,5A5,5 0 0 1 10,5V14A5,5 0 0 1 0,14Z"/><path transform="translate(38,0)" d="M0,5A5,5 0 0 1 10,5V14A5,5 0 0 1 0,14Z"/></g>
<g transform="translate(2116.51,978.715) rotate(-65) scale(0.87,1) translate(-18,-19)" fill="none" stroke="#111" stroke-width="1.3" stroke-linecap="round" stroke-linejoin="round"><path transform="translate(0,0)" d="M0,0H10L3,19"/><path transform="translate(13,0)" d="M0,5A5,5 0 0 1 10,5V14A5,5 0 0 1 0,14Z"/><path transform="translate(26,0)" d="M0,5A5,5 0 0 1 10,5V14A5,5 0 0 1 0,14Z"/></g>
<g transform="translate(2170.41,937.215) rotate(-65) scale(0.87,1) translate(-24.5,-19)" fill="none" stroke="#111" stroke-width="1.3" stroke-linecap="round" stroke-linejoin="round"><path transform="translate(0,0)" d="M0,5A5,5 0 0 1 10,5C10,10 0,13 0,19H10"/><path transform="translate(13,0)" d="M5,9A4.5,4.5 0 1 1 5,0A4.5,4.5 0 1 1 5,9A5,5 0 1 1 5,19A5,5 0 1 1 5,9"/><path transform="translate(26,0)" d="M0,5A5,5 0 0 1 10,5V14A5,5 0 0 1 0,14Z"/><path transform="translate(39,0)" d="M0,5A5,5 0 0 1 10,5V14A5,5 0 0 1 0,14Z"/></g>
<polyline points="2121.6,1004.2 2181.6,1032.1" fill="none" stroke="#62ff1a" stroke-width="1"/>
<polyline points="2120.15,1007.3 2180.15,1035.2" fill="none" stroke="#62ff1a" stroke-width="1"/>
<polyline points="2118.71,1010.4 2178.71,1038.3" fill="none" stroke="#62ff1a" stroke-width="1"/>
<polyline points="2117.26,1013.5 2177.26,1041.4" fill="none" stroke="#62ff1a" stroke-width="1"/>
<polyline points="2181.6,1032.1 2178.2,1041.8" fill="none" stroke="#62ff1a" stroke-width="1"/>
<polyline points="2181.6,1033.9 2335.5,1105" fill="none" stroke="#62ff1a" stroke-width="1"/>
<polyline points="2182.9,1036.6 2201.3,989.2 2204.2,990.5 2185.5,1037.9" fill="none" stroke="#62ff1a" stroke-width="1"/>
<polyline points="2276.8,1080 2296.1,1033.2 2299.5,1034.7 2279.5,1081.3" fill="none" stroke="#62ff1a" stroke-width="1"/>
<path d="M2204.48,990.323 A51.0608,51.0608 0 0 1 2229.18,1058.18" fill="none" stroke="#62ff1a" stroke-width="1"/>
<path d="M2298.38,1033.72 A51.0608,51.0608 0 0 0 2230.52,1058.42" fill="none" stroke="#62ff1a" stroke-width="1"/>
<polyline points="2277.9,1080 2338.9,1108.2" fill="none" stroke="#62ff1a" stroke-width="1"/>
<polyline points="2276.57,1082.86 2337.57,1111.06" fill="none" stroke="#62ff1a" stroke-width="1"/>
<polyline points="2275.23,1085.72 2336.23,1113.92" fill="none" stroke="#62ff1a" stroke-width="1"/>
<polyline points="2273.9,1088.59 2334.9,1116.79" fill="none" stroke="#62ff1a" stroke-width="1"/>
<polyline points="2277.9,1080 2274.2,1089.2" fill="none" stroke="#62ff1a" stroke-width="1"/>
<polygon points="2339.9,1104.2 2377.9,1121.9 2348.3,1185.3 2336.3,1179.7 2360.6,1127.5 2334.7,1115.4" fill="#6f7f88" stroke="#1a1a1a" stroke-width="1.1"/>
<polyline points="2409.2,1134.7 2381.1,1196.3" fill="none" stroke="#62ff1a" stroke-width="1.2"/>
<polyline points="2407.76,1130.75 2410.64,1138.65" fill="none" stroke="#62ff1a" stroke-width="3"/>
<polyline points="2389.26,1125.4 2421.89,1140.62" fill="none" stroke="#62ff1a" stroke-width="1.2"/>
<polyline points="2379.66,1192.35 2382.54,1200.25" fill="none" stroke="#62ff1a" stroke-width="3"/>
<polyline points="2361.16,1187 2393.79,1202.22" fill="none" stroke="#62ff1a" stroke-width="1.2"/>
<g transform="translate(2388.11,1166.11) rotate(-65) scale(0.87,1) translate(-23.5,-19)" fill="none" stroke="#111" stroke-width="1.3" stroke-linecap="round" stroke-linejoin="round"><path transform="translate(0,0)" d="M2,4L6,0V19"/><path transform="translate(12,0)" d="M2,4L6,0V19"/><path transform="translate(24,0)" d="M0,5A5,5 0 0 1 10,5V14A5,5 0 0 1 0,14Z"/><path transform="translate(37,0)" d="M0,5A5,5 0 0 1 10,5V14A5,5 0 0 1 0,14Z"/></g>
<polyline points="2348.7,1181.3 2367.1,1190.5" fill="none" stroke="#f0a0e8" stroke-width="1" stroke-dasharray="2,2"/>
<polyline points="2570.5,788.7 2602.6,803.2 2577.6,856.3" fill="none" stroke="#62ff1a" stroke-width="4"/>
<polyline points="2577.6,856.3 2483.7,1056.3" fill="none" stroke="#74848f" stroke-width="1.4" stroke-dasharray="18,8"/>
<polyline points="2483.7,1056.3 2460,1107.6 2460,1166.8" fill="none" stroke="#62ff1a" stroke-width="4"/>
<text transform="translate(2561.8,787.4) rotate(0) scale(0.8,1)" font-size="38" fill="#111" text-anchor="middle" font-family="Liberation Serif" font-weight="normal">1</text>
<circle cx="1864.5" cy="346.4" r="23.7" fill="none" stroke="#62ff1a" stroke-width="1.2"/>
<text transform="translate(1864.5,360.135) rotate(0) scale(0.344,1)" font-size="41" fill="#111" text-anchor="middle" font-family="Liberation Serif" font-weight="bold">8-A1</text>
<circle cx="2047.7" cy="432.2" r="23.7" fill="none" stroke="#62ff1a" stroke-width="1.2"/>
<text transform="translate(2047.7,445.935) rotate(0) scale(0.344,1)" font-size="41" fill="#111" text-anchor="middle" font-family="Liberation Serif" font-weight="bold">8-A2</text>
<circle cx="2209.4" cy="508" r="23.7" fill="none" stroke="#62ff1a" stroke-width="1.2"/>
<text transform="translate(2209.4,521.735) rotate(0) scale(0.344,1)" font-size="41" fill="#111" text-anchor="middle" font-family="Liberation Serif" font-weight="bold">8-A4</text>
<circle cx="2296.3" cy="547.5" r="23.7" fill="none" stroke="#62ff1a" stroke-width="1.2"/>
<text transform="translate(2296.3,561.235) rotate(0) scale(0.344,1)" font-size="41" fill="#111" text-anchor="middle" font-family="Liberation Serif" font-weight="bold">8-A6</text>
<circle cx="2447.4" cy="618.6" r="23.7" fill="none" stroke="#62ff1a" stroke-width="1.2"/>
<text transform="translate(2447.4,632.335) rotate(0) scale(0.344,1)" font-size="41" fill="#111" text-anchor="middle" font-family="Liberation Serif" font-weight="bold">8-A7</text>
<circle cx="2576.4" cy="679.2" r="23.7" fill="none" stroke="#62ff1a" stroke-width="1.2"/>
<text transform="translate(2576.4,692.935) rotate(0) scale(0.344,1)" font-size="41" fill="#111" text-anchor="middle" font-family="Liberation Serif" font-weight="bold">8-A8</text>
<circle cx="1378" cy="629.1" r="23.7" fill="none" stroke="#62ff1a" stroke-width="1.2"/>
<text transform="translate(1378,642.835) rotate(0) scale(0.327,1)" font-size="41" fill="#111" text-anchor="middle" font-family="Liberation Serif" font-weight="bold">8-AF</text>
<circle cx="1353.2" cy="683.4" r="23.7" fill="none" stroke="#62ff1a" stroke-width="1.2"/>
<text transform="translate(1353.2,697.135) rotate(0) scale(0.318,1)" font-size="41" fill="#111" text-anchor="middle" font-family="Liberation Serif" font-weight="bold">8-AE</text>
<circle cx="1297.4" cy="801.8" r="23.7" fill="none" stroke="#62ff1a" stroke-width="1.2"/>
<text transform="translate(1297.4,815.535) rotate(0) scale(0.311,1)" font-size="41" fill="#111" text-anchor="middle" font-family="Liberation Serif" font-weight="bold">8-AD</text>
<polyline points="1854.5,368.5 1772.9,543.8" fill="none" stroke="#62ff1a" stroke-width="1.2"/>
<polyline points="2037.2,454.3 1956.6,629.1" fill="none" stroke="#62ff1a" stroke-width="1.2"/>
<polyline points="2199.4,530.1 2118.8,704.4" fill="none" stroke="#62ff1a" stroke-width="1.2"/>
<polyline points="2286.3,569.6 2204.7,745" fill="none" stroke="#62ff1a" stroke-width="1.2"/>
<polyline points="2263.6,697.6 2243.6,746.6" fill="none" stroke="#62ff1a" stroke-width="1.2"/>
<polyline points="2325.2,726.5 2303.1,773.9" fill="none" stroke="#62ff1a" stroke-width="1.2"/>
<polyline points="2436.9,640.7 2355.2,817.1" fill="none" stroke="#62ff1a" stroke-width="1.2"/>
<polyline points="2422.1,771.3 2397.4,826.6" fill="none" stroke="#62ff1a" stroke-width="1.2"/>
<polyline points="2481.6,798.7 2459,847.7" fill="none" stroke="#62ff1a" stroke-width="1.2"/>
<polyline points="2565.9,701.3 2485.3,875.6" fill="none" stroke="#62ff1a" stroke-width="1.2"/>
<polyline points="1838.2,402.7 2550.73,734.959" fill="none" stroke="#62ff1a" stroke-width="1.2"/>
<polyline points="1834.25,404.136 1842.15,401.264" fill="none" stroke="#62ff1a" stroke-width="3"/>
<polyline points="2546.79,736.396 2554.68,733.523" fill="none" stroke="#62ff1a" stroke-width="3"/>
<g transform="translate(2197.21,562.939) rotate(25) scale(0.87,1) translate(-30.5,-19)" fill="none" stroke="#111" stroke-width="1.3" stroke-linecap="round" stroke-linejoin="round"><path transform="translate(0,0)" d="M2,4L6,0V19"/><path transform="translate(12,0)" d="M0,4A5,4.5 0 1 1 5,9A5,5 0 1 1 0,15"/><path transform="translate(25,0)" d="M0,5A5,5 0 0 1 10,5C10,10 0,13 0,19H10"/><path transform="translate(38,0)" d="M0,5A5,5 0 0 1 10,5V14A5,5 0 0 1 0,14Z"/><path transform="translate(51,0)" d="M0,5A5,5 0 0 1 10,5V14A5,5 0 0 1 0,14Z"/></g>
<polyline points="1814.5,452.7 2527.03,784.959" fill="none" stroke="#62ff1a" stroke-width="1.2"/>
<polyline points="1810.55,454.136 1818.45,451.264" fill="none" stroke="#62ff1a" stroke-width="3"/>
<polyline points="1994.08,539.718 2001.98,536.845" fill="none" stroke="#62ff1a" stroke-width="3"/>
<polyline points="2156.02,615.232 2163.92,612.359" fill="none" stroke="#62ff1a" stroke-width="3"/>
<polyline points="2242.39,655.506 2250.28,652.633" fill="none" stroke="#62ff1a" stroke-width="3"/>
<polyline points="2393.53,725.985 2401.43,723.112" fill="none" stroke="#62ff1a" stroke-width="3"/>
<polyline points="2523.09,786.396 2530.98,783.523" fill="none" stroke="#62ff1a" stroke-width="3"/>
<g transform="translate(1909.01,489.6) rotate(25) scale(0.87,1) translate(-24.5,-19)" fill="none" stroke="#111" stroke-width="1.3" stroke-linecap="round" stroke-linejoin="round"><path transform="translate(0,0)" d="M0,4A5,4.5 0 1 1 5,9A5,5 0 1 1 0,15"/><path transform="translate(13,0)" d="M8,19V0L0,13H10"/><path transform="translate(26,0)" d="M0,5A5,5 0 0 1 10,5V14A5,5 0 0 1 0,14Z"/><path transform="translate(39,0)" d="M0,5A5,5 0 0 1 10,5V14A5,5 0 0 1 0,14Z"/></g>
<g transform="translate(2081.75,570.148) rotate(25) scale(0.87,1) translate(-24.5,-19)" fill="none" stroke="#111" stroke-width="1.3" stroke-linecap="round" stroke-linejoin="round"><path transform="translate(0,0)" d="M0,4A5,4.5 0 1 1 5,9A5,5 0 1 1 0,15"/><path transform="translate(13,0)" d="M0,5A5,5 0 0 1 10,5V14A5,5 0 0 1 0,14Z"/><path transform="translate(26,0)" d="M0,5A5,5 0 0 1 10,5V14A5,5 0 0 1 0,14Z"/><path transform="translate(39,0)" d="M0,5A5,5 0 0 1 10,5V14A5,5 0 0 1 0,14Z"/></g>
<g transform="translate(2205.9,628.041) rotate(25) scale(0.87,1) translate(-24,-19)" fill="none" stroke="#111" stroke-width="1.3" stroke-linecap="round" stroke-linejoin="round"><path transform="translate(0,0)" d="M2,4L6,0V19"/><path transform="translate(12,0)" d="M9,2C7,0 0,-1 0,8V14A5,5 0 0 0 10,14A5,5 0 0 0 0,12"/><path transform="translate(25,0)" d="M0,5A5,5 0 0 1 10,5V14A5,5 0 0 1 0,14Z"/><path transform="translate(38,0)" d="M0,5A5,5 0 0 1 10,5V14A5,5 0 0 1 0,14Z"/></g>
<g transform="translate(2324.66,683.418) rotate(25) scale(0.87,1) translate(-24.5,-19)" fill="none" stroke="#111" stroke-width="1.3" stroke-linecap="round" stroke-linejoin="round"><path transform="translate(0,0)" d="M0,5A5,5 0 0 1 10,5C10,10 0,13 0,19H10"/><path transform="translate(13,0)" d="M5,9A4.5,4.5 0 1 1 5,0A4.5,4.5 0 1 1 5,9A5,5 0 1 1 5,19A5,5 0 1 1 5,9"/><path transform="translate(26,0)" d="M0,5A5,5 0 0 1 10,5V14A5,5 0 0 1 0,14Z"/><path transform="translate(39,0)" d="M0,5A5,5 0 0 1 10,5V14A5,5 0 0 1 0,14Z"/></g>
<g transform="translate(2465,748.863) rotate(25) scale(0.87,1) translate(-24.5,-19)" fill="none" stroke="#111" stroke-width="1.3" stroke-linecap="round" stroke-linejoin="round"><path transform="translate(0,0)" d="M0,5A5,5 0 0 1 10,5C10,10 0,13 0,19H10"/><path transform="translate(13,0)" d="M8,19V0L0,13H10"/><path transform="translate(26,0)" d="M0,5A5,5 0 0 1 10,5V14A5,5 0 0 1 0,14Z"/><path transform="translate(39,0)" d="M0,5A5,5 0 0 1 10,5V14A5,5 0 0 1 0,14Z"/></g>
<polyline points="2232,683.4 2512.69,814.29" fill="none" stroke="#62ff1a" stroke-width="1.2"/>
<polyline points="2228.05,684.836 2235.95,681.964" fill="none" stroke="#62ff1a" stroke-width="3"/>
<polyline points="2260.44,699.939 2268.33,697.066" fill="none" stroke="#62ff1a" stroke-width="3"/>
<polyline points="2319.82,727.627 2327.71,724.754" fill="none" stroke="#62ff1a" stroke-width="3"/>
<polyline points="2416.98,772.935 2424.88,770.063" fill="none" stroke="#62ff1a" stroke-width="3"/>
<polyline points="2476.36,800.624 2484.25,797.751" fill="none" stroke="#62ff1a" stroke-width="3"/>
<polyline points="2508.75,815.726 2516.64,812.853" fill="none" stroke="#62ff1a" stroke-width="3"/>
<g transform="translate(2250.94,685.06) rotate(25) scale(0.87,1) translate(-18,-19)" fill="none" stroke="#111" stroke-width="1.3" stroke-linecap="round" stroke-linejoin="round"><path transform="translate(0,0)" d="M9,2C7,0 0,-1 0,8V14A5,5 0 0 0 10,14A5,5 0 0 0 0,12"/><path transform="translate(13,0)" d="M0,5A5,5 0 0 1 10,5V14A5,5 0 0 1 0,14Z"/><path transform="translate(26,0)" d="M0,5A5,5 0 0 1 10,5V14A5,5 0 0 1 0,14Z"/></g>
<g transform="translate(2296.82,706.456) rotate(25) scale(0.87,1) translate(-23.5,-19)" fill="none" stroke="#111" stroke-width="1.3" stroke-linecap="round" stroke-linejoin="round"><path transform="translate(0,0)" d="M2,4L6,0V19"/><path transform="translate(12,0)" d="M2,4L6,0V19"/><path transform="translate(24,0)" d="M0,5A5,5 0 0 1 10,5V14A5,5 0 0 1 0,14Z"/><path transform="translate(37,0)" d="M0,5A5,5 0 0 1 10,5V14A5,5 0 0 1 0,14Z"/></g>
<g transform="translate(2375.09,742.954) rotate(25) scale(0.87,1) translate(-24,-19)" fill="none" stroke="#111" stroke-width="1.3" stroke-linecap="round" stroke-linejoin="round"><path transform="translate(0,0)" d="M2,4L6,0V19"/><path transform="translate(12,0)" d="M5,9A4.5,4.5 0 1 1 5,0A4.5,4.5 0 1 1 5,9A5,5 0 1 1 5,19A5,5 0 1 1 5,9"/><path transform="translate(25,0)" d="M0,5A5,5 0 0 1 10,5V14A5,5 0 0 1 0,14Z"/><path transform="translate(38,0)" d="M0,5A5,5 0 0 1 10,5V14A5,5 0 0 1 0,14Z"/></g>
<g transform="translate(2453.36,779.452) rotate(25) scale(0.87,1) translate(-23.5,-19)" fill="none" stroke="#111" stroke-width="1.3" stroke-linecap="round" stroke-linejoin="round"><path transform="translate(0,0)" d="M2,4L6,0V19"/><path transform="translate(12,0)" d="M2,4L6,0V19"/><path transform="translate(24,0)" d="M0,5A5,5 0 0 1 10,5V14A5,5 0 0 1 0,14Z"/><path transform="translate(37,0)" d="M0,5A5,5 0 0 1 10,5V14A5,5 0 0 1 0,14Z"/></g>
<g transform="translate(2499.25,800.848) rotate(25) scale(0.87,1) translate(-18,-19)" fill="none" stroke="#111" stroke-width="1.3" stroke-linecap="round" stroke-linejoin="round"><path transform="translate(0,0)" d="M9,2C7,0 0,-1 0,8V14A5,5 0 0 0 10,14A5,5 0 0 0 0,12"/><path transform="translate(13,0)" d="M0,5A5,5 0 0 1 10,5V14A5,5 0 0 1 0,14Z"/><path transform="translate(26,0)" d="M0,5A5,5 0 0 1 10,5V14A5,5 0 0 1 0,14Z"/></g>
<polyline points="1427.5,678.1 1221.1,1120.73" fill="none" stroke="#62ff1a" stroke-width="1.2"/>
<polyline points="1426.06,674.153 1428.94,682.047" fill="none" stroke="#62ff1a" stroke-width="3"/>
<polyline points="1219.66,1116.79 1222.53,1124.68" fill="none" stroke="#62ff1a" stroke-width="3"/>
<g transform="translate(1318.41,896.67) rotate(-65) scale(0.87,1) translate(-24.5,-19)" fill="none" stroke="#111" stroke-width="1.3" stroke-linecap="round" stroke-linejoin="round"><path transform="translate(0,0)" d="M5,9A4.5,4.5 0 1 1 5,0A4.5,4.5 0 1 1 5,9A5,5 0 1 1 5,19A5,5 0 1 1 5,9"/><path transform="translate(13,0)" d="M0,5A5,5 0 0 1 10,5C10,10 0,13 0,19H10"/><path transform="translate(26,0)" d="M0,5A5,5 0 0 1 10,5V14A5,5 0 0 1 0,14Z"/><path transform="translate(39,0)" d="M0,5A5,5 0 0 1 10,5V14A5,5 0 0 1 0,14Z"/></g>
<polyline points="1471.2,697.6 1264.8,1140.23" fill="none" stroke="#62ff1a" stroke-width="1.2"/>
<polyline points="1469.76,693.653 1472.64,701.547" fill="none" stroke="#62ff1a" stroke-width="3"/>
<polyline points="1454.66,726.041 1457.53,733.935" fill="none" stroke="#62ff1a" stroke-width="3"/>
<polyline points="1399.28,844.796 1402.16,852.69" fill="none" stroke="#62ff1a" stroke-width="3"/>
<polyline points="1356.49,936.562 1359.37,944.455" fill="none" stroke="#62ff1a" stroke-width="3"/>
<polyline points="1283.5,1093.1 1286.37,1101" fill="none" stroke="#62ff1a" stroke-width="3"/>
<polyline points="1278.46,1103.9 1281.34,1111.79" fill="none" stroke="#62ff1a" stroke-width="3"/>
<polyline points="1263.36,1136.29 1266.23,1144.18" fill="none" stroke="#62ff1a" stroke-width="3"/>
<g transform="translate(1457.76,711.047) rotate(-65) scale(0.87,1) translate(-18,-19)" fill="none" stroke="#111" stroke-width="1.3" stroke-linecap="round" stroke-linejoin="round"><path transform="translate(0,0)" d="M9,2C7,0 0,-1 0,8V14A5,5 0 0 0 10,14A5,5 0 0 0 0,12"/><path transform="translate(13,0)" d="M0,5A5,5 0 0 1 10,5V14A5,5 0 0 1 0,14Z"/><path transform="translate(26,0)" d="M0,5A5,5 0 0 1 10,5V14A5,5 0 0 1 0,14Z"/></g>
<g transform="translate(1422.52,786.618) rotate(-65) scale(0.87,1) translate(-24.5,-19)" fill="none" stroke="#111" stroke-width="1.3" stroke-linecap="round" stroke-linejoin="round"><path transform="translate(0,0)" d="M0,5A5,5 0 0 1 10,5C10,10 0,13 0,19H10"/><path transform="translate(13,0)" d="M0,5A5,5 0 0 1 10,5C10,10 0,13 0,19H10"/><path transform="translate(26,0)" d="M0,5A5,5 0 0 1 10,5V14A5,5 0 0 1 0,14Z"/><path transform="translate(39,0)" d="M0,5A5,5 0 0 1 10,5V14A5,5 0 0 1 0,14Z"/></g>
<g transform="translate(1373.43,891.879) rotate(-65) scale(0.87,1) translate(-24,-19)" fill="none" stroke="#111" stroke-width="1.3" stroke-linecap="round" stroke-linejoin="round"><path transform="translate(0,0)" d="M2,4L6,0V19"/><path transform="translate(12,0)" d="M0,0H10L3,19"/><path transform="translate(25,0)" d="M0,5A5,5 0 0 1 10,5V14A5,5 0 0 1 0,14Z"/><path transform="translate(38,0)" d="M0,5A5,5 0 0 1 10,5V14A5,5 0 0 1 0,14Z"/></g>
<g transform="translate(1315.54,1016.03) rotate(-65) scale(0.87,1) translate(-24.5,-19)" fill="none" stroke="#111" stroke-width="1.3" stroke-linecap="round" stroke-linejoin="round"><path transform="translate(0,0)" d="M0,5A5,5 0 0 1 10,5C10,10 0,13 0,19H10"/><path transform="translate(13,0)" d="M1,17C3,19 10,20 10,11V5A5,5 0 0 0 0,5A5,5 0 0 0 10,7"/><path transform="translate(26,0)" d="M0,5A5,5 0 0 1 10,5V14A5,5 0 0 1 0,14Z"/><path transform="translate(39,0)" d="M0,5A5,5 0 0 1 10,5V14A5,5 0 0 1 0,14Z"/></g>
<g transform="translate(1276.53,1099.7) rotate(-65) scale(0.87,1) translate(-18,-19)" fill="none" stroke="#111" stroke-width="1.3" stroke-linecap="round" stroke-linejoin="round"><path transform="translate(0,0)" d="M0,5A5,5 0 0 1 10,5C10,10 0,13 0,19H10"/><path transform="translate(13,0)" d="M0,5A5,5 0 0 1 10,5V14A5,5 0 0 1 0,14Z"/><path transform="translate(26,0)" d="M0,5A5,5 0 0 1 10,5V14A5,5 0 0 1 0,14Z"/></g>
<g transform="translate(1266.46,1121.29) rotate(-65) scale(0.87,1) translate(-18,-19)" fill="none" stroke="#111" stroke-width="1.3" stroke-linecap="round" stroke-linejoin="round"><path transform="translate(0,0)" d="M9,2C7,0 0,-1 0,8V14A5,5 0 0 0 10,14A5,5 0 0 0 0,12"/><path transform="translate(13,0)" d="M0,5A5,5 0 0 1 10,5V14A5,5 0 0 1 0,14Z"/><path transform="translate(26,0)" d="M0,5A5,5 0 0 1 10,5V14A5,5 0 0 1 0,14Z"/></g>
<polyline points="1386.9,651.8 1395.9,663.4 1605.4,761.8" fill="none" stroke="#62ff1a" stroke-width="1.2"/>
<polyline points="1371.1,695 1590.7,793.9" fill="none" stroke="#62ff1a" stroke-width="1.2"/>
<polyline points="1320.1,812.4 1535.4,912.4" fill="none" stroke="#62ff1a" stroke-width="1.2"/>
<polyline points="1342.2,934.5 1476.4,996.7" fill="none" stroke="#62ff1a" stroke-width="1.2"/>
<circle cx="1191.7" cy="1028.5" r="23.7" fill="none" stroke="#62ff1a" stroke-width="1.2"/>
<text transform="translate(1191.7,1042.23) rotate(0) scale(0.311,1)" font-size="41" fill="#111" text-anchor="middle" font-family="Liberation Serif" font-weight="bold">8-AC</text>
<circle cx="1133.3" cy="1066.7" r="23.7" fill="none" stroke="#62ff1a" stroke-width="1.2"/>
<text transform="translate(1133.3,1080.43) rotate(0) scale(0.318,1)" font-size="41" fill="#111" text-anchor="middle" font-family="Liberation Serif" font-weight="bold">8-AB</text>
<circle cx="1152.2" cy="1114.9" r="23.7" fill="none" stroke="#62ff1a" stroke-width="1.2"/>
<text transform="translate(1152.2,1128.63) rotate(0) scale(0.311,1)" font-size="41" fill="#111" text-anchor="middle" font-family="Liberation Serif" font-weight="bold">8-AA</text>
<polyline points="1202.6,1050.4 1207,1060.1 1419.7,1161" fill="none" stroke="#62ff1a" stroke-width="1.2"/>
<polyline points="1156.6,1061.4 1165.4,1056.6 1414,1171.9" fill="none" stroke="#62ff1a" stroke-width="1.2"/>
<polyline points="1175.4,1107 1184.2,1103.9 1400,1203.5" fill="none" stroke="#62ff1a" stroke-width="1.2"/>
<polyline points="1343.9,936 1476.8,996.5" fill="none" stroke="#62ff1a" stroke-width="1.2"/>
<circle cx="1321.6" cy="1510.8" r="23.7" fill="none" stroke="#62ff1a" stroke-width="1.2"/>
<text transform="translate(1321.6,1524.53) rotate(0) scale(0.344,1)" font-size="41" fill="#111" text-anchor="middle" font-family="Liberation Serif" font-weight="bold">8-A1</text>
<circle cx="1521.3" cy="1603.8" r="23.7" fill="none" stroke="#62ff1a" stroke-width="1.2"/>
<text transform="translate(1521.3,1617.53) rotate(0) scale(0.344,1)" font-size="41" fill="#111" text-anchor="middle" font-family="Liberation Serif" font-weight="bold">8-A3</text>
<circle cx="1688.8" cy="1681.7" r="23.7" fill="none" stroke="#62ff1a" stroke-width="1.2"/>
<text transform="translate(1688.8,1695.43) rotate(0) scale(0.344,1)" font-size="41" fill="#111" text-anchor="middle" font-family="Liberation Serif" font-weight="bold">8-A5</text>
<circle cx="1904.7" cy="1782.5" r="23.7" fill="none" stroke="#62ff1a" stroke-width="1.2"/>
<text transform="translate(1904.7,1796.23) rotate(0) scale(0.344,1)" font-size="41" fill="#111" text-anchor="middle" font-family="Liberation Serif" font-weight="bold">8-A7</text>
<polyline points="1402.6,1337.3 1331.4,1488.7" fill="none" stroke="#62ff1a" stroke-width="1.2"/>
<polyline points="1602.8,1430 1531.5,1581.7" fill="none" stroke="#62ff1a" stroke-width="1.2"/>
<polyline points="1770.2,1508 1699.3,1659.6" fill="none" stroke="#62ff1a" stroke-width="1.2"/>
<polyline points="1986.1,1608.7 1914.5,1760.7" fill="none" stroke="#62ff1a" stroke-width="1.2"/>
<polyline points="1358.8,1431.4 1941.78,1703.25" fill="none" stroke="#62ff1a" stroke-width="1.2"/>
<polyline points="1354.85,1432.84 1362.75,1429.96" fill="none" stroke="#62ff1a" stroke-width="3"/>
<polyline points="1554.58,1525.97 1562.47,1523.1" fill="none" stroke="#62ff1a" stroke-width="3"/>
<polyline points="1721.92,1604 1729.81,1601.13" fill="none" stroke="#62ff1a" stroke-width="3"/>
<polyline points="1937.83,1704.68 1945.73,1701.81" fill="none" stroke="#62ff1a" stroke-width="3"/>
<g transform="translate(1461.41,1472.08) rotate(25) scale(0.87,1) translate(-24.5,-19)" fill="none" stroke="#111" stroke-width="1.3" stroke-linecap="round" stroke-linejoin="round"><path transform="translate(0,0)" d="M0,4A5,4.5 0 1 1 5,9A5,5 0 1 1 0,15"/><path transform="translate(13,0)" d="M0,0H10L3,19"/><path transform="translate(26,0)" d="M0,5A5,5 0 0 1 10,5V14A5,5 0 0 1 0,14Z"/><path transform="translate(39,0)" d="M0,5A5,5 0 0 1 10,5V14A5,5 0 0 1 0,14Z"/></g>
<g transform="translate(1644.94,1557.66) rotate(25) scale(0.87,1) translate(-24,-19)" fill="none" stroke="#111" stroke-width="1.3" stroke-linecap="round" stroke-linejoin="round"><path transform="translate(0,0)" d="M0,4A5,4.5 0 1 1 5,9A5,5 0 1 1 0,15"/><path transform="translate(13,0)" d="M2,4L6,0V19"/><path transform="translate(25,0)" d="M0,5A5,5 0 0 1 10,5V14A5,5 0 0 1 0,14Z"/><path transform="translate(38,0)" d="M0,5A5,5 0 0 1 10,5V14A5,5 0 0 1 0,14Z"/></g>
<g transform="translate(1836.57,1647.02) rotate(25) scale(0.87,1) translate(-24.5,-19)" fill="none" stroke="#111" stroke-width="1.3" stroke-linecap="round" stroke-linejoin="round"><path transform="translate(0,0)" d="M8,19V0L0,13H10"/><path transform="translate(13,0)" d="M0,5A5,5 0 0 1 10,5V14A5,5 0 0 1 0,14Z"/><path transform="translate(26,0)" d="M0,5A5,5 0 0 1 10,5V14A5,5 0 0 1 0,14Z"/><path transform="translate(39,0)" d="M0,5A5,5 0 0 1 10,5V14A5,5 0 0 1 0,14Z"/></g>
<polyline points="1340.6,1470.1 1923.58,1741.95" fill="none" stroke="#62ff1a" stroke-width="1.2"/>
<polyline points="1336.65,1471.54 1344.55,1468.66" fill="none" stroke="#62ff1a" stroke-width="3"/>
<polyline points="1919.63,1743.38 1927.53,1740.51" fill="none" stroke="#62ff1a" stroke-width="3"/>
<g transform="translate(1634.84,1600.13) rotate(25) scale(0.87,1) translate(-30.5,-19)" fill="none" stroke="#111" stroke-width="1.3" stroke-linecap="round" stroke-linejoin="round"><path transform="translate(0,0)" d="M2,4L6,0V19"/><path transform="translate(12,0)" d="M0,5A5,5 0 0 1 10,5V14A5,5 0 0 1 0,14Z"/><path transform="translate(25,0)" d="M5,9A4.5,4.5 0 1 1 5,0A4.5,4.5 0 1 1 5,9A5,5 0 1 1 5,19A5,5 0 1 1 5,9"/><path transform="translate(38,0)" d="M0,5A5,5 0 0 1 10,5V14A5,5 0 0 1 0,14Z"/><path transform="translate(51,0)" d="M0,5A5,5 0 0 1 10,5V14A5,5 0 0 1 0,14Z"/></g>
<circle cx="997.5" cy="1364.6" r="23.7" fill="none" stroke="#62ff1a" stroke-width="1.2"/>
<text transform="translate(997.5,1378.33) rotate(0) scale(0.303,1)" font-size="41" fill="#111" text-anchor="middle" font-family="Liberation Serif" font-weight="bold">8-CK</text>
<polyline points="1021.2,1364.6 1259.6,1364.6" fill="none" stroke="#62ff1a" stroke-width="1.2"/>
<circle cx="997.5" cy="1430.12" r="23.7" fill="none" stroke="#62ff1a" stroke-width="1.2"/>
<text transform="translate(997.5,1443.85) rotate(0) scale(0.344,1)" font-size="41" fill="#111" text-anchor="middle" font-family="Liberation Serif" font-weight="bold">8-CJ</text>
<polyline points="1021.2,1430.12 1259.6,1430.12" fill="none" stroke="#62ff1a" stroke-width="1.2"/>
<circle cx="997.5" cy="1721.96" r="23.7" fill="none" stroke="#62ff1a" stroke-width="1.2"/>
<text transform="translate(997.5,1735.69) rotate(0) scale(0.327,1)" font-size="41" fill="#111" text-anchor="middle" font-family="Liberation Serif" font-weight="bold">8-CF</text>
<polyline points="1021.2,1721.96 1259.6,1721.96" fill="none" stroke="#62ff1a" stroke-width="1.2"/>
<circle cx="997.5" cy="1799.39" r="23.7" fill="none" stroke="#62ff1a" stroke-width="1.2"/>
<text transform="translate(997.5,1813.12) rotate(0) scale(0.318,1)" font-size="41" fill="#111" text-anchor="middle" font-family="Liberation Serif" font-weight="bold">8-CE</text>
<polyline points="1021.2,1799.39 1259.6,1799.39" fill="none" stroke="#62ff1a" stroke-width="1.2"/>
<circle cx="997.5" cy="1924.46" r="23.7" fill="none" stroke="#62ff1a" stroke-width="1.2"/>
<text transform="translate(997.5,1938.2) rotate(0) scale(0.311,1)" font-size="41" fill="#111" text-anchor="middle" font-family="Liberation Serif" font-weight="bold">8-CD</text>
<polyline points="1021.2,1924.46 1259.6,1924.46" fill="none" stroke="#62ff1a" stroke-width="1.2"/>
<circle cx="997.5" cy="2055.5" r="23.7" fill="none" stroke="#62ff1a" stroke-width="1.2"/>
<text transform="translate(997.5,2069.23) rotate(0) scale(0.311,1)" font-size="41" fill="#111" text-anchor="middle" font-family="Liberation Serif" font-weight="bold">8-CC</text>
<polyline points="1021.2,2055.5 1259.6,2055.5" fill="none" stroke="#62ff1a" stroke-width="1.2"/>
<circle cx="997.5" cy="2329.47" r="23.7" fill="none" stroke="#62ff1a" stroke-width="1.2"/>
<text transform="translate(997.5,2343.21) rotate(0) scale(0.318,1)" font-size="41" fill="#111" text-anchor="middle" font-family="Liberation Serif" font-weight="bold">8-CB</text>
<polyline points="1021.2,2329.47 1259.6,2329.47" fill="none" stroke="#62ff1a" stroke-width="1.2"/>
<circle cx="997.5" cy="2391.7" r="23.7" fill="none" stroke="#62ff1a" stroke-width="1.2"/>
<text transform="translate(997.5,2405.43) rotate(0) scale(0.311,1)" font-size="41" fill="#111" text-anchor="middle" font-family="Liberation Serif" font-weight="bold">8-CA</text>
<polyline points="1013.5,2374 1021,2365.21 1259.6,2365.21" fill="none" stroke="#62ff1a" stroke-width="1.2"/>
<polyline points="1063.2,1364.6 1063.2,2365.21" fill="none" stroke="#62ff1a" stroke-width="1.2"/>
<polyline points="1060.23,1361.63 1066.17,1367.57" fill="none" stroke="#62ff1a" stroke-width="3"/>
<polyline points="1060.23,2362.24 1066.17,2368.18" fill="none" stroke="#62ff1a" stroke-width="3"/>
<g transform="translate(1056.7,1864.9) rotate(-90) scale(0.87,1) translate(-30.5,-19)" fill="none" stroke="#111" stroke-width="1.3" stroke-linecap="round" stroke-linejoin="round"><path transform="translate(0,0)" d="M2,4L6,0V19"/><path transform="translate(12,0)" d="M9,2C7,0 0,-1 0,8V14A5,5 0 0 0 10,14A5,5 0 0 0 0,12"/><path transform="translate(25,0)" d="M5,9A4.5,4.5 0 1 1 5,0A4.5,4.5 0 1 1 5,9A5,5 0 1 1 5,19A5,5 0 1 1 5,9"/><path transform="translate(38,0)" d="M0,5A5,5 0 0 1 10,5V14A5,5 0 0 1 0,14Z"/><path transform="translate(51,0)" d="M0,5A5,5 0 0 1 10,5V14A5,5 0 0 1 0,14Z"/></g>
<polyline points="1111,1364.6 1111,2365.21" fill="none" stroke="#62ff1a" stroke-width="1.2"/>
<polyline points="1108.03,1361.63 1113.97,1367.57" fill="none" stroke="#62ff1a" stroke-width="3"/>
<polyline points="1108.03,1427.15 1113.97,1433.09" fill="none" stroke="#62ff1a" stroke-width="3"/>
<polyline points="1108.03,1718.99 1113.97,1724.93" fill="none" stroke="#62ff1a" stroke-width="3"/>
<polyline points="1108.03,1796.42 1113.97,1802.36" fill="none" stroke="#62ff1a" stroke-width="3"/>
<polyline points="1108.03,1921.49 1113.97,1927.43" fill="none" stroke="#62ff1a" stroke-width="3"/>
<polyline points="1108.03,2052.53 1113.97,2058.47" fill="none" stroke="#62ff1a" stroke-width="3"/>
<polyline points="1108.03,2326.5 1113.97,2332.44" fill="none" stroke="#62ff1a" stroke-width="3"/>
<polyline points="1108.03,2362.24 1113.97,2368.18" fill="none" stroke="#62ff1a" stroke-width="3"/>
<g transform="translate(1104.5,1397.36) rotate(-90) scale(0.87,1) translate(-23.5,-19)" fill="none" stroke="#111" stroke-width="1.3" stroke-linecap="round" stroke-linejoin="round"><path transform="translate(0,0)" d="M2,4L6,0V19"/><path transform="translate(12,0)" d="M2,4L6,0V19"/><path transform="translate(24,0)" d="M0,5A5,5 0 0 1 10,5V14A5,5 0 0 1 0,14Z"/><path transform="translate(37,0)" d="M0,5A5,5 0 0 1 10,5V14A5,5 0 0 1 0,14Z"/></g>
<g transform="translate(1104.5,1576.04) rotate(-90) scale(0.87,1) translate(-24.5,-19)" fill="none" stroke="#111" stroke-width="1.3" stroke-linecap="round" stroke-linejoin="round"><path transform="translate(0,0)" d="M8,19V0L0,13H10"/><path transform="translate(13,0)" d="M1,17C3,19 10,20 10,11V5A5,5 0 0 0 0,5A5,5 0 0 0 10,7"/><path transform="translate(26,0)" d="M0,5A5,5 0 0 1 10,5V14A5,5 0 0 1 0,14Z"/><path transform="translate(39,0)" d="M0,5A5,5 0 0 1 10,5V14A5,5 0 0 1 0,14Z"/></g>
<g transform="translate(1104.5,1760.67) rotate(-90) scale(0.87,1) translate(-24,-19)" fill="none" stroke="#111" stroke-width="1.3" stroke-linecap="round" stroke-linejoin="round"><path transform="translate(0,0)" d="M2,4L6,0V19"/><path transform="translate(12,0)" d="M0,4A5,4.5 0 1 1 5,9A5,5 0 1 1 0,15"/><path transform="translate(25,0)" d="M0,5A5,5 0 0 1 10,5V14A5,5 0 0 1 0,14Z"/><path transform="translate(38,0)" d="M0,5A5,5 0 0 1 10,5V14A5,5 0 0 1 0,14Z"/></g>
<g transform="translate(1104.5,1861.93) rotate(-90) scale(0.87,1) translate(-24,-19)" fill="none" stroke="#111" stroke-width="1.3" stroke-linecap="round" stroke-linejoin="round"><path transform="translate(0,0)" d="M0,5A5,5 0 0 1 10,5C10,10 0,13 0,19H10"/><path transform="translate(13,0)" d="M2,4L6,0V19"/><path transform="translate(25,0)" d="M0,5A5,5 0 0 1 10,5V14A5,5 0 0 1 0,14Z"/><path transform="translate(38,0)" d="M0,5A5,5 0 0 1 10,5V14A5,5 0 0 1 0,14Z"/></g>
<g transform="translate(1104.5,1989.98) rotate(-90) scale(0.87,1) translate(-24.5,-19)" fill="none" stroke="#111" stroke-width="1.3" stroke-linecap="round" stroke-linejoin="round"><path transform="translate(0,0)" d="M0,5A5,5 0 0 1 10,5C10,10 0,13 0,19H10"/><path transform="translate(13,0)" d="M0,5A5,5 0 0 1 10,5C10,10 0,13 0,19H10"/><path transform="translate(26,0)" d="M0,5A5,5 0 0 1 10,5V14A5,5 0 0 1 0,14Z"/><path transform="translate(39,0)" d="M0,5A5,5 0 0 1 10,5V14A5,5 0 0 1 0,14Z"/></g>
<g transform="translate(1104.5,2192.48) rotate(-90) scale(0.87,1) translate(-24.5,-19)" fill="none" stroke="#111" stroke-width="1.3" stroke-linecap="round" stroke-linejoin="round"><path transform="translate(0,0)" d="M8,19V0L0,13H10"/><path transform="translate(13,0)" d="M9,2C7,0 0,-1 0,8V14A5,5 0 0 0 10,14A5,5 0 0 0 0,12"/><path transform="translate(26,0)" d="M0,5A5,5 0 0 1 10,5V14A5,5 0 0 1 0,14Z"/><path transform="translate(39,0)" d="M0,5A5,5 0 0 1 10,5V14A5,5 0 0 1 0,14Z"/></g>
<g transform="translate(1104.5,2347.34) rotate(-90) scale(0.87,1) translate(-18,-19)" fill="none" stroke="#111" stroke-width="1.3" stroke-linecap="round" stroke-linejoin="round"><path transform="translate(0,0)" d="M9,2C7,0 0,-1 0,8V14A5,5 0 0 0 10,14A5,5 0 0 0 0,12"/><path transform="translate(13,0)" d="M0,5A5,5 0 0 1 10,5V14A5,5 0 0 1 0,14Z"/><path transform="translate(26,0)" d="M0,5A5,5 0 0 1 10,5V14A5,5 0 0 1 0,14Z"/></g>
<polyline points="2500,1244.9 2512.3,1251.2 2633.4,1251.2" fill="none" stroke="#f0c0f0" stroke-width="1"/>
<polyline points="2633.4,1251.2 2672,1233.3" fill="none" stroke="#c050e0" stroke-width="1.2"/>
<polyline points="2705.4,1200.3 3366.8,890.4 3386.1,933.5" fill="none" stroke="#c050e0" stroke-width="1.2"/>
<polygon points="2703.4,1199.5 2708.4,1210.2 2680.6,1223.1 2718.3,1304.1 2707.9,1308.9 2665.2,1217.3" fill="#6f7f88" stroke="#1a1a1a" stroke-width="1.1"/>
<polygon points="2929.7,1094.1 2967.6,1076.4 3035.4,1221.6 3063,1208.7 3068.3,1220.1 3029.9,1238 2961.9,1092.3 2934.8,1104.9" fill="#6f7f88" stroke="#1a1a1a" stroke-width="1.1"/>
<polygon points="3188.2,973 3198.8,968.1 3241.5,1059.8 3231,1064.7" fill="#6f7f88" stroke="#1a1a1a" stroke-width="1.1"/>
<polyline points="2833.5,1328.1 2845.8,1323.9" fill="none" stroke="#f0a0e8" stroke-width="1" stroke-dasharray="2,2"/>
<polyline points="2845.8,1323.9 2867.9,1313.4 2921.2,1427.4" fill="none" stroke="#c050e0" stroke-width="1.2"/>
<polygon points="2668.5,1402.9 2830,1319.3 2834.23,1328.36 2672.73,1411.96" fill="none" stroke="#62ff1a" stroke-width="1"/>
<polyline points="2669.91,1405.92 2831.41,1322.32" fill="none" stroke="#62ff1a" stroke-width="1"/>
<polyline points="2669.91,1405.92 2682.82,1406.74" fill="none" stroke="#62ff1a" stroke-width="0.8"/>
<polyline points="2680,1400.7 2692.91,1401.51" fill="none" stroke="#62ff1a" stroke-width="0.8"/>
<polyline points="2690.1,1395.47 2703.01,1396.29" fill="none" stroke="#62ff1a" stroke-width="0.8"/>
<polyline points="2700.19,1390.25 2713.1,1391.06" fill="none" stroke="#62ff1a" stroke-width="0.8"/>
<polyline points="2710.28,1385.02 2723.19,1385.84" fill="none" stroke="#62ff1a" stroke-width="0.8"/>
<polyline points="2720.38,1379.8 2733.29,1380.61" fill="none" stroke="#62ff1a" stroke-width="0.8"/>
<polyline points="2730.47,1374.57 2743.38,1375.39" fill="none" stroke="#62ff1a" stroke-width="0.8"/>
<polyline points="2740.56,1369.35 2753.48,1370.16" fill="none" stroke="#62ff1a" stroke-width="0.8"/>
<polyline points="2750.66,1364.12 2763.57,1364.94" fill="none" stroke="#62ff1a" stroke-width="0.8"/>
<polyline points="2760.75,1358.9 2773.66,1359.71" fill="none" stroke="#62ff1a" stroke-width="0.8"/>
<polyline points="2770.85,1353.67 2783.76,1354.49" fill="none" stroke="#62ff1a" stroke-width="0.8"/>
<polyline points="2780.94,1348.45 2793.85,1349.26" fill="none" stroke="#62ff1a" stroke-width="0.8"/>
<polyline points="2791.03,1343.22 2803.94,1344.04" fill="none" stroke="#62ff1a" stroke-width="0.8"/>
<polyline points="2801.13,1338 2814.04,1338.81" fill="none" stroke="#62ff1a" stroke-width="0.8"/>
<polyline points="2811.22,1332.77 2824.13,1333.59" fill="none" stroke="#62ff1a" stroke-width="0.8"/>
<polyline points="2821.31,1327.55 2834.23,1328.36" fill="none" stroke="#62ff1a" stroke-width="0.8"/>
<polyline points="2638.7,1366.7 2812.4,1293 2833.5,1318.6" fill="none" stroke="#62ff1a" stroke-width="1"/>
<polyline points="2510.5,1321.4 2632.7,1321.4" fill="none" stroke="#62ff1a" stroke-width="1.2"/>
<polyline points="2515.8,1306.3 2515.8,1346.7" fill="none" stroke="#62ff1a" stroke-width="1.2"/>
<polyline points="2512.83,1324.37 2518.77,1318.43" fill="none" stroke="#62ff1a" stroke-width="3"/>
<polyline points="2570.2,1306.3 2570.2,1346.7" fill="none" stroke="#62ff1a" stroke-width="1.2"/>
<polyline points="2567.23,1324.37 2573.17,1318.43" fill="none" stroke="#62ff1a" stroke-width="3"/>
<polyline points="2627.1,1306.3 2627.1,1346.7" fill="none" stroke="#62ff1a" stroke-width="1.2"/>
<polyline points="2624.13,1324.37 2630.07,1318.43" fill="none" stroke="#62ff1a" stroke-width="3"/>
<g transform="translate(2543.9,1314.8) rotate(0) scale(0.87,1) translate(-18,-19)" fill="none" stroke="#111" stroke-width="1.3" stroke-linecap="round" stroke-linejoin="round"><path transform="translate(0,0)" d="M1,17C3,19 10,20 10,11V5A5,5 0 0 0 0,5A5,5 0 0 0 10,7"/><path transform="translate(13,0)" d="M0,5A5,5 0 0 1 10,5V14A5,5 0 0 1 0,14Z"/><path transform="translate(26,0)" d="M0,5A5,5 0 0 1 10,5V14A5,5 0 0 1 0,14Z"/></g>
<g transform="translate(2598.3,1314.8) rotate(0) scale(0.87,1) translate(-17.5,-19)" fill="none" stroke="#111" stroke-width="1.3" stroke-linecap="round" stroke-linejoin="round"><path transform="translate(0,0)" d="M1,17C3,19 10,20 10,11V5A5,5 0 0 0 0,5A5,5 0 0 0 10,7"/><path transform="translate(13,0)" d="M9,0H1L0,8C3,6 10,6 10,13A5,5.5 0 0 1 0,15"/><path transform="translate(26,0)" d="M2,4L6,0V19"/></g>
<polyline points="2959.9,1312.7 3024.1,1312.7" fill="none" stroke="#62ff1a" stroke-width="1.2"/>
<polyline points="2959.9,1312.7 2976.7,1329.9 2994.3,1312.7" fill="none" stroke="#62ff1a" stroke-width="1.2"/>
<circle cx="2481.6" cy="994" r="23.7" fill="none" stroke="#62ff1a" stroke-width="1.2"/>
<text transform="translate(2481.6,1007.74) rotate(0) scale(0.354,1)" font-size="41" fill="#111" text-anchor="middle" font-family="Liberation Serif" font-weight="bold">8-B1</text>
<circle cx="2551.6" cy="959.3" r="23.7" fill="none" stroke="#62ff1a" stroke-width="1.2"/>
<text transform="translate(2551.6,973.035) rotate(0) scale(0.354,1)" font-size="41" fill="#111" text-anchor="middle" font-family="Liberation Serif" font-weight="bold">8-B2</text>
<circle cx="2680.6" cy="899.3" r="23.7" fill="none" stroke="#62ff1a" stroke-width="1.2"/>
<text transform="translate(2680.6,913.035) rotate(0) scale(0.354,1)" font-size="41" fill="#111" text-anchor="middle" font-family="Liberation Serif" font-weight="bold">8-B3</text>
<circle cx="2842.3" cy="824" r="23.7" fill="none" stroke="#62ff1a" stroke-width="1.2"/>
<text transform="translate(2842.3,837.735) rotate(0) scale(0.354,1)" font-size="41" fill="#111" text-anchor="middle" font-family="Liberation Serif" font-weight="bold">8-B4</text>
<circle cx="3075.6" cy="715" r="23.7" fill="none" stroke="#62ff1a" stroke-width="1.2"/>
<text transform="translate(3075.6,728.735) rotate(0) scale(0.354,1)" font-size="41" fill="#111" text-anchor="middle" font-family="Liberation Serif" font-weight="bold">8-B6</text>
<circle cx="3220.4" cy="647.6" r="23.7" fill="none" stroke="#62ff1a" stroke-width="1.2"/>
<text transform="translate(3220.4,661.335) rotate(0) scale(0.354,1)" font-size="41" fill="#111" text-anchor="middle" font-family="Liberation Serif" font-weight="bold">8-B7</text>
<circle cx="3296.2" cy="611.8" r="23.7" fill="none" stroke="#62ff1a" stroke-width="1.2"/>
<text transform="translate(3296.2,625.535) rotate(0) scale(0.354,1)" font-size="41" fill="#111" text-anchor="middle" font-family="Liberation Serif" font-weight="bold">8-B8</text>
<polyline points="2483,1052.5 3298.09,672.416" fill="none" stroke="#62ff1a" stroke-width="1.2"/>
<polyline points="2481.56,1056.45 2484.44,1048.55" fill="none" stroke="#62ff1a" stroke-width="3"/>
<polyline points="2573.33,1013.66 2576.2,1005.76" fill="none" stroke="#62ff1a" stroke-width="3"/>
<polyline points="3296.66,676.362 3299.53,668.469" fill="none" stroke="#62ff1a" stroke-width="3"/>
<g transform="translate(2526.14,1025.21) rotate(-25) scale(0.87,1) translate(-24,-19)" fill="none" stroke="#111" stroke-width="1.3" stroke-linecap="round" stroke-linejoin="round"><path transform="translate(0,0)" d="M2,4L6,0V19"/><path transform="translate(12,0)" d="M0,0H10L3,19"/><path transform="translate(25,0)" d="M0,5A5,5 0 0 1 10,5V14A5,5 0 0 1 0,14Z"/><path transform="translate(38,0)" d="M0,5A5,5 0 0 1 10,5V14A5,5 0 0 1 0,14Z"/></g>
<g transform="translate(2933.68,835.171) rotate(-25) scale(0.87,1) translate(-30.5,-19)" fill="none" stroke="#111" stroke-width="1.3" stroke-linecap="round" stroke-linejoin="round"><path transform="translate(0,0)" d="M2,4L6,0V19"/><path transform="translate(12,0)" d="M0,4A5,4.5 0 1 1 5,9A5,5 0 1 1 0,15"/><path transform="translate(25,0)" d="M8,19V0L0,13H10"/><path transform="translate(38,0)" d="M0,5A5,5 0 0 1 10,5V14A5,5 0 0 1 0,14Z"/><path transform="translate(51,0)" d="M0,5A5,5 0 0 1 10,5V14A5,5 0 0 1 0,14Z"/></g>
<polyline points="2498.2,1085.3 3313.29,705.216" fill="none" stroke="#62ff1a" stroke-width="1.2"/>
<polyline points="2496.76,1089.25 2499.64,1081.35" fill="none" stroke="#62ff1a" stroke-width="3"/>
<polyline points="2588.53,1046.46 2591.4,1038.56" fill="none" stroke="#62ff1a" stroke-width="3"/>
<polyline points="2718.08,986.045 2720.95,978.152" fill="none" stroke="#62ff1a" stroke-width="3"/>
<polyline points="2880.02,910.532 2882.89,902.638" fill="none" stroke="#62ff1a" stroke-width="3"/>
<polyline points="3112.13,802.296 3115,794.402" fill="none" stroke="#62ff1a" stroke-width="3"/>
<polyline points="3311.86,709.162 3314.73,701.269" fill="none" stroke="#62ff1a" stroke-width="3"/>
<g transform="translate(2541.34,1058.01) rotate(-25) scale(0.87,1) translate(-24,-19)" fill="none" stroke="#111" stroke-width="1.3" stroke-linecap="round" stroke-linejoin="round"><path transform="translate(0,0)" d="M2,4L6,0V19"/><path transform="translate(12,0)" d="M0,0H10L3,19"/><path transform="translate(25,0)" d="M0,5A5,5 0 0 1 10,5V14A5,5 0 0 1 0,14Z"/><path transform="translate(38,0)" d="M0,5A5,5 0 0 1 10,5V14A5,5 0 0 1 0,14Z"/></g>
<g transform="translate(2651.99,1006.41) rotate(-25) scale(0.87,1) translate(-24.5,-19)" fill="none" stroke="#111" stroke-width="1.3" stroke-linecap="round" stroke-linejoin="round"><path transform="translate(0,0)" d="M0,5A5,5 0 0 1 10,5C10,10 0,13 0,19H10"/><path transform="translate(13,0)" d="M8,19V0L0,13H10"/><path transform="translate(26,0)" d="M0,5A5,5 0 0 1 10,5V14A5,5 0 0 1 0,14Z"/><path transform="translate(39,0)" d="M0,5A5,5 0 0 1 10,5V14A5,5 0 0 1 0,14Z"/></g>
<g transform="translate(2797.74,938.451) rotate(-25) scale(0.87,1) translate(-24.5,-19)" fill="none" stroke="#111" stroke-width="1.3" stroke-linecap="round" stroke-linejoin="round"><path transform="translate(0,0)" d="M0,4A5,4.5 0 1 1 5,9A5,5 0 1 1 0,15"/><path transform="translate(13,0)" d="M0,5A5,5 0 0 1 10,5V14A5,5 0 0 1 0,14Z"/><path transform="translate(26,0)" d="M0,5A5,5 0 0 1 10,5V14A5,5 0 0 1 0,14Z"/><path transform="translate(39,0)" d="M0,5A5,5 0 0 1 10,5V14A5,5 0 0 1 0,14Z"/></g>
<g transform="translate(2994.77,846.576) rotate(-25) scale(0.87,1) translate(-24.5,-19)" fill="none" stroke="#111" stroke-width="1.3" stroke-linecap="round" stroke-linejoin="round"><path transform="translate(0,0)" d="M8,19V0L0,13H10"/><path transform="translate(13,0)" d="M0,4A5,4.5 0 1 1 5,9A5,5 0 1 1 0,15"/><path transform="translate(26,0)" d="M0,5A5,5 0 0 1 10,5V14A5,5 0 0 1 0,14Z"/><path transform="translate(39,0)" d="M0,5A5,5 0 0 1 10,5V14A5,5 0 0 1 0,14Z"/></g>
<g transform="translate(3210.68,745.891) rotate(-25) scale(0.87,1) translate(-24.5,-19)" fill="none" stroke="#111" stroke-width="1.3" stroke-linecap="round" stroke-linejoin="round"><path transform="translate(0,0)" d="M0,4A5,4.5 0 1 1 5,9A5,5 0 1 1 0,15"/><path transform="translate(13,0)" d="M0,0H10L3,19"/><path transform="translate(26,0)" d="M0,5A5,5 0 0 1 10,5V14A5,5 0 0 1 0,14Z"/><path transform="translate(39,0)" d="M0,5A5,5 0 0 1 10,5V14A5,5 0 0 1 0,14Z"/></g>
<polyline points="2471.1,1016.1 2468.5,1026.7 2483.2,1050.4 2543.4,1181.4" fill="none" stroke="#62ff1a" stroke-width="1.2"/>
<polyline points="2561.6,981.9 2635.1,1138.9" fill="none" stroke="#62ff1a" stroke-width="1.2"/>
<polyline points="2691.2,921.4 2764.3,1078.2" fill="none" stroke="#62ff1a" stroke-width="1.2"/>
<polyline points="2852.8,846.6 2926.5,1003" fill="none" stroke="#62ff1a" stroke-width="1.2"/>
<polyline points="3086.1,737.1 3158.2,895" fill="none" stroke="#62ff1a" stroke-width="1.2"/>
<polyline points="3244.1,653.9 3253,660.7 3325.7,816.1" fill="none" stroke="#62ff1a" stroke-width="1.2"/>
<polyline points="3287.2,634.4 3284.6,644.9 3358.3,801.3" fill="none" stroke="#62ff1a" stroke-width="1.2"/>
<polygon points="3375.6,938 3386.1,933.1 3439.2,1047 3401.9,1064.5 3396.8,1053.7 3423.7,1041.1" fill="#6f7f88" stroke="#1a1a1a" stroke-width="1.1"/>
<polyline points="3439.4,1047.3 3488.9,1153.6" fill="none" stroke="#c050e0" stroke-width="1.2"/>
<polygon points="3479,1159.3 3516.5,1141.8 3589.1,1297.7 3578.5,1302.7 3510.7,1157.3 3483.9,1169.9" fill="#6f7f88" stroke="#1a1a1a" stroke-width="1.1"/>
<polyline points="3589.1,1297.5 3609.8,1341.8 3468.4,1407.7" fill="none" stroke="#c050e0" stroke-width="1.2"/>
<circle cx="3685.3" cy="714.5" r="23.7" fill="none" stroke="#62ff1a" stroke-width="1.2"/>
<text transform="translate(3685.3,728.235) rotate(0) scale(0.318,1)" font-size="41" fill="#111" text-anchor="middle" font-family="Liberation Serif" font-weight="bold">8-BD</text>
<circle cx="3765.9" cy="888.3" r="23.7" fill="none" stroke="#62ff1a" stroke-width="1.2"/>
<text transform="translate(3765.9,902.035) rotate(0) scale(0.318,1)" font-size="41" fill="#111" text-anchor="middle" font-family="Liberation Serif" font-weight="bold">8-BC</text>
<circle cx="3880" cy="1136.1" r="23.7" fill="none" stroke="#62ff1a" stroke-width="1.2"/>
<text transform="translate(3880,1149.83) rotate(0) scale(0.326,1)" font-size="41" fill="#111" text-anchor="middle" font-family="Liberation Serif" font-weight="bold">8-BB</text>
<polyline points="3635.8,764.6 3849.75,1223.43" fill="none" stroke="#62ff1a" stroke-width="1.2"/>
<polyline points="3631.85,763.164 3639.75,766.036" fill="none" stroke="#62ff1a" stroke-width="3"/>
<polyline points="3845.81,1221.99 3853.7,1224.86" fill="none" stroke="#62ff1a" stroke-width="3"/>
<g transform="translate(3748.67,991.267) rotate(65) scale(0.87,1) translate(-24.5,-19)" fill="none" stroke="#111" stroke-width="1.3" stroke-linecap="round" stroke-linejoin="round"><path transform="translate(0,0)" d="M5,9A4.5,4.5 0 1 1 5,0A4.5,4.5 0 1 1 5,9A5,5 0 1 1 5,19A5,5 0 1 1 5,9"/><path transform="translate(13,0)" d="M9,0H1L0,8C3,6 10,6 10,13A5,5.5 0 0 1 0,15"/><path transform="translate(26,0)" d="M0,5A5,5 0 0 1 10,5V14A5,5 0 0 1 0,14Z"/><path transform="translate(39,0)" d="M0,5A5,5 0 0 1 10,5V14A5,5 0 0 1 0,14Z"/></g>
<polyline points="3593.5,783.8 3807.45,1242.63" fill="none" stroke="#62ff1a" stroke-width="1.2"/>
<polyline points="3589.55,782.364 3597.45,785.236" fill="none" stroke="#62ff1a" stroke-width="3"/>
<polyline points="3660.03,933.507 3667.93,936.38" fill="none" stroke="#62ff1a" stroke-width="3"/>
<polyline points="3785.89,1203.41 3793.78,1206.28" fill="none" stroke="#62ff1a" stroke-width="3"/>
<polyline points="3803.51,1241.19 3811.4,1244.06" fill="none" stroke="#62ff1a" stroke-width="3"/>
<g transform="translate(3634.63,856.625) rotate(65) scale(0.87,1) translate(-24.5,-19)" fill="none" stroke="#111" stroke-width="1.3" stroke-linecap="round" stroke-linejoin="round"><path transform="translate(0,0)" d="M0,5A5,5 0 0 1 10,5C10,10 0,13 0,19H10"/><path transform="translate(13,0)" d="M5,9A4.5,4.5 0 1 1 5,0A4.5,4.5 0 1 1 5,9A5,5 0 1 1 5,19A5,5 0 1 1 5,9"/><path transform="translate(26,0)" d="M0,5A5,5 0 0 1 10,5V14A5,5 0 0 1 0,14Z"/><path transform="translate(39,0)" d="M0,5A5,5 0 0 1 10,5V14A5,5 0 0 1 0,14Z"/></g>
<g transform="translate(3732.8,1067.15) rotate(65) scale(0.87,1) translate(-24.5,-19)" fill="none" stroke="#111" stroke-width="1.3" stroke-linecap="round" stroke-linejoin="round"><path transform="translate(0,0)" d="M9,0H1L0,8C3,6 10,6 10,13A5,5.5 0 0 1 0,15"/><path transform="translate(13,0)" d="M0,5A5,5 0 0 1 10,5V14A5,5 0 0 1 0,14Z"/><path transform="translate(26,0)" d="M0,5A5,5 0 0 1 10,5V14A5,5 0 0 1 0,14Z"/><path transform="translate(39,0)" d="M0,5A5,5 0 0 1 10,5V14A5,5 0 0 1 0,14Z"/></g>
<g transform="translate(3804.54,1220.99) rotate(65) scale(0.87,1) translate(-18,-19)" fill="none" stroke="#111" stroke-width="1.3" stroke-linecap="round" stroke-linejoin="round"><path transform="translate(0,0)" d="M0,0H10L3,19"/><path transform="translate(13,0)" d="M0,5A5,5 0 0 1 10,5V14A5,5 0 0 1 0,14Z"/><path transform="translate(26,0)" d="M0,5A5,5 0 0 1 10,5V14A5,5 0 0 1 0,14Z"/></g>
<polyline points="3675.3,738.7 3673.7,746.6 3458.3,846.5" fill="none" stroke="#62ff1a" stroke-width="1.2"/>
<polyline points="3743.1,898.4 3528.3,998.5" fill="none" stroke="#62ff1a" stroke-width="1.2"/>
<polyline points="3872.3,1158.9 3867,1168.7 3653.9,1268.4" fill="none" stroke="#62ff1a" stroke-width="1.2"/>
<polygon points="2922.6,1431.8 2934.1,1426.4 2999.9,1567.5 3029.1,1553.9 3034.1,1564.6 2993.4,1583.6" fill="#6f7f88" stroke="#1a1a1a" stroke-width="1.1"/>
<polyline points="3033.9,1564.4 3195.1,1489.2" fill="none" stroke="#c050e0" stroke-width="1.2"/>
<polygon points="3177,1385.6 3188.2,1380.4 3230.9,1472 3195.6,1488.5 3190.6,1477.6 3214.6,1466.4" fill="#6f7f88" stroke="#1a1a1a" stroke-width="1.1"/>
<polyline points="3211.8,1428.5 3366.8,1356.2" fill="none" stroke="#c050e0" stroke-width="1.2"/>
<polygon points="3362.4,1345.1 3373.1,1340.1 3410.8,1421 3464.9,1395.8 3470,1406.7 3405.2,1436.9" fill="#6f7f88" stroke="#1a1a1a" stroke-width="1.1"/>
<polyline points="3469.6,1406.8 3609.6,1341.5 3589.4,1298.3" fill="none" stroke="#c050e0" stroke-width="1.2"/>
<circle cx="3162.2" cy="1874" r="23.7" fill="none" stroke="#62ff1a" stroke-width="1.2"/>
<text transform="translate(3162.2,1887.73) rotate(0) scale(0.354,1)" font-size="41" fill="#111" text-anchor="middle" font-family="Liberation Serif" font-weight="bold">8-B3</text>
<circle cx="3366.8" cy="1778.2" r="23.7" fill="none" stroke="#62ff1a" stroke-width="1.2"/>
<text transform="translate(3366.8,1791.93) rotate(0) scale(0.354,1)" font-size="41" fill="#111" text-anchor="middle" font-family="Liberation Serif" font-weight="bold">7-B5</text>
<circle cx="3533.9" cy="1700.3" r="23.7" fill="none" stroke="#62ff1a" stroke-width="1.2"/>
<text transform="translate(3533.9,1714.03) rotate(0) scale(0.354,1)" font-size="41" fill="#111" text-anchor="middle" font-family="Liberation Serif" font-weight="bold">8-B6</text>
<circle cx="3733.7" cy="1607.3" r="23.7" fill="none" stroke="#62ff1a" stroke-width="1.2"/>
<text transform="translate(3733.7,1621.03) rotate(0) scale(0.354,1)" font-size="41" fill="#111" text-anchor="middle" font-family="Liberation Serif" font-weight="bold">8-B8</text>
<polyline points="3060.4,1712.2 3129.9,1861.4 3139.7,1866" fill="none" stroke="#62ff1a" stroke-width="1.2"/>
<polyline points="3287.1,1606.9 3356.3,1757.2" fill="none" stroke="#62ff1a" stroke-width="1.2"/>
<polyline points="3453.9,1529 3523.7,1678.9" fill="none" stroke="#62ff1a" stroke-width="1.2"/>
<polyline points="3652.9,1432.4 3723.8,1585.1" fill="none" stroke="#62ff1a" stroke-width="1.2"/>
<polyline points="3099.7,1797.5 3693.48,1520.62" fill="none" stroke="#62ff1a" stroke-width="1.2"/>
<polyline points="3098.26,1801.45 3101.14,1793.55" fill="none" stroke="#62ff1a" stroke-width="3"/>
<polyline points="3324.98,1695.73 3327.85,1687.83" fill="none" stroke="#62ff1a" stroke-width="3"/>
<polyline points="3492.32,1617.7 3495.19,1609.8" fill="none" stroke="#62ff1a" stroke-width="3"/>
<polyline points="3692.04,1524.56 3694.91,1516.67" fill="none" stroke="#62ff1a" stroke-width="3"/>
<g transform="translate(3210.31,1738.75) rotate(-25) scale(0.87,1) translate(-24.5,-19)" fill="none" stroke="#111" stroke-width="1.3" stroke-linecap="round" stroke-linejoin="round"><path transform="translate(0,0)" d="M8,19V0L0,13H10"/><path transform="translate(13,0)" d="M0,5A5,5 0 0 1 10,5C10,10 0,13 0,19H10"/><path transform="translate(26,0)" d="M0,5A5,5 0 0 1 10,5V14A5,5 0 0 1 0,14Z"/><path transform="translate(39,0)" d="M0,5A5,5 0 0 1 10,5V14A5,5 0 0 1 0,14Z"/></g>
<g transform="translate(3407.34,1646.87) rotate(-25) scale(0.87,1) translate(-24,-19)" fill="none" stroke="#111" stroke-width="1.3" stroke-linecap="round" stroke-linejoin="round"><path transform="translate(0,0)" d="M0,4A5,4.5 0 1 1 5,9A5,5 0 1 1 0,15"/><path transform="translate(13,0)" d="M2,4L6,0V19"/><path transform="translate(25,0)" d="M0,5A5,5 0 0 1 10,5V14A5,5 0 0 1 0,14Z"/><path transform="translate(38,0)" d="M0,5A5,5 0 0 1 10,5V14A5,5 0 0 1 0,14Z"/></g>
<g transform="translate(3590.87,1561.29) rotate(-25) scale(0.87,1) translate(-24.5,-19)" fill="none" stroke="#111" stroke-width="1.3" stroke-linecap="round" stroke-linejoin="round"><path transform="translate(0,0)" d="M0,4A5,4.5 0 1 1 5,9A5,5 0 1 1 0,15"/><path transform="translate(13,0)" d="M0,0H10L3,19"/><path transform="translate(26,0)" d="M0,5A5,5 0 0 1 10,5V14A5,5 0 0 1 0,14Z"/><path transform="translate(39,0)" d="M0,5A5,5 0 0 1 10,5V14A5,5 0 0 1 0,14Z"/></g>
<polyline points="3118.6,1837.2 3712.38,1560.32" fill="none" stroke="#62ff1a" stroke-width="1.2"/>
<polyline points="3117.16,1841.15 3120.04,1833.25" fill="none" stroke="#62ff1a" stroke-width="3"/>
<polyline points="3710.94,1564.26 3713.81,1556.37" fill="none" stroke="#62ff1a" stroke-width="3"/>
<g transform="translate(3412.74,1692.87) rotate(-25) scale(0.87,1) translate(-30,-19)" fill="none" stroke="#111" stroke-width="1.3" stroke-linecap="round" stroke-linejoin="round"><path transform="translate(0,0)" d="M2,4L6,0V19"/><path transform="translate(12,0)" d="M2,4L6,0V19"/><path transform="translate(24,0)" d="M0,5A5,5 0 0 1 10,5V14A5,5 0 0 1 0,14Z"/><path transform="translate(37,0)" d="M0,5A5,5 0 0 1 10,5V14A5,5 0 0 1 0,14Z"/><path transform="translate(50,0)" d="M0,5A5,5 0 0 1 10,5V14A5,5 0 0 1 0,14Z"/></g>
<polygon points="2253.2,1358.9 2307.4,1358.9 2307.4,1371.3 2261.3,1371.3 2236.8,1423.4 2236.8,1516.1 2225,1516.1 2225,1420.3" fill="#6f7f88" stroke="#1a1a1a" stroke-width="1.1"/>
<polygon points="2385.5,1436.6 2397.9,1436.6 2397.9,1537.9 2385.5,1537.9" fill="#6f7f88" stroke="#1a1a1a" stroke-width="1.1"/>
<polygon points="2617.1,1358.9 2632.9,1358.9 2652.6,1400.5 2667.9,1393.7 2671.6,1402.4 2656.6,1409.5 2668.9,1437.1 2564.5,1437.1 2564.5,1424.7 2650,1424.7 2624.2,1371.3 2617.1,1371.3" fill="#6f7f88" stroke="#1a1a1a" stroke-width="1.1"/>
<polygon points="2510.5,1545.8 2522.4,1545.8 2522.4,1576.1 2653.9,1576.1 2653.9,1546.6 2665.8,1546.6 2665.8,1588.4 2510.5,1588.4" fill="#6f7f88" stroke="#1a1a1a" stroke-width="1.1"/>
<polyline points="2236.8,1451.1 2307.9,1451.1" fill="none" stroke="#ff6a2a" stroke-width="1"/>
<polyline points="2236.8,1466.5 2307.9,1466.5" fill="none" stroke="#ff6a2a" stroke-width="1"/>
<polyline points="2236.8,1481.9 2307.9,1481.9" fill="none" stroke="#ff6a2a" stroke-width="1"/>
<polyline points="2236.8,1497.3 2307.9,1497.3" fill="none" stroke="#ff6a2a" stroke-width="1"/>
<polyline points="2236.8,1512.7 2307.9,1512.7" fill="none" stroke="#ff6a2a" stroke-width="1"/>
<polyline points="2236.8,1528.2 2307.9,1528.2" fill="none" stroke="#ff6a2a" stroke-width="1"/>
<polyline points="2236.8,1543.6 2307.9,1543.6" fill="none" stroke="#ff6a2a" stroke-width="1"/>
<polyline points="2236.8,1620.7 2307.9,1620.7" fill="none" stroke="#ff6a2a" stroke-width="1"/>
<polyline points="2236.8,1636.1 2307.9,1636.1" fill="none" stroke="#ff6a2a" stroke-width="1"/>
<polyline points="2236.8,1651.5 2307.9,1651.5" fill="none" stroke="#ff6a2a" stroke-width="1"/>
<polyline points="2236.8,1666.9 2307.9,1666.9" fill="none" stroke="#ff6a2a" stroke-width="1"/>
<polyline points="2236.8,1682.4 2307.9,1682.4" fill="none" stroke="#ff6a2a" stroke-width="1"/>
<polyline points="2236.8,1697.8 2307.9,1697.8" fill="none" stroke="#ff6a2a" stroke-width="1"/>
<polyline points="2236.8,1559.7 2301.3,1559.7" fill="none" stroke="#ff6a2a" stroke-width="1"/>
<polyline points="2236.8,1575.3 2275.8,1575.3" fill="none" stroke="#ff6a2a" stroke-width="1"/>
<polyline points="2236.8,1590.5 2250,1590.5" fill="none" stroke="#ff6a2a" stroke-width="1"/>
<polyline points="2293.4,1575.3 2307.9,1575.3" fill="none" stroke="#ff6a2a" stroke-width="1"/>
<polyline points="2267.1,1590.5 2307.9,1590.5" fill="none" stroke="#ff6a2a" stroke-width="1"/>
<polyline points="2240.8,1605.5 2307.9,1605.5" fill="none" stroke="#ff6a2a" stroke-width="1"/>
<polyline points="2307.9,1371.3 2307.9,1556.3" fill="none" stroke="#ff6a2a" stroke-width="1"/>
<polyline points="2307.9,1565.5 2307.9,1713.9" fill="none" stroke="#ff6a2a" stroke-width="1"/>
<polyline points="2236.8,1516.1 2236.8,1713.9" fill="none" stroke="#ff6a2a" stroke-width="1"/>
<polyline points="2236.8,1598.4 2269.7,1579.2 2271.6,1586.6 2278.9,1574.7 2307.9,1556.3" fill="none" stroke="#ff6a2a" stroke-width="1"/>
<polyline points="2236.8,1606.3 2271.6,1586.6" fill="none" stroke="#ff6a2a" stroke-width="1"/>
<polyline points="2278.9,1582.1 2307.9,1565.5" fill="none" stroke="#ff6a2a" stroke-width="1"/>
<polyline points="2269.7,1579.2 2278.9,1582.1 2278.9,1574.7" fill="none" stroke="#ff6a2a" stroke-width="1"/>
<polyline points="2323.7,1372.1 2323.7,1450.5" fill="none" stroke="#ff6a2a" stroke-width="1"/>
<polyline points="2339.5,1372.1 2339.5,1450.5" fill="none" stroke="#ff6a2a" stroke-width="1"/>
<polyline points="2355.3,1372.1 2355.3,1450.5" fill="none" stroke="#ff6a2a" stroke-width="1"/>
<polyline points="2314.5,1604.2 2346.1,1585.3 2344.7,1578.7 2355.8,1586.6 2354.7,1580 2385,1562.9" fill="none" stroke="#ff6a2a" stroke-width="1"/>
<polyline points="2314.5,1604.2 2314.5,1713.9" fill="none" stroke="#ff6a2a" stroke-width="1"/>
<polyline points="2385,1562.9 2385,1713.9" fill="none" stroke="#ff6a2a" stroke-width="1"/>
<polyline points="2314.5,1605.5 2385,1605.5" fill="none" stroke="#ff6a2a" stroke-width="1"/>
<polyline points="2314.5,1620.9 2385,1620.9" fill="none" stroke="#ff6a2a" stroke-width="1"/>
<polyline points="2314.5,1636.4 2385,1636.4" fill="none" stroke="#ff6a2a" stroke-width="1"/>
<polyline points="2314.5,1651.8 2385,1651.8" fill="none" stroke="#ff6a2a" stroke-width="1"/>
<polyline points="2314.5,1667.2 2385,1667.2" fill="none" stroke="#ff6a2a" stroke-width="1"/>
<polyline points="2314.5,1682.6 2385,1682.6" fill="none" stroke="#ff6a2a" stroke-width="1"/>
<polyline points="2314.5,1698.1 2385,1698.1" fill="none" stroke="#ff6a2a" stroke-width="1"/>
<polyline points="2314.5,1713.5 2385,1713.5" fill="none" stroke="#ff6a2a" stroke-width="1"/>
<polyline points="2337.4,1590.5 2385,1590.5" fill="none" stroke="#ff6a2a" stroke-width="1"/>
<polyline points="2363.2,1575.3 2385,1575.3" fill="none" stroke="#ff6a2a" stroke-width="1"/>
<polygon points="2535.5,1448.4 2614.5,1448.4 2614.5,1564.7 2535.5,1564.7" fill="none" stroke="#ff6a2a" stroke-width="1.2"/>
<polyline points="2535.5,1448.4 2614.5,1564.7" fill="none" stroke="#ff6a2a" stroke-width="1"/>
<polyline points="2614.5,1448.4 2535.5,1564.7" fill="none" stroke="#ff6a2a" stroke-width="1"/>
<polygon points="2627.6,1471.6 2640.8,1471.6 2640.8,1541.3 2627.6,1541.3" fill="none" stroke="#ff6a2a" stroke-width="1.2"/>
<polygon points="2535.5,1600.5 2614.5,1600.5 2614.5,1704.7 2535.5,1704.7" fill="none" stroke="#ff6a2a" stroke-width="1.2"/>
<polyline points="2535.5,1600.5 2614.5,1704.7" fill="none" stroke="#ff6a2a" stroke-width="1"/>
<polyline points="2614.5,1600.5 2535.5,1704.7" fill="none" stroke="#ff6a2a" stroke-width="1"/>
<polygon points="2627.6,1620.8 2640.8,1620.8 2640.8,1684.5 2627.6,1684.5" fill="none" stroke="#ff6a2a" stroke-width="1.2"/>
<polyline points="2523.2,1467.6 2523.2,1502.9" fill="none" stroke="#62ff1a" stroke-width="1"/>
<polyline points="2525.8,1465.5 2525.8,1505" fill="none" stroke="#62ff1a" stroke-width="1.5"/>
<polyline points="2523.2,1511.1 2523.2,1546.3" fill="none" stroke="#62ff1a" stroke-width="1"/>
<polyline points="2525.8,1508.9 2525.8,1548.4" fill="none" stroke="#62ff1a" stroke-width="1.5"/>
<polyline points="2523.2,1613.2 2523.2,1647.9" fill="none" stroke="#62ff1a" stroke-width="1"/>
<polyline points="2525.8,1611.1 2525.8,1650" fill="none" stroke="#62ff1a" stroke-width="1.5"/>
<polyline points="2523.2,1656.6 2523.2,1691.3" fill="none" stroke="#62ff1a" stroke-width="1"/>
<polyline points="2525.8,1654.5 2525.8,1693.4" fill="none" stroke="#62ff1a" stroke-width="1.5"/>
<polyline points="2431.6,1240.5 2431.6,1722.4" fill="none" stroke="#62ff1a" stroke-width="1.2"/>
<polyline points="2471.6,1424.7 2471.6,1722.4" fill="none" stroke="#62ff1a" stroke-width="1.2"/>
<polyline points="2461.1,1240.5 2461.1,1711.6" fill="none" stroke="#74848f" stroke-width="1.4" stroke-dasharray="18,8"/>
<polyline points="2428.63,1362.03 2434.57,1367.97" fill="none" stroke="#62ff1a" stroke-width="3"/>
<polyline points="2415.8,1365 2497.4,1365" fill="none" stroke="#62ff1a" stroke-width="1.2"/>
<polyline points="2428.63,1428.33 2434.57,1434.27" fill="none" stroke="#62ff1a" stroke-width="3"/>
<polyline points="2415.8,1431.3 2497.4,1431.3" fill="none" stroke="#62ff1a" stroke-width="1.2"/>
<polyline points="2428.63,1579.63 2434.57,1585.57" fill="none" stroke="#62ff1a" stroke-width="3"/>
<polyline points="2415.8,1582.6 2497.4,1582.6" fill="none" stroke="#62ff1a" stroke-width="1.2"/>
<polyline points="2428.63,1719.43 2434.57,1725.37" fill="none" stroke="#62ff1a" stroke-width="3"/>
<polyline points="2415.8,1722.4 2497.4,1722.4" fill="none" stroke="#62ff1a" stroke-width="1.2"/>
<polyline points="2468.63,1428.33 2474.57,1434.27" fill="none" stroke="#62ff1a" stroke-width="3"/>
<polyline points="2456.6,1431.3 2497.4,1431.3" fill="none" stroke="#62ff1a" stroke-width="1.2"/>
<polyline points="2468.63,1465.23 2474.57,1471.17" fill="none" stroke="#62ff1a" stroke-width="3"/>
<polyline points="2456.6,1468.2 2497.4,1468.2" fill="none" stroke="#62ff1a" stroke-width="1.2"/>
<polyline points="2468.63,1542.83 2474.57,1548.77" fill="none" stroke="#62ff1a" stroke-width="3"/>
<polyline points="2456.6,1545.8 2478.9,1545.8" fill="none" stroke="#62ff1a" stroke-width="1.2"/>
<polyline points="2468.63,1579.63 2474.57,1585.57" fill="none" stroke="#62ff1a" stroke-width="3"/>
<polyline points="2456.6,1582.6 2497.4,1582.6" fill="none" stroke="#62ff1a" stroke-width="1.2"/>
<polyline points="2468.63,1610.73 2474.57,1616.67" fill="none" stroke="#62ff1a" stroke-width="3"/>
<polyline points="2456.6,1613.7 2497.4,1613.7" fill="none" stroke="#62ff1a" stroke-width="1.2"/>
<polyline points="2468.63,1688.33 2474.57,1694.27" fill="none" stroke="#62ff1a" stroke-width="3"/>
<polyline points="2456.6,1691.3 2497.4,1691.3" fill="none" stroke="#62ff1a" stroke-width="1.2"/>
<polyline points="2468.63,1719.43 2474.57,1725.37" fill="none" stroke="#62ff1a" stroke-width="3"/>
<polyline points="2456.6,1722.4 2497.4,1722.4" fill="none" stroke="#62ff1a" stroke-width="1.2"/>
<g transform="translate(2427,1311.6) rotate(-90) scale(0.907895,1.31579) translate(-24,-19)" fill="none" stroke="#111" stroke-width="0.988" stroke-linecap="round" stroke-linejoin="round"><path transform="translate(0,0)" d="M2,4L6,0V19"/><path transform="translate(12,0)" d="M5,9A4.5,4.5 0 1 1 5,0A4.5,4.5 0 1 1 5,9A5,5 0 1 1 5,19A5,5 0 1 1 5,9"/><path transform="translate(25,0)" d="M0,5A5,5 0 0 1 10,5V14A5,5 0 0 1 0,14Z"/><path transform="translate(38,0)" d="M0,5A5,5 0 0 1 10,5V14A5,5 0 0 1 0,14Z"/></g>
<g transform="translate(2427,1397.9) rotate(-90) scale(0.907895,1.31579) translate(-23.5,-19)" fill="none" stroke="#111" stroke-width="0.988" stroke-linecap="round" stroke-linejoin="round"><path transform="translate(0,0)" d="M2,4L6,0V19"/><path transform="translate(12,0)" d="M2,4L6,0V19"/><path transform="translate(24,0)" d="M0,5A5,5 0 0 1 10,5V14A5,5 0 0 1 0,14Z"/><path transform="translate(37,0)" d="M0,5A5,5 0 0 1 10,5V14A5,5 0 0 1 0,14Z"/></g>
<g transform="translate(2427,1506.3) rotate(-90) scale(0.907895,1.31579) translate(-24.5,-19)" fill="none" stroke="#111" stroke-width="0.988" stroke-linecap="round" stroke-linejoin="round"><path transform="translate(0,0)" d="M0,5A5,5 0 0 1 10,5C10,10 0,13 0,19H10"/><path transform="translate(13,0)" d="M9,0H1L0,8C3,6 10,6 10,13A5,5.5 0 0 1 0,15"/><path transform="translate(26,0)" d="M9,0H1L0,8C3,6 10,6 10,13A5,5.5 0 0 1 0,15"/><path transform="translate(39,0)" d="M0,5A5,5 0 0 1 10,5V14A5,5 0 0 1 0,14Z"/></g>
<g transform="translate(2427,1652.6) rotate(-90) scale(0.907895,1.31579) translate(-24.5,-19)" fill="none" stroke="#111" stroke-width="0.988" stroke-linecap="round" stroke-linejoin="round"><path transform="translate(0,0)" d="M0,5A5,5 0 0 1 10,5C10,10 0,13 0,19H10"/><path transform="translate(13,0)" d="M0,4A5,4.5 0 1 1 5,9A5,5 0 1 1 0,15"/><path transform="translate(26,0)" d="M9,0H1L0,8C3,6 10,6 10,13A5,5.5 0 0 1 0,15"/><path transform="translate(39,0)" d="M0,5A5,5 0 0 1 10,5V14A5,5 0 0 1 0,14Z"/></g>
<g transform="translate(2469.1,1449.7) rotate(-90) scale(0.907895,1.31579) translate(-18,-19)" fill="none" stroke="#111" stroke-width="0.988" stroke-linecap="round" stroke-linejoin="round"><path transform="translate(0,0)" d="M9,2C7,0 0,-1 0,8V14A5,5 0 0 0 10,14A5,5 0 0 0 0,12"/><path transform="translate(13,0)" d="M0,5A5,5 0 0 1 10,5C10,10 0,13 0,19H10"/><path transform="translate(26,0)" d="M9,0H1L0,8C3,6 10,6 10,13A5,5.5 0 0 1 0,15"/></g>
<g transform="translate(2469.1,1506.3) rotate(-90) scale(0.907895,1.31579) translate(-24,-19)" fill="none" stroke="#111" stroke-width="0.988" stroke-linecap="round" stroke-linejoin="round"><path transform="translate(0,0)" d="M2,4L6,0V19"/><path transform="translate(12,0)" d="M0,4A5,4.5 0 1 1 5,9A5,5 0 1 1 0,15"/><path transform="translate(25,0)" d="M0,5A5,5 0 0 1 10,5V14A5,5 0 0 1 0,14Z"/><path transform="translate(38,0)" d="M0,5A5,5 0 0 1 10,5V14A5,5 0 0 1 0,14Z"/></g>
<g transform="translate(2508.6,1555) rotate(-90) scale(0.907895,1.31579) translate(-18,-19)" fill="none" stroke="#111" stroke-width="0.988" stroke-linecap="round" stroke-linejoin="round"><path transform="translate(0,0)" d="M9,2C7,0 0,-1 0,8V14A5,5 0 0 0 10,14A5,5 0 0 0 0,12"/><path transform="translate(13,0)" d="M0,5A5,5 0 0 1 10,5C10,10 0,13 0,19H10"/><path transform="translate(26,0)" d="M9,0H1L0,8C3,6 10,6 10,13A5,5.5 0 0 1 0,15"/></g>
<g transform="translate(2469.1,1598.4) rotate(-90) scale(0.907895,1.31579) translate(-18,-19)" fill="none" stroke="#111" stroke-width="0.988" stroke-linecap="round" stroke-linejoin="round"><path transform="translate(0,0)" d="M9,0H1L0,8C3,6 10,6 10,13A5,5.5 0 0 1 0,15"/><path transform="translate(13,0)" d="M0,5A5,5 0 0 1 10,5C10,10 0,13 0,19H10"/><path transform="translate(26,0)" d="M9,0H1L0,8C3,6 10,6 10,13A5,5.5 0 0 1 0,15"/></g>
<g transform="translate(2469.1,1652.6) rotate(-90) scale(0.907895,1.31579) translate(-24,-19)" fill="none" stroke="#111" stroke-width="0.988" stroke-linecap="round" stroke-linejoin="round"><path transform="translate(0,0)" d="M2,4L6,0V19"/><path transform="translate(12,0)" d="M0,4A5,4.5 0 1 1 5,9A5,5 0 1 1 0,15"/><path transform="translate(25,0)" d="M0,5A5,5 0 0 1 10,5V14A5,5 0 0 1 0,14Z"/><path transform="translate(38,0)" d="M0,5A5,5 0 0 1 10,5V14A5,5 0 0 1 0,14Z"/></g>
<g transform="translate(2469.1,1706.8) rotate(-90) scale(0.907895,1.31579) translate(-18,-19)" fill="none" stroke="#111" stroke-width="0.988" stroke-linecap="round" stroke-linejoin="round"><path transform="translate(0,0)" d="M9,0H1L0,8C3,6 10,6 10,13A5,5.5 0 0 1 0,15"/><path transform="translate(13,0)" d="M0,5A5,5 0 0 1 10,5C10,10 0,13 0,19H10"/><path transform="translate(26,0)" d="M9,0H1L0,8C3,6 10,6 10,13A5,5.5 0 0 1 0,15"/></g>
<g transform="translate(2383,1403.7) rotate(-90) scale(0.631579,0.789474) translate(-46,-19)" fill="none" stroke="#111" stroke-width="1.64667" stroke-linecap="round" stroke-linejoin="round"><path transform="translate(0,0)" d="M0,19V0H10M0,9H7"/><path transform="translate(13,0)" d="M0,19V0L6,19L12,0V19"/><path transform="translate(32,0)" d="M0,0H10L0,19H10"/><path transform="translate(45,0)" d="M2,4L6,0V19"/><path transform="translate(57,0)" d="M0,5A5,5 0 0 1 10,5V14A5,5 0 0 1 0,14Z"/><path transform="translate(70,0)" d="M0,5A5,5 0 0 1 10,5C10,10 0,13 0,19H10"/><path transform="translate(83,0)" d="M2,4L6,0V19"/></g>
<g transform="translate(2549.5,1411.5) rotate(-90) scale(0.626316,0.736842) translate(-29,-19)" fill="none" stroke="#111" stroke-width="1.62857" stroke-linecap="round" stroke-linejoin="round"><path transform="translate(0,0)" d="M0,19V0H10M0,9H7"/><path transform="translate(13,0)" d="M0,19V0L6,19L12,0V19"/></g>
<g transform="translate(2549.5,1398.4) rotate(-90) scale(0.626316,0.736842) translate(0,-19)" fill="none" stroke="#111" stroke-width="1.62857" stroke-linecap="round" stroke-linejoin="round"><path transform="translate(0,0)" d="M0,5A5,5 0 0 1 10,5V14A5,5 0 0 1 0,14Z"/><path transform="translate(13,0)" d="M9,2C7,0 0,-1 0,8V14A5,5 0 0 0 10,14A5,5 0 0 0 0,12"/><path transform="translate(26,0)" d="M2,4L6,0V19"/><path transform="translate(38,0)" d="M5,9A4.5,4.5 0 1 1 5,0A4.5,4.5 0 1 1 5,9A5,5 0 1 1 5,19A5,5 0 1 1 5,9"/></g>
<g transform="translate(2586.5,1397.5) rotate(0) scale(0.581579,0.684211) translate(-29,-19)" fill="none" stroke="#111" stroke-width="1.75385" stroke-linecap="round" stroke-linejoin="round"><path transform="translate(0,0)" d="M0,19V0H10M0,9H7"/><path transform="translate(13,0)" d="M0,19V0L6,19L12,0V19"/></g>
<g transform="translate(2600.6,1397.5) rotate(0) scale(0.581579,0.684211) translate(0,-19)" fill="none" stroke="#111" stroke-width="1.75385" stroke-linecap="round" stroke-linejoin="round"><path transform="translate(0,0)" d="M0,5A5,5 0 0 1 10,5V14A5,5 0 0 1 0,14Z"/><path transform="translate(13,0)" d="M9,2C7,0 0,-1 0,8V14A5,5 0 0 0 10,14A5,5 0 0 0 0,12"/><path transform="translate(26,0)" d="M2,4L6,0V19"/><path transform="translate(38,0)" d="M5,9A4.5,4.5 0 1 1 5,0A4.5,4.5 0 1 1 5,9A5,5 0 1 1 5,19A5,5 0 1 1 5,9"/></g>
<polyline points="2272.9,1443.2 2272.9,1721.6" fill="none" stroke="#62ff1a" stroke-width="1.2"/>
<polyline points="2350,1591.8 2350,1721.6" fill="none" stroke="#62ff1a" stroke-width="1.2"/>
<polygon points="2270.3,1556.3 2275.5,1556.3 2272.9,1568.2" fill="#62ff1a"/>
<polygon points="2270.3,1608.9 2275.5,1608.9 2272.9,1595.8" fill="#62ff1a"/>
<polygon points="2347.4,1608.9 2352.6,1608.9 2350,1593.2" fill="#62ff1a"/>
<polygon points="2392.1,1430.5 2450,1430.5 2450,1433.7 2392.1,1433.7" fill="none" stroke="#7fe8e8" stroke-width="1"/>
<path d="M2392.1,1374.2 A57.904,57.904 0 0 1 2450,1432.1" fill="none" stroke="#7fe8e8" stroke-width="1"/>
<polyline points="2517.1,1380 2517.1,1415.5" fill="none" stroke="#7fe8e8" stroke-width="1"/>
<polyline points="2523.2,1380 2523.2,1415.5" fill="none" stroke="#7fe8e8" stroke-width="1"/>
<polyline points="2492.1,1390.5 2517.1,1380" fill="none" stroke="#7fe8e8" stroke-width="1"/>
<path d="M2492.1,1390.5 A25.004,25.004 0 0 0 2517.1,1415.5" fill="none" stroke="#7fe8e8" stroke-width="1"/>
<polyline points="2581.6,1371.3 2617.1,1371.3" fill="none" stroke="#7fe8e8" stroke-width="1"/>
<polyline points="2592.1,1340 2613.2,1364.2" fill="none" stroke="#7fe8e8" stroke-width="1"/>
<path d="M2581.57,1366.8 A35.532,35.532 0 0 1 2591.98,1341.68" fill="none" stroke="#7fe8e8" stroke-width="1"/>
<polyline points="2581.6,1358.9 2581.6,1366.8" fill="none" stroke="#7fe8e8" stroke-width="1"/>
<polyline points="2150,1350.5 2236.8,1390.5" fill="none" stroke="#ecc8f0" stroke-width="1"/>
<polyline points="2225,1516.1 2225,1627.4" fill="none" stroke="#ecc8f0" stroke-width="1"/>
<polyline points="2665.8,1437.1 2665.8,1546.6" fill="none" stroke="#ecc8f0" stroke-width="1"/>
<polygon points="2225,1627.1 2236.8,1627.1 2236.8,1728.2 2225,1728.2" fill="#6f7f88" stroke="#1a1a1a" stroke-width="1.1"/>
<polygon points="2385.5,1627.1 2397.9,1627.1 2397.9,1728.2 2385.5,1728.2" fill="#6f7f88" stroke="#1a1a1a" stroke-width="1.1"/>
<polygon points="2510.5,1691.3 2522.4,1691.3 2522.4,1715.8 2653.9,1715.8 2653.9,1686.3 2665.8,1686.3 2665.8,1728.2 2510.5,1728.2" fill="#6f7f88" stroke="#1a1a1a" stroke-width="1.1"/>
<polyline points="2236.8,1713.9 2307.9,1713.9" fill="none" stroke="#ff6a2a" stroke-width="1"/>
<polyline points="2314.5,1713.9 2385,1713.9" fill="none" stroke="#ff6a2a" stroke-width="1"/>
<polygon points="2311.1,1785 2369.7,1785 2369.7,1788.4 2311.1,1788.4" fill="none" stroke="#7fe8e8" stroke-width="1"/>
<path d="M2311.1,1728.37 A58.4304,58.4304 0 0 1 2369.53,1786.8" fill="none" stroke="#7fe8e8" stroke-width="1"/>
<polygon points="2391.6,1728.2 2450,1728.2 2450,1731.1 2391.6,1731.1" fill="none" stroke="#7fe8e8" stroke-width="1"/>
<path d="M2450.03,1729.5 A58.4304,58.4304 0 0 1 2391.6,1787.93" fill="none" stroke="#7fe8e8" stroke-width="1"/>
<g transform="translate(2354.9,1757.9) rotate(-90) scale(0.631579,0.789474) translate(-46,-19)" fill="none" stroke="#111" stroke-width="1.64667" stroke-linecap="round" stroke-linejoin="round"><path transform="translate(0,0)" d="M0,19V0H10M0,9H7"/><path transform="translate(13,0)" d="M0,19V0L6,19L12,0V19"/><path transform="translate(32,0)" d="M0,0H10L0,19H10"/><path transform="translate(45,0)" d="M2,4L6,0V19"/><path transform="translate(57,0)" d="M0,5A5,5 0 0 1 10,5V14A5,5 0 0 1 0,14Z"/><path transform="translate(70,0)" d="M0,5A5,5 0 0 1 10,5C10,10 0,13 0,19H10"/><path transform="translate(83,0)" d="M2,4L6,0V19"/></g>
<g transform="translate(2435.7,1757.9) rotate(-90) scale(0.631579,0.789474) translate(-46,-19)" fill="none" stroke="#111" stroke-width="1.64667" stroke-linecap="round" stroke-linejoin="round"><path transform="translate(0,0)" d="M0,19V0H10M0,9H7"/><path transform="translate(13,0)" d="M0,19V0L6,19L12,0V19"/><path transform="translate(32,0)" d="M0,0H10L0,19H10"/><path transform="translate(45,0)" d="M2,4L6,0V19"/><path transform="translate(57,0)" d="M0,5A5,5 0 0 1 10,5V14A5,5 0 0 1 0,14Z"/><path transform="translate(70,0)" d="M0,5A5,5 0 0 1 10,5C10,10 0,13 0,19H10"/><path transform="translate(83,0)" d="M2,4L6,0V19"/></g>
<polyline points="2461.1,1715.8 2461.1,1773.7 2543.9,1773.7 2543.9,1832.9" fill="none" stroke="#62ff1a" stroke-width="3.2"/>
<polyline points="2543.9,1832.9 2543.9,2047.4" fill="none" stroke="#74848f" stroke-width="1.4" stroke-dasharray="18,8"/>
<polyline points="2469.2,1728.9 2469.2,1802.6" fill="none" stroke="#ff6a2a" stroke-width="1"/>
<polyline points="2484.7,1728.9 2484.7,1802.6" fill="none" stroke="#ff6a2a" stroke-width="1"/>
<polyline points="2500.5,1728.9 2500.5,1802.6" fill="none" stroke="#ff6a2a" stroke-width="1"/>
<polyline points="2515.8,1728.9 2515.8,1802.6" fill="none" stroke="#ff6a2a" stroke-width="1"/>
<polyline points="2397.9,1802.6 2519.7,1802.6 2519.7,1806.1 2397.9,1806.1" fill="none" stroke="#ff6a2a" stroke-width="1"/>
<polygon points="2218.9,1793.9 2397.9,1793.9 2397.9,1806.1 2231.1,1806.1 2231.1,1823.2 2218.9,1823.2" fill="#6f7f88" stroke="#1a1a1a" stroke-width="1.1"/>
<polyline points="2385,1806.6 2239.5,1812.6 2231.6,1919.2" fill="none" stroke="#62ff1a" stroke-width="1"/>
<polygon points="2219.7,1823.7 2231.1,1823.7 2231.1,1919.2 2219.7,1919.2" fill="none" stroke="#62ff1a" stroke-width="1"/>
<polyline points="2223.12,1823.7 2223.12,1919.2" fill="none" stroke="#62ff1a" stroke-width="1"/>
<polyline points="2227.68,1823.7 2227.68,1919.2" fill="none" stroke="#62ff1a" stroke-width="1"/>
<polyline points="2223.12,1827.7 2227.68,1823.7" fill="none" stroke="#62ff1a" stroke-width="0.8"/>
<polyline points="2223.12,1831.7 2227.68,1827.7" fill="none" stroke="#62ff1a" stroke-width="0.8"/>
<polyline points="2223.12,1835.7 2227.68,1831.7" fill="none" stroke="#62ff1a" stroke-width="0.8"/>
<polyline points="2223.12,1839.7 2227.68,1835.7" fill="none" stroke="#62ff1a" stroke-width="0.8"/>
<polyline points="2223.12,1843.7 2227.68,1839.7" fill="none" stroke="#62ff1a" stroke-width="0.8"/>
<polyline points="2223.12,1847.7 2227.68,1843.7" fill="none" stroke="#62ff1a" stroke-width="0.8"/>
<polyline points="2223.12,1851.7 2227.68,1847.7" fill="none" stroke="#62ff1a" stroke-width="0.8"/>
<polyline points="2223.12,1855.7 2227.68,1851.7" fill="none" stroke="#62ff1a" stroke-width="0.8"/>
<polyline points="2223.12,1859.7 2227.68,1855.7" fill="none" stroke="#62ff1a" stroke-width="0.8"/>
<polyline points="2223.12,1863.7 2227.68,1859.7" fill="none" stroke="#62ff1a" stroke-width="0.8"/>
<polyline points="2223.12,1867.7 2227.68,1863.7" fill="none" stroke="#62ff1a" stroke-width="0.8"/>
<polyline points="2223.12,1871.7 2227.68,1867.7" fill="none" stroke="#62ff1a" stroke-width="0.8"/>
<polyline points="2223.12,1875.7 2227.68,1871.7" fill="none" stroke="#62ff1a" stroke-width="0.8"/>
<polyline points="2223.12,1879.7 2227.68,1875.7" fill="none" stroke="#62ff1a" stroke-width="0.8"/>
<polyline points="2223.12,1883.7 2227.68,1879.7" fill="none" stroke="#62ff1a" stroke-width="0.8"/>
<polyline points="2223.12,1887.7 2227.68,1883.7" fill="none" stroke="#62ff1a" stroke-width="0.8"/>
<polyline points="2223.12,1891.7 2227.68,1887.7" fill="none" stroke="#62ff1a" stroke-width="0.8"/>
<polyline points="2223.12,1895.7 2227.68,1891.7" fill="none" stroke="#62ff1a" stroke-width="0.8"/>
<polyline points="2223.12,1899.7 2227.68,1895.7" fill="none" stroke="#62ff1a" stroke-width="0.8"/>
<polyline points="2223.12,1903.7 2227.68,1899.7" fill="none" stroke="#62ff1a" stroke-width="0.8"/>
<polyline points="2223.12,1907.7 2227.68,1903.7" fill="none" stroke="#62ff1a" stroke-width="0.8"/>
<polyline points="2223.12,1911.7 2227.68,1907.7" fill="none" stroke="#62ff1a" stroke-width="0.8"/>
<polyline points="2223.12,1915.7 2227.68,1911.7" fill="none" stroke="#62ff1a" stroke-width="0.8"/>
<polyline points="2223.12,1919.7 2227.68,1915.7" fill="none" stroke="#62ff1a" stroke-width="0.8"/>
<polygon points="2267.1,1847.4 2278.4,1847.4 2278.4,1919.2 2267.1,1919.2" fill="none" stroke="#62ff1a" stroke-width="1"/>
<polyline points="2270.49,1847.4 2270.49,1919.2" fill="none" stroke="#62ff1a" stroke-width="1"/>
<polyline points="2275.01,1847.4 2275.01,1919.2" fill="none" stroke="#62ff1a" stroke-width="1"/>
<polyline points="2270.49,1851.4 2275.01,1847.4" fill="none" stroke="#62ff1a" stroke-width="0.8"/>
<polyline points="2270.49,1855.4 2275.01,1851.4" fill="none" stroke="#62ff1a" stroke-width="0.8"/>
<polyline points="2270.49,1859.4 2275.01,1855.4" fill="none" stroke="#62ff1a" stroke-width="0.8"/>
<polyline points="2270.49,1863.4 2275.01,1859.4" fill="none" stroke="#62ff1a" stroke-width="0.8"/>
<polyline points="2270.49,1867.4 2275.01,1863.4" fill="none" stroke="#62ff1a" stroke-width="0.8"/>
<polyline points="2270.49,1871.4 2275.01,1867.4" fill="none" stroke="#62ff1a" stroke-width="0.8"/>
<polyline points="2270.49,1875.4 2275.01,1871.4" fill="none" stroke="#62ff1a" stroke-width="0.8"/>
<polyline points="2270.49,1879.4 2275.01,1875.4" fill="none" stroke="#62ff1a" stroke-width="0.8"/>
<polyline points="2270.49,1883.4 2275.01,1879.4" fill="none" stroke="#62ff1a" stroke-width="0.8"/>
<polyline points="2270.49,1887.4 2275.01,1883.4" fill="none" stroke="#62ff1a" stroke-width="0.8"/>
<polyline points="2270.49,1891.4 2275.01,1887.4" fill="none" stroke="#62ff1a" stroke-width="0.8"/>
<polyline points="2270.49,1895.4 2275.01,1891.4" fill="none" stroke="#62ff1a" stroke-width="0.8"/>
<polyline points="2270.49,1899.4 2275.01,1895.4" fill="none" stroke="#62ff1a" stroke-width="0.8"/>
<polyline points="2270.49,1903.4 2275.01,1899.4" fill="none" stroke="#62ff1a" stroke-width="0.8"/>
<polyline points="2270.49,1907.4 2275.01,1903.4" fill="none" stroke="#62ff1a" stroke-width="0.8"/>
<polyline points="2270.49,1911.4 2275.01,1907.4" fill="none" stroke="#62ff1a" stroke-width="0.8"/>
<polyline points="2270.49,1915.4 2275.01,1911.4" fill="none" stroke="#62ff1a" stroke-width="0.8"/>
<polyline points="2270.49,1919.4 2275.01,1915.4" fill="none" stroke="#62ff1a" stroke-width="0.8"/>
<polyline points="2219.7,1894.7 2278.9,1894.7" fill="none" stroke="#62ff1a" stroke-width="1.2"/>
<polyline points="2222.03,1897.67 2227.97,1891.73" fill="none" stroke="#62ff1a" stroke-width="3"/>
<polyline points="2269.43,1897.67 2275.37,1891.73" fill="none" stroke="#62ff1a" stroke-width="3"/>
<g transform="translate(2248.7,1887.1) rotate(0) scale(0.9,1) translate(-18,-19)" fill="none" stroke="#111" stroke-width="1.3" stroke-linecap="round" stroke-linejoin="round"><path transform="translate(0,0)" d="M5,9A4.5,4.5 0 1 1 5,0A4.5,4.5 0 1 1 5,9A5,5 0 1 1 5,19A5,5 0 1 1 5,9"/><path transform="translate(13,0)" d="M0,5A5,5 0 0 1 10,5V14A5,5 0 0 1 0,14Z"/><path transform="translate(26,0)" d="M0,5A5,5 0 0 1 10,5V14A5,5 0 0 1 0,14Z"/></g>
<polygon points="2218.9,1919.2 2278.9,1919.2 2278.9,2020.3 2267.1,2020.3 2267.1,1931.1 2218.9,1931.1" fill="#6f7f88" stroke="#1a1a1a" stroke-width="1.1"/>
<polyline points="2150,1919.2 2218.9,1919.2" fill="none" stroke="#c050e0" stroke-width="1.2"/>
<polyline points="2588.2,1728.2 2588.2,1793.9 2653.4,1793.9" fill="none" stroke="#c050e0" stroke-width="1.2"/>
<polyline points="2225,1728.2 2225,1793.9" fill="none" stroke="#ecc8f0" stroke-width="1"/>
<polyline points="2665.8,1600 2665.8,1686.3" fill="none" stroke="#ecc8f0" stroke-width="1"/>
<polyline points="2101.3,1155.3 2165.8,1155.3" fill="none" stroke="#62ff1a" stroke-width="1.2"/>
<polyline points="2101.3,1155.3 2118.9,1172.4 2136.3,1155.3" fill="none" stroke="#62ff1a" stroke-width="1.2"/>
<polygon points="2108.5,1331.6 2119.4,1336.6 2054.3,1476.2 2021.7,1461 2026.5,1450.8 2048.2,1460.9" fill="#6f7f88" stroke="#1a1a1a" stroke-width="1.1"/>
<polyline points="1859.8,1386.3 2021.9,1461.2" fill="none" stroke="#c050e0" stroke-width="1.2"/>
<polyline points="2010.8,951 2086.3,985.5" fill="none" stroke="#c050e0" stroke-width="1.2"/>
<polyline points="2119.7,1336.3 2238.2,1391.6" fill="none" stroke="#e8b0ec" stroke-width="1" stroke-dasharray="2,2"/>
<polyline points="2432.1,1252.6 2432.1,1365.8" fill="none" stroke="#62ff1a" stroke-width="1.2"/>
<polyline points="2429.13,1254.93 2435.07,1260.87" fill="none" stroke="#62ff1a" stroke-width="3"/>
<polyline points="2416.3,1257.9 2497.4,1257.9" fill="none" stroke="#62ff1a" stroke-width="1.2"/>
<polyline points="2367.1,1183.7 2497.4,1243.4" fill="none" stroke="#62ff1a" stroke-width="1"/>
<polyline points="2365.54,1187.04 2495.84,1246.74" fill="none" stroke="#62ff1a" stroke-width="1"/>
<polyline points="2363.99,1190.38 2494.29,1250.08" fill="none" stroke="#62ff1a" stroke-width="1"/>
<polyline points="2362.43,1193.72 2492.73,1253.42" fill="none" stroke="#62ff1a" stroke-width="1"/>
<polyline points="2367.1,1183.7 2362.43,1193.72" fill="none" stroke="#62ff1a" stroke-width="1"/>
<polyline points="2497.4,1243.4 2492.73,1253.42" fill="none" stroke="#62ff1a" stroke-width="1"/>
<polyline points="2497.4,1243.4 2515.8,1251.8 2632.9,1251.8" fill="none" stroke="#e8b0ec" stroke-width="1"/>
<polyline points="2632.9,1251.8 2652.6,1243.4" fill="none" stroke="#c050e0" stroke-width="1.2"/>
<g transform="translate(2436.8,1204.7) rotate(25) scale(0.710526,0.789474) translate(-31,-19)" fill="none" stroke="#111" stroke-width="1.52" stroke-linecap="round" stroke-linejoin="round"><path transform="translate(0,0)" d="M10,4A5,5 0 0 0 0,5V14A5,5 0 0 0 10,15"/><path transform="translate(13,0)" d="M0,5A5,5 0 0 1 10,5C10,10 0,13 0,19H10"/><path transform="translate(26,0)" d="M8,19V0L0,13H10"/><path transform="translate(39,0)" d="M0,5A5,5 0 0 1 10,5C10,10 0,13 0,19H10"/><path transform="translate(52,0)" d="M5,9A4.5,4.5 0 1 1 5,0A4.5,4.5 0 1 1 5,9A5,5 0 1 1 5,19A5,5 0 1 1 5,9"/></g>
<polygon points="2010.8,1918.6 2112.6,1918.6 2112.6,1930.9 2010.8,1930.9" fill="#6f7f88" stroke="#1a1a1a" stroke-width="1.1"/>
<polygon points="2480.8,1918.6 2493.4,1918.6 2493.4,2038 2480.8,2038" fill="#6f7f88" stroke="#1a1a1a" stroke-width="1.1"/>
<polygon points="1885.1,2049.9 2023.1,2049.9 2023.1,2092 2010.8,2092 2010.8,2062.2 1885.1,2062.2" fill="#6f7f88" stroke="#1a1a1a" stroke-width="1.1"/>
<polygon points="1885.1,2234.5 1898.1,2234.5 1898.1,2330 1885.1,2330" fill="#6f7f88" stroke="#1a1a1a" stroke-width="1.1"/>
<polygon points="2088,2264 2100.3,2264 2100.3,2365.8 2028.3,2365.8 2028.3,2353.5 2088,2353.5" fill="#6f7f88" stroke="#1a1a1a" stroke-width="1.1"/>
<polygon points="2266.7,2264 2279,2264 2279,2353.5 2299.3,2353.5 2299.3,2365.8 2266.7,2365.8" fill="#6f7f88" stroke="#1a1a1a" stroke-width="1.1"/>
<polygon points="2480.8,2252.1 2493.4,2252.1 2493.4,2353.5 2508.2,2353.5 2508.2,2365.8 2466.1,2365.8 2466.1,2353.5 2480.8,2353.5" fill="#6f7f88" stroke="#1a1a1a" stroke-width="1.1"/>
<polyline points="2112.6,1918.6 2218.6,1918.6" fill="none" stroke="#c050e0" stroke-width="1.2"/>
<polyline points="2010.8,1930.9 2010.8,2049.9" fill="none" stroke="#c050e0" stroke-width="1.2"/>
<polyline points="1885.1,2062.2 1885.1,2234.5" fill="none" stroke="#c050e0" stroke-width="1.2"/>
<polyline points="1885.1,2330 1885.1,2365.8 2028.3,2365.8" fill="none" stroke="#c050e0" stroke-width="1.2"/>
<polyline points="2100.3,2336 2266.7,2336" fill="none" stroke="#c050e0" stroke-width="1.2"/>
<polyline points="2299.3,2365.8 2466.1,2365.8" fill="none" stroke="#c050e0" stroke-width="1.2"/>
<polyline points="2305.6,2419.5 2371.3,2419.5" fill="none" stroke="#62ff1a" stroke-width="1.2"/>
<polyline points="2305.6,2419.5 2323.2,2437.1 2340.4,2419.5" fill="none" stroke="#62ff1a" stroke-width="1.2"/>
<text transform="translate(2352,2414.3) rotate(0) scale(0.53,1)" font-size="26" fill="#111" text-anchor="middle" font-family="Liberation Serif" font-weight="normal">-0.150</text>
<polyline points="2532.1,2148.2 2597,2148.2" fill="none" stroke="#62ff1a" stroke-width="1.2"/>
<polyline points="2532.1,2148.2 2549.6,2165.7 2567.2,2148.2" fill="none" stroke="#62ff1a" stroke-width="1.2"/>
<polygon points="2695,1918.6 2754.7,1918.6 2754.7,1930.9 2707.3,1930.9 2707.3,2020.4 2695,2020.4" fill="#6f7f88" stroke="#1a1a1a" stroke-width="1.1"/>
<polygon points="2861.8,1918.6 2963.6,1918.6 2963.6,1930.9 2861.8,1930.9" fill="#6f7f88" stroke="#1a1a1a" stroke-width="1.1"/>
<polygon points="2951.3,2049.9 3088.2,2049.9 3088.2,2062.2 2963.6,2062.2 2963.6,2092 2951.3,2092" fill="#6f7f88" stroke="#1a1a1a" stroke-width="1.1"/>
<polygon points="3075.9,2234.5 3088.2,2234.5 3088.2,2330 3075.9,2330" fill="#6f7f88" stroke="#1a1a1a" stroke-width="1.1"/>
<polygon points="2695,2264 2707.3,2264 2707.3,2365.8 2674.7,2365.8 2674.7,2353.5 2695,2353.5" fill="#6f7f88" stroke="#1a1a1a" stroke-width="1.1"/>
<polygon points="2873.7,2264 2886.3,2264 2886.3,2353.5 2945.7,2353.5 2945.7,2365.8 2873.7,2365.8" fill="#6f7f88" stroke="#1a1a1a" stroke-width="1.1"/>
<polyline points="2754.7,1882.4 2754.7,1918.6 2861.8,1918.6" fill="none" stroke="#c050e0" stroke-width="1.2"/>
<polyline points="2963.6,1930.9 2963.6,2049.9" fill="none" stroke="#c050e0" stroke-width="1.2"/>
<polyline points="3088.2,2062.2 3088.2,2234.5" fill="none" stroke="#c050e0" stroke-width="1.2"/>
<polyline points="3088.2,2330 3088.2,2365.8 2945.7,2365.8" fill="none" stroke="#c050e0" stroke-width="1.2"/>
<polyline points="2707.3,2336 2873.7,2336" fill="none" stroke="#c050e0" stroke-width="1.2"/>
<polyline points="2390.3,2365.8 2465.8,2365.8" fill="none" stroke="#c050e0" stroke-width="1.2"/>
<polyline points="2507.9,2365.8 2674.7,2365.8" fill="none" stroke="#c050e0" stroke-width="1.2"/>
<polygon points="2653.4,1793.9 2755.3,1793.9 2755.3,1823.7 2742.9,1823.7 2742.9,1806.1 2653.4,1806.1" fill="#6f7f88" stroke="#1a1a1a" stroke-width="1.1"/>
<polyline points="2755.3,1823.7 2755.3,1918.9 2861.8,1918.9" fill="none" stroke="#c050e0" stroke-width="1.2"/>
<polyline points="2543.6,1900 2543.6,2458" fill="none" stroke="#74848f" stroke-width="1.4" stroke-dasharray="18,8"/>
<circle cx="4029" cy="1364.6" r="23.7" fill="none" stroke="#62ff1a" stroke-width="1.2"/>
<text transform="translate(4029,1378.33) rotate(0) scale(0.303,1)" font-size="41" fill="#111" text-anchor="middle" font-family="Liberation Serif" font-weight="bold">8-CK</text>
<polyline points="3765.6,1364.6 4005.3,1364.6" fill="none" stroke="#62ff1a" stroke-width="1.2"/>
<circle cx="4029" cy="1430.12" r="23.7" fill="none" stroke="#62ff1a" stroke-width="1.2"/>
<text transform="translate(4029,1443.85) rotate(0) scale(0.344,1)" font-size="41" fill="#111" text-anchor="middle" font-family="Liberation Serif" font-weight="bold">8-CJ</text>
<polyline points="3765.6,1430.12 4005.3,1430.12" fill="none" stroke="#62ff1a" stroke-width="1.2"/>
<circle cx="4029" cy="1531.37" r="23.7" fill="none" stroke="#62ff1a" stroke-width="1.2"/>
<text transform="translate(4029,1545.1) rotate(0) scale(0.303,1)" font-size="41" fill="#111" text-anchor="middle" font-family="Liberation Serif" font-weight="bold">8-CH</text>
<polyline points="3765.6,1531.37 4005.3,1531.37" fill="none" stroke="#62ff1a" stroke-width="1.2"/>
<circle cx="4029" cy="1581.99" r="23.7" fill="none" stroke="#62ff1a" stroke-width="1.2"/>
<text transform="translate(4029,1595.73) rotate(0) scale(0.303,1)" font-size="41" fill="#111" text-anchor="middle" font-family="Liberation Serif" font-weight="bold">8-CG</text>
<polyline points="3765.6,1581.99 4005.3,1581.99" fill="none" stroke="#62ff1a" stroke-width="1.2"/>
<circle cx="4029" cy="1721.96" r="23.7" fill="none" stroke="#62ff1a" stroke-width="1.2"/>
<text transform="translate(4029,1735.69) rotate(0) scale(0.327,1)" font-size="41" fill="#111" text-anchor="middle" font-family="Liberation Serif" font-weight="bold">8-CF</text>
<polyline points="3765.6,1721.96 4005.3,1721.96" fill="none" stroke="#62ff1a" stroke-width="1.2"/>
<circle cx="4029" cy="1799.39" r="23.7" fill="none" stroke="#62ff1a" stroke-width="1.2"/>
<text transform="translate(4029,1813.12) rotate(0) scale(0.318,1)" font-size="41" fill="#111" text-anchor="middle" font-family="Liberation Serif" font-weight="bold">8-CE</text>
<polyline points="3765.6,1799.39 4005.3,1799.39" fill="none" stroke="#62ff1a" stroke-width="1.2"/>
<circle cx="4029" cy="1924.46" r="23.7" fill="none" stroke="#62ff1a" stroke-width="1.2"/>
<text transform="translate(4029,1938.2) rotate(0) scale(0.311,1)" font-size="41" fill="#111" text-anchor="middle" font-family="Liberation Serif" font-weight="bold">8-CD</text>
<polyline points="3765.6,1924.46 4005.3,1924.46" fill="none" stroke="#62ff1a" stroke-width="1.2"/>
<circle cx="4029" cy="2055.5" r="23.7" fill="none" stroke="#62ff1a" stroke-width="1.2"/>
<text transform="translate(4029,2069.23) rotate(0) scale(0.311,1)" font-size="41" fill="#111" text-anchor="middle" font-family="Liberation Serif" font-weight="bold">8-CC</text>
<polyline points="3765.6,2055.5 4005.3,2055.5" fill="none" stroke="#62ff1a" stroke-width="1.2"/>
<circle cx="4029" cy="2329.47" r="23.7" fill="none" stroke="#62ff1a" stroke-width="1.2"/>
<text transform="translate(4029,2343.21) rotate(0) scale(0.318,1)" font-size="41" fill="#111" text-anchor="middle" font-family="Liberation Serif" font-weight="bold">8-CB</text>
<polyline points="3765.6,2329.47 4005.3,2329.47" fill="none" stroke="#62ff1a" stroke-width="1.2"/>
<circle cx="4029" cy="2391.7" r="23.7" fill="none" stroke="#62ff1a" stroke-width="1.2"/>
<text transform="translate(4029,2405.43) rotate(0) scale(0.311,1)" font-size="41" fill="#111" text-anchor="middle" font-family="Liberation Serif" font-weight="bold">8-CA</text>
<polyline points="3765.6,2365.21 4005,2365.21 4012.5,2374.5" fill="none" stroke="#62ff1a" stroke-width="1.2"/>
<polyline points="3916,1364.6 3916,2365.21" fill="none" stroke="#62ff1a" stroke-width="1.2"/>
<polyline points="3913.03,1361.63 3918.97,1367.57" fill="none" stroke="#62ff1a" stroke-width="3"/>
<polyline points="3913.03,1427.15 3918.97,1433.09" fill="none" stroke="#62ff1a" stroke-width="3"/>
<polyline points="3913.03,1528.4 3918.97,1534.34" fill="none" stroke="#62ff1a" stroke-width="3"/>
<polyline points="3913.03,1579.02 3918.97,1584.96" fill="none" stroke="#62ff1a" stroke-width="3"/>
<polyline points="3913.03,1718.99 3918.97,1724.93" fill="none" stroke="#62ff1a" stroke-width="3"/>
<polyline points="3913.03,1796.42 3918.97,1802.36" fill="none" stroke="#62ff1a" stroke-width="3"/>
<polyline points="3913.03,1921.49 3918.97,1927.43" fill="none" stroke="#62ff1a" stroke-width="3"/>
<polyline points="3913.03,2052.53 3918.97,2058.47" fill="none" stroke="#62ff1a" stroke-width="3"/>
<polyline points="3913.03,2326.5 3918.97,2332.44" fill="none" stroke="#62ff1a" stroke-width="3"/>
<polyline points="3913.03,2362.24 3918.97,2368.18" fill="none" stroke="#62ff1a" stroke-width="3"/>
<g transform="translate(3909.5,1397.36) rotate(-90) scale(0.87,1) translate(-23.5,-19)" fill="none" stroke="#111" stroke-width="1.3" stroke-linecap="round" stroke-linejoin="round"><path transform="translate(0,0)" d="M2,4L6,0V19"/><path transform="translate(12,0)" d="M2,4L6,0V19"/><path transform="translate(24,0)" d="M0,5A5,5 0 0 1 10,5V14A5,5 0 0 1 0,14Z"/><path transform="translate(37,0)" d="M0,5A5,5 0 0 1 10,5V14A5,5 0 0 1 0,14Z"/></g>
<g transform="translate(3909.5,1480.74) rotate(-90) scale(0.87,1) translate(-24,-19)" fill="none" stroke="#111" stroke-width="1.3" stroke-linecap="round" stroke-linejoin="round"><path transform="translate(0,0)" d="M2,4L6,0V19"/><path transform="translate(12,0)" d="M0,0H10L3,19"/><path transform="translate(25,0)" d="M0,5A5,5 0 0 1 10,5V14A5,5 0 0 1 0,14Z"/><path transform="translate(38,0)" d="M0,5A5,5 0 0 1 10,5V14A5,5 0 0 1 0,14Z"/></g>
<g transform="translate(3909.5,1556.68) rotate(-90) scale(0.87,1) translate(-18,-19)" fill="none" stroke="#111" stroke-width="1.3" stroke-linecap="round" stroke-linejoin="round"><path transform="translate(0,0)" d="M5,9A4.5,4.5 0 1 1 5,0A4.5,4.5 0 1 1 5,9A5,5 0 1 1 5,19A5,5 0 1 1 5,9"/><path transform="translate(13,0)" d="M9,0H1L0,8C3,6 10,6 10,13A5,5.5 0 0 1 0,15"/><path transform="translate(26,0)" d="M0,5A5,5 0 0 1 10,5V14A5,5 0 0 1 0,14Z"/></g>
<g transform="translate(3909.5,1651.98) rotate(-90) scale(0.87,1) translate(-24.5,-19)" fill="none" stroke="#111" stroke-width="1.3" stroke-linecap="round" stroke-linejoin="round"><path transform="translate(0,0)" d="M0,5A5,5 0 0 1 10,5C10,10 0,13 0,19H10"/><path transform="translate(13,0)" d="M0,4A5,4.5 0 1 1 5,9A5,5 0 1 1 0,15"/><path transform="translate(26,0)" d="M9,0H1L0,8C3,6 10,6 10,13A5,5.5 0 0 1 0,15"/><path transform="translate(39,0)" d="M0,5A5,5 0 0 1 10,5V14A5,5 0 0 1 0,14Z"/></g>
<g transform="translate(3909.5,1760.67) rotate(-90) scale(0.87,1) translate(-24,-19)" fill="none" stroke="#111" stroke-width="1.3" stroke-linecap="round" stroke-linejoin="round"><path transform="translate(0,0)" d="M2,4L6,0V19"/><path transform="translate(12,0)" d="M0,4A5,4.5 0 1 1 5,9A5,5 0 1 1 0,15"/><path transform="translate(25,0)" d="M0,5A5,5 0 0 1 10,5V14A5,5 0 0 1 0,14Z"/><path transform="translate(38,0)" d="M0,5A5,5 0 0 1 10,5V14A5,5 0 0 1 0,14Z"/></g>
<g transform="translate(3909.5,1861.93) rotate(-90) scale(0.87,1) translate(-24,-19)" fill="none" stroke="#111" stroke-width="1.3" stroke-linecap="round" stroke-linejoin="round"><path transform="translate(0,0)" d="M0,5A5,5 0 0 1 10,5C10,10 0,13 0,19H10"/><path transform="translate(13,0)" d="M2,4L6,0V19"/><path transform="translate(25,0)" d="M0,5A5,5 0 0 1 10,5V14A5,5 0 0 1 0,14Z"/><path transform="translate(38,0)" d="M0,5A5,5 0 0 1 10,5V14A5,5 0 0 1 0,14Z"/></g>
<g transform="translate(3909.5,1989.98) rotate(-90) scale(0.87,1) translate(-24.5,-19)" fill="none" stroke="#111" stroke-width="1.3" stroke-linecap="round" stroke-linejoin="round"><path transform="translate(0,0)" d="M0,5A5,5 0 0 1 10,5C10,10 0,13 0,19H10"/><path transform="translate(13,0)" d="M0,5A5,5 0 0 1 10,5C10,10 0,13 0,19H10"/><path transform="translate(26,0)" d="M0,5A5,5 0 0 1 10,5V14A5,5 0 0 1 0,14Z"/><path transform="translate(39,0)" d="M0,5A5,5 0 0 1 10,5V14A5,5 0 0 1 0,14Z"/></g>
<g transform="translate(3909.5,2192.48) rotate(-90) scale(0.87,1) translate(-24.5,-19)" fill="none" stroke="#111" stroke-width="1.3" stroke-linecap="round" stroke-linejoin="round"><path transform="translate(0,0)" d="M8,19V0L0,13H10"/><path transform="translate(13,0)" d="M9,2C7,0 0,-1 0,8V14A5,5 0 0 0 10,14A5,5 0 0 0 0,12"/><path transform="translate(26,0)" d="M0,5A5,5 0 0 1 10,5V14A5,5 0 0 1 0,14Z"/><path transform="translate(39,0)" d="M0,5A5,5 0 0 1 10,5V14A5,5 0 0 1 0,14Z"/></g>
<g transform="translate(3909.5,2347.34) rotate(-90) scale(0.87,1) translate(-18,-19)" fill="none" stroke="#111" stroke-width="1.3" stroke-linecap="round" stroke-linejoin="round"><path transform="translate(0,0)" d="M9,2C7,0 0,-1 0,8V14A5,5 0 0 0 10,14A5,5 0 0 0 0,12"/><path transform="translate(13,0)" d="M0,5A5,5 0 0 1 10,5V14A5,5 0 0 1 0,14Z"/><path transform="translate(26,0)" d="M0,5A5,5 0 0 1 10,5V14A5,5 0 0 1 0,14Z"/></g>
<polyline points="3963.2,1364.6 3963.2,2365.21" fill="none" stroke="#62ff1a" stroke-width="1.2"/>
<polyline points="3960.23,1361.63 3966.17,1367.57" fill="none" stroke="#62ff1a" stroke-width="3"/>
<polyline points="3960.23,2362.24 3966.17,2368.18" fill="none" stroke="#62ff1a" stroke-width="3"/>
<g transform="translate(3956.7,1864.9) rotate(-90) scale(0.87,1) translate(-30.5,-19)" fill="none" stroke="#111" stroke-width="1.3" stroke-linecap="round" stroke-linejoin="round"><path transform="translate(0,0)" d="M2,4L6,0V19"/><path transform="translate(12,0)" d="M9,2C7,0 0,-1 0,8V14A5,5 0 0 0 10,14A5,5 0 0 0 0,12"/><path transform="translate(25,0)" d="M5,9A4.5,4.5 0 1 1 5,0A4.5,4.5 0 1 1 5,9A5,5 0 1 1 5,19A5,5 0 1 1 5,9"/><path transform="translate(38,0)" d="M0,5A5,5 0 0 1 10,5V14A5,5 0 0 1 0,14Z"/><path transform="translate(51,0)" d="M0,5A5,5 0 0 1 10,5V14A5,5 0 0 1 0,14Z"/></g>
<circle cx="3918.4" cy="1218" r="23.7" fill="none" stroke="#62ff1a" stroke-width="1.2"/>
<text transform="translate(3918.4,1231.73) rotate(0) scale(0.318,1)" font-size="41" fill="#111" text-anchor="middle" font-family="Liberation Serif" font-weight="bold">8-BA</text>
<polyline points="3894.8,1213 3888,1205.6 3672.1,1305.6" fill="none" stroke="#62ff1a" stroke-width="1.2"/>
<circle cx="1885.1" cy="2831.5" r="23.7" fill="none" stroke="#62ff1a" stroke-width="1.2"/>
<text transform="translate(1885.1,2845.24) rotate(0) scale(0.344,1)" font-size="41" fill="#111" text-anchor="middle" font-family="Liberation Serif" font-weight="bold">8-C1</text>
<polyline points="1885.1,2566.7 1885.1,2807.8" fill="none" stroke="#62ff1a" stroke-width="1.2"/>
<circle cx="2016.13" cy="2831.5" r="23.7" fill="none" stroke="#62ff1a" stroke-width="1.2"/>
<text transform="translate(2016.13,2845.24) rotate(0) scale(0.344,1)" font-size="41" fill="#111" text-anchor="middle" font-family="Liberation Serif" font-weight="bold">8-C2</text>
<polyline points="2016.13,2566.7 2016.13,2807.8" fill="none" stroke="#62ff1a" stroke-width="1.2"/>
<circle cx="2093.56" cy="2831.5" r="23.7" fill="none" stroke="#62ff1a" stroke-width="1.2"/>
<text transform="translate(2093.56,2845.24) rotate(0) scale(0.344,1)" font-size="41" fill="#111" text-anchor="middle" font-family="Liberation Serif" font-weight="bold">8-C3</text>
<polyline points="2093.56,2566.7 2093.56,2807.8" fill="none" stroke="#62ff1a" stroke-width="1.2"/>
<circle cx="2206.05" cy="2831.5" r="23.7" fill="none" stroke="#62ff1a" stroke-width="1.2"/>
<text transform="translate(2206.05,2845.24) rotate(0) scale(0.344,1)" font-size="41" fill="#111" text-anchor="middle" font-family="Liberation Serif" font-weight="bold">8-C4</text>
<polyline points="2230.55,2566.7 2230.55,2807.8 2221.97,2816" fill="none" stroke="#62ff1a" stroke-width="1.2"/>
<circle cx="2296.74" cy="2831.5" r="23.7" fill="none" stroke="#62ff1a" stroke-width="1.2"/>
<text transform="translate(2296.74,2845.24) rotate(0) scale(0.344,1)" font-size="41" fill="#111" text-anchor="middle" font-family="Liberation Serif" font-weight="bold">8-C5</text>
<polyline points="2272.24,2566.7 2272.24,2807.8 2280.81,2816" fill="none" stroke="#62ff1a" stroke-width="1.2"/>
<circle cx="2391.36" cy="2831.5" r="23.7" fill="none" stroke="#62ff1a" stroke-width="1.2"/>
<text transform="translate(2391.36,2845.24) rotate(0) scale(0.344,1)" font-size="41" fill="#111" text-anchor="middle" font-family="Liberation Serif" font-weight="bold">8-C6</text>
<polyline points="2391.36,2566.7 2391.36,2807.8" fill="none" stroke="#62ff1a" stroke-width="1.2"/>
<circle cx="2462.16" cy="2831.5" r="23.7" fill="none" stroke="#62ff1a" stroke-width="1.2"/>
<text transform="translate(2462.16,2845.24) rotate(0) scale(0.344,1)" font-size="41" fill="#111" text-anchor="middle" font-family="Liberation Serif" font-weight="bold">8-C7</text>
<polyline points="2486.66,2566.7 2486.66,2807.8 2478.08,2816" fill="none" stroke="#62ff1a" stroke-width="1.2"/>
<circle cx="2540.94" cy="2831.5" r="23.7" fill="none" stroke="#62ff1a" stroke-width="1.2"/>
<text transform="translate(2540.94,2845.24) rotate(0) scale(0.344,1)" font-size="41" fill="#111" text-anchor="middle" font-family="Liberation Serif" font-weight="bold">8-C8</text>
<polyline points="2516.44,2566.7 2516.44,2807.8 2525.01,2816" fill="none" stroke="#62ff1a" stroke-width="1.2"/>
<circle cx="2634.88" cy="2831.5" r="23.7" fill="none" stroke="#62ff1a" stroke-width="1.2"/>
<text transform="translate(2634.88,2845.24) rotate(0) scale(0.344,1)" font-size="41" fill="#111" text-anchor="middle" font-family="Liberation Serif" font-weight="bold">8-C9</text>
<polyline points="2659.38,2566.7 2659.38,2807.8 2650.8,2816" fill="none" stroke="#62ff1a" stroke-width="1.2"/>
<circle cx="2701.07" cy="2831.5" r="23.7" fill="none" stroke="#62ff1a" stroke-width="1.2"/>
<text transform="translate(2701.07,2845.24) rotate(0) scale(0.315,1)" font-size="41" fill="#111" text-anchor="middle" font-family="Liberation Serif" font-weight="bold">8-C10</text>
<polyline points="2701.07,2566.7 2701.07,2807.8" fill="none" stroke="#62ff1a" stroke-width="1.2"/>
<circle cx="2773.22" cy="2831.5" r="23.7" fill="none" stroke="#62ff1a" stroke-width="1.2"/>
<text transform="translate(2773.22,2845.24) rotate(0) scale(0.315,1)" font-size="41" fill="#111" text-anchor="middle" font-family="Liberation Serif" font-weight="bold">8-C11</text>
<polyline points="2748.72,2566.7 2748.72,2807.8 2757.29,2816" fill="none" stroke="#62ff1a" stroke-width="1.2"/>
<circle cx="2879.75" cy="2831.5" r="23.7" fill="none" stroke="#62ff1a" stroke-width="1.2"/>
<text transform="translate(2879.75,2845.24) rotate(0) scale(0.315,1)" font-size="41" fill="#111" text-anchor="middle" font-family="Liberation Serif" font-weight="bold">8-C12</text>
<polyline points="2879.75,2566.7 2879.75,2807.8" fill="none" stroke="#62ff1a" stroke-width="1.2"/>
<circle cx="2957.18" cy="2831.5" r="23.7" fill="none" stroke="#62ff1a" stroke-width="1.2"/>
<text transform="translate(2957.18,2845.24) rotate(0) scale(0.315,1)" font-size="41" fill="#111" text-anchor="middle" font-family="Liberation Serif" font-weight="bold">8-C13</text>
<polyline points="2957.18,2566.7 2957.18,2807.8" fill="none" stroke="#62ff1a" stroke-width="1.2"/>
<circle cx="3088.21" cy="2831.5" r="23.7" fill="none" stroke="#62ff1a" stroke-width="1.2"/>
<text transform="translate(3088.21,2845.24) rotate(0) scale(0.315,1)" font-size="41" fill="#111" text-anchor="middle" font-family="Liberation Serif" font-weight="bold">8-C14</text>
<polyline points="3088.21,2566.7 3088.21,2807.8" fill="none" stroke="#62ff1a" stroke-width="1.2"/>
<polyline points="1885.1,2718.4 3088.21,2718.4" fill="none" stroke="#62ff1a" stroke-width="1.2"/>
<polyline points="1882.13,2721.37 1888.07,2715.43" fill="none" stroke="#62ff1a" stroke-width="3"/>
<polyline points="2013.16,2721.37 2019.1,2715.43" fill="none" stroke="#62ff1a" stroke-width="3"/>
<polyline points="2090.59,2721.37 2096.53,2715.43" fill="none" stroke="#62ff1a" stroke-width="3"/>
<polyline points="2227.58,2721.37 2233.52,2715.43" fill="none" stroke="#62ff1a" stroke-width="3"/>
<polyline points="2269.27,2721.37 2275.21,2715.43" fill="none" stroke="#62ff1a" stroke-width="3"/>
<polyline points="2388.39,2721.37 2394.33,2715.43" fill="none" stroke="#62ff1a" stroke-width="3"/>
<polyline points="2483.69,2721.37 2489.63,2715.43" fill="none" stroke="#62ff1a" stroke-width="3"/>
<polyline points="2513.47,2721.37 2519.41,2715.43" fill="none" stroke="#62ff1a" stroke-width="3"/>
<polyline points="2656.41,2721.37 2662.35,2715.43" fill="none" stroke="#62ff1a" stroke-width="3"/>
<polyline points="2698.1,2721.37 2704.04,2715.43" fill="none" stroke="#62ff1a" stroke-width="3"/>
<polyline points="2745.75,2721.37 2751.69,2715.43" fill="none" stroke="#62ff1a" stroke-width="3"/>
<polyline points="2876.78,2721.37 2882.72,2715.43" fill="none" stroke="#62ff1a" stroke-width="3"/>
<polyline points="2954.21,2721.37 2960.15,2715.43" fill="none" stroke="#62ff1a" stroke-width="3"/>
<polyline points="3085.24,2721.37 3091.18,2715.43" fill="none" stroke="#62ff1a" stroke-width="3"/>
<g transform="translate(1950.62,2711.9) rotate(0) scale(0.87,1) translate(-24.5,-19)" fill="none" stroke="#111" stroke-width="1.3" stroke-linecap="round" stroke-linejoin="round"><path transform="translate(0,0)" d="M0,5A5,5 0 0 1 10,5C10,10 0,13 0,19H10"/><path transform="translate(13,0)" d="M0,5A5,5 0 0 1 10,5C10,10 0,13 0,19H10"/><path transform="translate(26,0)" d="M0,5A5,5 0 0 1 10,5V14A5,5 0 0 1 0,14Z"/><path transform="translate(39,0)" d="M0,5A5,5 0 0 1 10,5V14A5,5 0 0 1 0,14Z"/></g>
<g transform="translate(2054.85,2711.9) rotate(0) scale(0.87,1) translate(-24,-19)" fill="none" stroke="#111" stroke-width="1.3" stroke-linecap="round" stroke-linejoin="round"><path transform="translate(0,0)" d="M2,4L6,0V19"/><path transform="translate(12,0)" d="M0,4A5,4.5 0 1 1 5,9A5,5 0 1 1 0,15"/><path transform="translate(25,0)" d="M0,5A5,5 0 0 1 10,5V14A5,5 0 0 1 0,14Z"/><path transform="translate(38,0)" d="M0,5A5,5 0 0 1 10,5V14A5,5 0 0 1 0,14Z"/></g>
<g transform="translate(2162.05,2711.9) rotate(0) scale(0.87,1) translate(-24.5,-19)" fill="none" stroke="#111" stroke-width="1.3" stroke-linecap="round" stroke-linejoin="round"><path transform="translate(0,0)" d="M0,5A5,5 0 0 1 10,5C10,10 0,13 0,19H10"/><path transform="translate(13,0)" d="M0,4A5,4.5 0 1 1 5,9A5,5 0 1 1 0,15"/><path transform="translate(26,0)" d="M0,5A5,5 0 0 1 10,5V14A5,5 0 0 1 0,14Z"/><path transform="translate(39,0)" d="M0,5A5,5 0 0 1 10,5V14A5,5 0 0 1 0,14Z"/></g>
<g transform="translate(2251.39,2711.9) rotate(0) scale(0.87,1) translate(-18,-19)" fill="none" stroke="#111" stroke-width="1.3" stroke-linecap="round" stroke-linejoin="round"><path transform="translate(0,0)" d="M0,0H10L3,19"/><path transform="translate(13,0)" d="M0,5A5,5 0 0 1 10,5V14A5,5 0 0 1 0,14Z"/><path transform="translate(26,0)" d="M0,5A5,5 0 0 1 10,5V14A5,5 0 0 1 0,14Z"/></g>
<g transform="translate(2331.8,2711.9) rotate(0) scale(0.87,1) translate(-24.5,-19)" fill="none" stroke="#111" stroke-width="1.3" stroke-linecap="round" stroke-linejoin="round"><path transform="translate(0,0)" d="M0,5A5,5 0 0 1 10,5C10,10 0,13 0,19H10"/><path transform="translate(13,0)" d="M0,5A5,5 0 0 1 10,5V14A5,5 0 0 1 0,14Z"/><path transform="translate(26,0)" d="M0,5A5,5 0 0 1 10,5V14A5,5 0 0 1 0,14Z"/><path transform="translate(39,0)" d="M0,5A5,5 0 0 1 10,5V14A5,5 0 0 1 0,14Z"/></g>
<g transform="translate(2439.01,2711.9) rotate(0) scale(0.87,1) translate(-24,-19)" fill="none" stroke="#111" stroke-width="1.3" stroke-linecap="round" stroke-linejoin="round"><path transform="translate(0,0)" d="M2,4L6,0V19"/><path transform="translate(12,0)" d="M9,2C7,0 0,-1 0,8V14A5,5 0 0 0 10,14A5,5 0 0 0 0,12"/><path transform="translate(25,0)" d="M0,5A5,5 0 0 1 10,5V14A5,5 0 0 1 0,14Z"/><path transform="translate(38,0)" d="M0,5A5,5 0 0 1 10,5V14A5,5 0 0 1 0,14Z"/></g>
<g transform="translate(2501.55,2711.9) rotate(0) scale(0.87,1) translate(-18,-19)" fill="none" stroke="#111" stroke-width="1.3" stroke-linecap="round" stroke-linejoin="round"><path transform="translate(0,0)" d="M9,0H1L0,8C3,6 10,6 10,13A5,5.5 0 0 1 0,15"/><path transform="translate(13,0)" d="M0,5A5,5 0 0 1 10,5V14A5,5 0 0 1 0,14Z"/><path transform="translate(26,0)" d="M0,5A5,5 0 0 1 10,5V14A5,5 0 0 1 0,14Z"/></g>
<g transform="translate(2587.91,2711.9) rotate(0) scale(0.87,1) translate(-24.5,-19)" fill="none" stroke="#111" stroke-width="1.3" stroke-linecap="round" stroke-linejoin="round"><path transform="translate(0,0)" d="M0,5A5,5 0 0 1 10,5C10,10 0,13 0,19H10"/><path transform="translate(13,0)" d="M8,19V0L0,13H10"/><path transform="translate(26,0)" d="M0,5A5,5 0 0 1 10,5V14A5,5 0 0 1 0,14Z"/><path transform="translate(39,0)" d="M0,5A5,5 0 0 1 10,5V14A5,5 0 0 1 0,14Z"/></g>
<g transform="translate(2680.23,2711.9) rotate(0) scale(0.87,1) translate(-18,-19)" fill="none" stroke="#111" stroke-width="1.3" stroke-linecap="round" stroke-linejoin="round"><path transform="translate(0,0)" d="M0,0H10L3,19"/><path transform="translate(13,0)" d="M0,5A5,5 0 0 1 10,5V14A5,5 0 0 1 0,14Z"/><path transform="translate(26,0)" d="M0,5A5,5 0 0 1 10,5V14A5,5 0 0 1 0,14Z"/></g>
<g transform="translate(2724.9,2711.9) rotate(0) scale(0.87,1) translate(-18,-19)" fill="none" stroke="#111" stroke-width="1.3" stroke-linecap="round" stroke-linejoin="round"><path transform="translate(0,0)" d="M5,9A4.5,4.5 0 1 1 5,0A4.5,4.5 0 1 1 5,9A5,5 0 1 1 5,19A5,5 0 1 1 5,9"/><path transform="translate(13,0)" d="M0,5A5,5 0 0 1 10,5V14A5,5 0 0 1 0,14Z"/><path transform="translate(26,0)" d="M0,5A5,5 0 0 1 10,5V14A5,5 0 0 1 0,14Z"/></g>
<g transform="translate(2814.24,2711.9) rotate(0) scale(0.87,1) translate(-24.5,-19)" fill="none" stroke="#111" stroke-width="1.3" stroke-linecap="round" stroke-linejoin="round"><path transform="translate(0,0)" d="M0,5A5,5 0 0 1 10,5C10,10 0,13 0,19H10"/><path transform="translate(13,0)" d="M0,5A5,5 0 0 1 10,5C10,10 0,13 0,19H10"/><path transform="translate(26,0)" d="M0,5A5,5 0 0 1 10,5V14A5,5 0 0 1 0,14Z"/><path transform="translate(39,0)" d="M0,5A5,5 0 0 1 10,5V14A5,5 0 0 1 0,14Z"/></g>
<g transform="translate(2918.47,2711.9) rotate(0) scale(0.87,1) translate(-24,-19)" fill="none" stroke="#111" stroke-width="1.3" stroke-linecap="round" stroke-linejoin="round"><path transform="translate(0,0)" d="M2,4L6,0V19"/><path transform="translate(12,0)" d="M0,4A5,4.5 0 1 1 5,9A5,5 0 1 1 0,15"/><path transform="translate(25,0)" d="M0,5A5,5 0 0 1 10,5V14A5,5 0 0 1 0,14Z"/><path transform="translate(38,0)" d="M0,5A5,5 0 0 1 10,5V14A5,5 0 0 1 0,14Z"/></g>
<g transform="translate(3022.7,2711.9) rotate(0) scale(0.87,1) translate(-24.5,-19)" fill="none" stroke="#111" stroke-width="1.3" stroke-linecap="round" stroke-linejoin="round"><path transform="translate(0,0)" d="M0,5A5,5 0 0 1 10,5C10,10 0,13 0,19H10"/><path transform="translate(13,0)" d="M0,5A5,5 0 0 1 10,5C10,10 0,13 0,19H10"/><path transform="translate(26,0)" d="M0,5A5,5 0 0 1 10,5V14A5,5 0 0 1 0,14Z"/><path transform="translate(39,0)" d="M0,5A5,5 0 0 1 10,5V14A5,5 0 0 1 0,14Z"/></g>
<polyline points="1885.1,2766.8 3088.21,2766.8" fill="none" stroke="#62ff1a" stroke-width="1.2"/>
<polyline points="1882.13,2769.77 1888.07,2763.83" fill="none" stroke="#62ff1a" stroke-width="3"/>
<polyline points="3085.24,2769.77 3091.18,2763.83" fill="none" stroke="#62ff1a" stroke-width="3"/>
<g transform="translate(2487,2759.5) rotate(0) scale(0.87,1) translate(-31,-19)" fill="none" stroke="#111" stroke-width="1.3" stroke-linecap="round" stroke-linejoin="round"><path transform="translate(0,0)" d="M0,5A5,5 0 0 1 10,5C10,10 0,13 0,19H10"/><path transform="translate(13,0)" d="M0,5A5,5 0 0 1 10,5V14A5,5 0 0 1 0,14Z"/><path transform="translate(26,0)" d="M0,5A5,5 0 0 1 10,5C10,10 0,13 0,19H10"/><path transform="translate(39,0)" d="M0,5A5,5 0 0 1 10,5V14A5,5 0 0 1 0,14Z"/><path transform="translate(52,0)" d="M0,5A5,5 0 0 1 10,5V14A5,5 0 0 1 0,14Z"/></g>
<polyline points="2543.6,2459 2543.6,2524.6 2497.6,2524.6" fill="none" stroke="#62ff1a" stroke-width="4"/>
<text transform="translate(2498,2513) rotate(0) scale(0.8,1)" font-size="40" fill="#111" text-anchor="middle" font-family="Liberation Serif" font-weight="normal">1</text>
<polyline points="2374,2962.3 2684,2962.3" fill="none" stroke="#62ff1a" stroke-width="5"/>
<polyline points="2374,2970.6 2684,2970.6" fill="none" stroke="#62ff1a" stroke-width="1"/>
<polygon points="1848.4,875.2 1972.7,933 1967.63,943.876 1843.33,886.076" fill="none" stroke="#62ff1a" stroke-width="1"/>
<polyline points="1847.13,877.919 1971.43,935.719" fill="none" stroke="#62ff1a" stroke-width="1"/>
<polyline points="1847.13,877.919 1853.69,890.892" fill="none" stroke="#62ff1a" stroke-width="0.8"/>
<polyline points="1857.49,882.736 1864.05,895.709" fill="none" stroke="#62ff1a" stroke-width="0.8"/>
<polyline points="1867.85,887.552 1874.4,900.526" fill="none" stroke="#62ff1a" stroke-width="0.8"/>
<polyline points="1878.21,892.369 1884.76,905.342" fill="none" stroke="#62ff1a" stroke-width="0.8"/>
<polyline points="1888.57,897.186 1895.12,910.159" fill="none" stroke="#62ff1a" stroke-width="0.8"/>
<polyline points="1898.92,902.002 1905.48,914.976" fill="none" stroke="#62ff1a" stroke-width="0.8"/>
<polyline points="1909.28,906.819 1915.84,919.792" fill="none" stroke="#62ff1a" stroke-width="0.8"/>
<polyline points="1919.64,911.636 1926.2,924.609" fill="none" stroke="#62ff1a" stroke-width="0.8"/>
<polyline points="1930,916.452 1936.55,929.426" fill="none" stroke="#62ff1a" stroke-width="0.8"/>
<polyline points="1940.36,921.269 1946.91,934.242" fill="none" stroke="#62ff1a" stroke-width="0.8"/>
<polyline points="1950.72,926.086 1957.27,939.059" fill="none" stroke="#62ff1a" stroke-width="0.8"/>
<polyline points="1961.07,930.902 1967.63,943.876" fill="none" stroke="#62ff1a" stroke-width="0.8"/>
<polyline points="1806,986 1848.5,895.7 1968.5,945.6" fill="none" stroke="#62ff1a" stroke-width="1"/>
<polyline points="1823.2,902.1 1837.9,869.8 1848.4,874.7" fill="none" stroke="#f0a0e8" stroke-width="1" stroke-dasharray="2,2"/>
<polygon points="2040.1,820.8 2143.8,868.5 2142.45,871.4 2038.75,823.7" fill="none" stroke="#ff6a2a" stroke-width="1"/>
<polygon points="2004.7,898.4 2107.8,946.1 2106.45,949 2003.35,901.3" fill="none" stroke="#ff6a2a" stroke-width="1"/>
<polyline points="2043.2,825.4 2009.3,897.8" fill="none" stroke="#ff6a2a" stroke-width="1.2"/>
<polyline points="2056.2,875.7 2111.7,901.8" fill="none" stroke="#62ff1a" stroke-width="1"/>
<polygon points="2056.2,875.7 2073.5,881.5 2072.3,884.2" fill="#62ff1a"/>
<text transform="translate(2088,888) rotate(25) scale(0.55,1)" font-size="25" fill="#111" text-anchor="middle" font-family="Liberation Serif" font-weight="normal">1:12</text>
<circle cx="1921.6" cy="769.1" r="30" fill="none" stroke="#62ff1a" stroke-width="1.2"/>
<polyline points="1891.6,769.1 2037,769.1 2057,828.5" fill="none" stroke="#62ff1a" stroke-width="1.2"/>
<g transform="translate(1921.6,765.9) rotate(0) scale(2.44737,0.978947) translate(-5,-19)" fill="none" stroke="#111" stroke-width="1.53226" stroke-linecap="round" stroke-linejoin="round"><path transform="translate(0,0)" d="M9,0H1L0,8C3,6 10,6 10,13A5,5.5 0 0 1 0,15"/></g>
<g transform="translate(1921.6,791.5) rotate(0) scale(2.44737,0.978947) translate(-5,-19)" fill="none" stroke="#111" stroke-width="1.53226" stroke-linecap="round" stroke-linejoin="round"><path transform="translate(0,0)" d="M5,9A4.5,4.5 0 1 1 5,0A4.5,4.5 0 1 1 5,9A5,5 0 1 1 5,19A5,5 0 1 1 5,9"/></g>
<circle cx="1897.9" cy="840.8" r="30" fill="none" stroke="#62ff1a" stroke-width="1.2"/>
<polyline points="1867.9,840.8 2012.4,840.8 2040.8,883.2" fill="none" stroke="#62ff1a" stroke-width="1.2"/>
<g transform="translate(1897.9,837.6) rotate(0) scale(2.44737,0.978947) translate(-5,-19)" fill="none" stroke="#111" stroke-width="1.53226" stroke-linecap="round" stroke-linejoin="round"><path transform="translate(0,0)" d="M8,19V0L0,13H10"/></g>
<g transform="translate(1897.9,863.2) rotate(0) scale(2.44737,0.978947) translate(-5,-19)" fill="none" stroke="#111" stroke-width="1.53226" stroke-linecap="round" stroke-linejoin="round"><path transform="translate(0,0)" d="M1,17C3,19 10,20 10,11V5A5,5 0 0 0 0,5A5,5 0 0 0 10,7"/></g>
<g transform="translate(1981.5,793) rotate(0) scale(0.596842,0.947368) translate(-43.5,-19)" fill="none" stroke="#111" stroke-width="1.58333" stroke-linecap="round" stroke-linejoin="round"><path transform="translate(0,0)" d="M0,5A5,5 0 0 1 10,5V14A5,5 0 0 1 0,14Z"/><path transform="translate(13,0)" d="M9,0H1L0,8C3,6 10,6 10,13A5,5.5 0 0 1 0,15"/><path transform="translate(26,0)" d="M0,0H10L0,19H10"/><path transform="translate(39,0)" d="M8,0V14A4,5 0 0 1 0,14"/><path transform="translate(52,0)" d="M0,4A5,4.5 0 1 1 5,9A5,5 0 1 1 0,15"/><path transform="translate(65,0)" d="M0,5A5,5 0 0 1 10,5V14A5,5 0 0 1 0,14Z"/><path transform="translate(78,0)" d="M2,4L6,0V19"/></g>
<g transform="translate(1958.5,865.5) rotate(0) scale(0.596842,0.947368) translate(-43.5,-19)" fill="none" stroke="#111" stroke-width="1.58333" stroke-linecap="round" stroke-linejoin="round"><path transform="translate(0,0)" d="M0,5A5,5 0 0 1 10,5V14A5,5 0 0 1 0,14Z"/><path transform="translate(13,0)" d="M9,0H1L0,8C3,6 10,6 10,13A5,5.5 0 0 1 0,15"/><path transform="translate(26,0)" d="M0,0H10L0,19H10"/><path transform="translate(39,0)" d="M8,0V14A4,5 0 0 1 0,14"/><path transform="translate(52,0)" d="M0,4A5,4.5 0 1 1 5,9A5,5 0 1 1 0,15"/><path transform="translate(65,0)" d="M0,5A5,5 0 0 1 10,5V14A5,5 0 0 1 0,14Z"/><path transform="translate(78,0)" d="M2,4L6,0V19"/></g>
<g transform="translate(28,2574) rotate(0) scale(0.0579,0.1244)" fill="#111"><use href="#s8bf4" x="0"/><use href="#s660e" x="250"/></g><g transform="translate(56.9535,2574) rotate(0) scale(1.29236,1.47368) translate(0,-19)" fill="none" stroke="#111" stroke-width="0.95" stroke-linecap="round" stroke-linejoin="round"><path transform="translate(0,0)" d="M4,6V7M4,17V18"/></g>
<g transform="translate(20,2650) rotate(0) scale(1.6105,1.68421) translate(0,-19)" fill="none" stroke="#111" stroke-width="0.83125" stroke-linecap="round" stroke-linejoin="round"><path transform="translate(0,0)" d="M2,4L6,0V19"/><path transform="translate(12,0)" d="M4,18V19"/></g><g transform="translate(50.5996,2650) rotate(0) scale(0.0722,0.1422)" fill="#111"><use href="#s672a" x="0"/><use href="#s6807" x="250"/><use href="#s660e" x="500"/><use href="#s7684" x="750"/><use href="#s95e8" x="1000"/><use href="#s579b" x="1250"/><use href="#s4e00" x="1500"/><use href="#s5f8b" x="1750"/><use href="#s4e3a" x="2000"/></g><g transform="translate(212.965,2650) rotate(0) scale(1.6105,1.68421) translate(0,-19)" fill="none" stroke="#111" stroke-width="0.83125" stroke-linecap="round" stroke-linejoin="round"><path transform="translate(0,0)" d="M2,4L6,0V19"/><path transform="translate(12,0)" d="M0,5A5,5 0 0 1 10,5V14A5,5 0 0 1 0,14Z"/><path transform="translate(25,0)" d="M0,5A5,5 0 0 1 10,5V14A5,5 0 0 1 0,14Z"/><path transform="translate(38,0)" d="M4,17L3,21"/></g><g transform="translate(285.437,2650) rotate(0) scale(0.0722,0.1422)" fill="#111"><use href="#s9047" x="0"/><use href="#s67f1" x="250"/><use href="#s8d34" x="500"/><use href="#s67f1" x="750"/><use href="#s8fb9" x="1000"/></g><g transform="translate(375.64,2650) rotate(0) scale(1.6105,1.68421) translate(0,-19)" fill="none" stroke="#111" stroke-width="0.83125" stroke-linecap="round" stroke-linejoin="round"><path transform="translate(0,0)" d="M4,6V7M4,17L3,21"/></g><g transform="translate(386.914,2650) rotate(0) scale(0.0722,0.1422)" fill="#111"><use href="#s56fe" x="0"/><use href="#s4e2d" x="250"/></g><g transform="translate(422.995,2650) rotate(0) scale(1.6105,1.68421) translate(0,-19)" fill="none" stroke="#111" stroke-width="0.83125" stroke-linecap="round" stroke-linejoin="round"><path transform="translate(0,0)" d="M10,4A5,5 0 0 0 0,5V14A5,5 0 0 0 10,14V10H5"/><path transform="translate(13,0)" d="M0,0H10L0,19H10"/></g><g transform="translate(471.31,2650) rotate(0) scale(0.0722,0.1422)" fill="#111"><use href="#s4e3a" x="0"/><use href="#s6784" x="250"/><use href="#s9020" x="500"/><use href="#s67f1" x="750"/><use href="#s5c3a" x="1000"/><use href="#s5bf8" x="1250"/><use href="#s5982" x="1500"/><use href="#s4e0b" x="1750"/><use href="#sff0c" x="2000"/><use href="#s914d" x="2250"/><use href="#s7b4b" x="2500"/><use href="#s8be6" x="2750"/><use href="#s7ed3" x="3000"/><use href="#s6784" x="3250"/><use href="#s65bd" x="3500"/><use href="#s5de5" x="3750"/><use href="#s56fe" x="4000"/></g>
<g transform="translate(20,2703) rotate(0) scale(1.60907,1.68421) translate(0,-19)" fill="none" stroke="#111" stroke-width="0.83125" stroke-linecap="round" stroke-linejoin="round"><path transform="translate(0,0)" d="M0,5A5,5 0 0 1 10,5C10,10 0,13 0,19H10"/><path transform="translate(13,0)" d="M4,18V19"/></g><g transform="translate(52.1815,2703) rotate(0) scale(0.0721,0.1422)" fill="#111"><use href="#s5916" x="0"/><use href="#s5899" x="250"/><use href="#s3001" x="500"/><use href="#s5206" x="750"/><use href="#s6237" x="1000"/><use href="#s5899" x="1250"/><use href="#s53ca" x="1500"/><use href="#s68af" x="1750"/><use href="#s95f4" x="2000"/><use href="#s5899" x="2250"/><use href="#s4e3a" x="2500"/></g><g transform="translate(250.452,2703) rotate(0) scale(1.60907,1.68421) translate(0,-19)" fill="none" stroke="#111" stroke-width="0.83125" stroke-linecap="round" stroke-linejoin="round"><path transform="translate(0,0)" d="M0,5A5,5 0 0 1 10,5C10,10 0,13 0,19H10"/><path transform="translate(13,0)" d="M0,5A5,5 0 0 1 10,5V14A5,5 0 0 1 0,14Z"/><path transform="translate(26,0)" d="M0,5A5,5 0 0 1 10,5V14A5,5 0 0 1 0,14Z"/><path transform="translate(39,0)" d="M4,17L3,21"/></g><g transform="translate(324.469,2703) rotate(0) scale(0.0721,0.1422)" fill="#111"><use href="#s5176" x="0"/><use href="#s4f59" x="250"/><use href="#s95f4" x="500"/><use href="#s5899" x="750"/><use href="#s4e3a" x="1000"/></g><g transform="translate(414.592,2703) rotate(0) scale(1.60907,1.68421) translate(0,-19)" fill="none" stroke="#111" stroke-width="0.83125" stroke-linecap="round" stroke-linejoin="round"><path transform="translate(0,0)" d="M2,4L6,0V19"/><path transform="translate(12,0)" d="M0,5A5,5 0 0 1 10,5V14A5,5 0 0 1 0,14Z"/><path transform="translate(25,0)" d="M0,5A5,5 0 0 1 10,5V14A5,5 0 0 1 0,14Z"/><path transform="translate(38,0)" d="M4,6V7M4,17L3,21"/></g>
<g transform="translate(17.5,2756) rotate(0) scale(1.6141,1.68421) translate(0,-19)" fill="none" stroke="#111" stroke-width="0.83125" stroke-linecap="round" stroke-linejoin="round"><path transform="translate(0,0)" d="M0,4A5,4.5 0 1 1 5,9A5,5 0 1 1 0,15"/><path transform="translate(13,0)" d="M4,18V19"/></g><g transform="translate(49.7821,2756) rotate(0) scale(0.0723,0.1422)" fill="#111"><use href="#s6240" x="0"/><use href="#s6709" x="250"/><use href="#s7ba1" x="500"/><use href="#s4e95" x="750"/><use href="#s9664" x="1000"/><use href="#s70df" x="1250"/><use href="#s56f1" x="1500"/></g><g transform="translate(176.348,2756) rotate(0) scale(1.6141,1.68421) translate(0,-19)" fill="none" stroke="#111" stroke-width="0.83125" stroke-linecap="round" stroke-linejoin="round"><path transform="translate(0,0)" d="M4,18V19"/></g><g transform="translate(187.647,2756) rotate(0) scale(0.0723,0.1422)" fill="#111"><use href="#s6392" x="0"/><use href="#s98ce" x="250"/><use href="#s4e95" x="500"/><use href="#s5916" x="750"/></g><g transform="translate(259.971,2756) rotate(0) scale(1.6141,1.68421) translate(0,-19)" fill="none" stroke="#111" stroke-width="0.83125" stroke-linecap="round" stroke-linejoin="round"><path transform="translate(0,0)" d="M4,17L3,21"/></g><g transform="translate(271.269,2756) rotate(0) scale(0.0723,0.1422)" fill="#111"><use href="#s9700" x="0"/><use href="#s9884" x="250"/><use href="#s7559" x="500"/><use href="#s94a2" x="750"/><use href="#s7b4b" x="1000"/><use href="#s5f85" x="1250"/><use href="#s7ba1" x="1500"/><use href="#s9053" x="1750"/><use href="#s5b89" x="2000"/><use href="#s88c5" x="2250"/><use href="#s540e" x="2500"/></g><g transform="translate(470.159,2756) rotate(0) scale(1.6141,1.68421) translate(0,-19)" fill="none" stroke="#111" stroke-width="0.83125" stroke-linecap="round" stroke-linejoin="round"><path transform="translate(0,0)" d="M4,17L3,21"/></g><g transform="translate(481.458,2756) rotate(0) scale(0.0723,0.1422)" fill="#111"><use href="#s6bcf" x="0"/><use href="#s5c42" x="250"/><use href="#s6d47" x="500"/><use href="#s94a2" x="750"/><use href="#s7b4b" x="1000"/><use href="#s6df7" x="1250"/><use href="#s51dd" x="1500"/><use href="#s571f" x="1750"/><use href="#s677f" x="2000"/><use href="#s5c01" x="2250"/><use href="#s95ed" x="2500"/></g><g transform="translate(680.348,2756) rotate(0) scale(1.6141,1.68421) translate(0,-19)" fill="none" stroke="#111" stroke-width="0.83125" stroke-linecap="round" stroke-linejoin="round"><path transform="translate(0,0)" d="M4,17L3,21"/></g><g transform="translate(691.646,2756) rotate(0) scale(0.0723,0.1422)" fill="#111"><use href="#s7ba1" x="0"/><use href="#s9053" x="250"/><use href="#s4e95" x="500"/><use href="#s5747" x="750"/><use href="#s505a" x="1000"/><use href="#s505a" x="1250"/></g><g transform="translate(800.132,2756) rotate(0) scale(1.6141,1.68421) translate(0,-19)" fill="none" stroke="#111" stroke-width="0.83125" stroke-linecap="round" stroke-linejoin="round"><path transform="translate(0,0)" d="M0,4A5,4.5 0 1 1 5,9A5,5 0 1 1 0,15"/><path transform="translate(13,0)" d="M0,5A5,5 0 0 1 10,5V14A5,5 0 0 1 0,14Z"/><path transform="translate(26,0)" d="M0,5A5,5 0 0 1 10,5V14A5,5 0 0 1 0,14Z"/></g><g transform="translate(869.538,2756) rotate(0) scale(0.0723,0.1422)" fill="#111"><use href="#s9ad8" x="0"/><use href="#s783c" x="250"/></g>
<g transform="translate(66,2811) rotate(0) scale(0.0684,0.1422)" fill="#111"><use href="#s95e8" x="0"/><use href="#s69db" x="250"/><use href="#s6c34" x="500"/><use href="#s7ba1" x="750"/><use href="#s4e95" x="1000"/><use href="#s5185" x="1250"/><use href="#s8bbe" x="1500"/><use href="#s5730" x="1750"/><use href="#s6f0f" x="2000"/><use href="#sff0c" x="2250"/><use href="#s5e76" x="2500"/><use href="#s4ee5" x="2750"/></g><g transform="translate(271.257,2811) rotate(0) scale(1.52696,1.68421) translate(0,-19)" fill="none" stroke="#111" stroke-width="0.83125" stroke-linecap="round" stroke-linejoin="round"><path transform="translate(0,0)" d="M4,7V19M4,1V2"/><path transform="translate(8,0)" d="M0,7H10M0,13H10"/><path transform="translate(21,0)" d="M2,4L6,0V19"/><path transform="translate(33,0)" d="M10,0L0,19M0,3A2,3 0 1 1 4,3A2,3 0 1 1 0,3M6,16A2,3 0 1 1 10,16A2,3 0 1 1 6,16"/><path transform="translate(46,0)" d="M4,18V19"/></g><g transform="translate(352.186,2811) rotate(0) scale(0.0684,0.1422)" fill="#111"><use href="#s627e" x="0"/><use href="#s5761" x="250"/><use href="#s3002" x="500"/></g>
<g transform="translate(20,2863) rotate(0) scale(1.59699,1.68421) translate(0,-19)" fill="none" stroke="#111" stroke-width="0.83125" stroke-linecap="round" stroke-linejoin="round"><path transform="translate(0,0)" d="M8,19V0L0,13H10"/></g><g transform="translate(40.7608,2863) rotate(0) scale(0.0716,0.1422)" fill="#111"><use href="#s3001" x="0"/><use href="#s5730" x="250"/><use href="#s4e0b" x="500"/><use href="#s5ba4" x="750"/><use href="#s51fa" x="1000"/><use href="#s5730" x="1250"/><use href="#s9762" x="1500"/><use href="#s98ce" x="1750"/><use href="#s4e95" x="2000"/><use href="#s53ca" x="2250"/><use href="#s82b1" x="2500"/><use href="#s56ed" x="2750"/><use href="#s5904" x="3000"/><use href="#s91c7" x="3250"/><use href="#s5149" x="3500"/><use href="#s4e95" x="3750"/><use href="#s5747" x="4000"/><use href="#s505a" x="4250"/><use href="#s9ad8" x="4500"/><use href="#s51fa" x="4750"/><use href="#s5b8c" x="5000"/><use href="#s6210" x="5250"/><use href="#s9762" x="5500"/></g><g transform="translate(452.211,2863) rotate(0) scale(1.59699,1.68421) translate(0,-19)" fill="none" stroke="#111" stroke-width="0.83125" stroke-linecap="round" stroke-linejoin="round"><path transform="translate(0,0)" d="M0,5A5,5 0 0 1 10,5C10,10 0,13 0,19H10"/><path transform="translate(13,0)" d="M0,5A5,5 0 0 1 10,5V14A5,5 0 0 1 0,14Z"/><path transform="translate(26,0)" d="M0,5A5,5 0 0 1 10,5V14A5,5 0 0 1 0,14Z"/></g><g transform="translate(520.882,2863) rotate(0) scale(0.0716,0.1422)" fill="#111"><use href="#s9ad8" x="0"/></g><g transform="translate(538.771,2863) rotate(0) scale(1.59699,1.68421) translate(0,-19)" fill="none" stroke="#111" stroke-width="0.83125" stroke-linecap="round" stroke-linejoin="round"><path transform="translate(0,0)" d="M0,5A5,5 0 0 1 10,5C10,10 0,13 0,19H10"/><path transform="translate(13,0)" d="M0,5A5,5 0 0 1 10,5V14A5,5 0 0 1 0,14Z"/><path transform="translate(26,0)" d="M0,5A5,5 0 0 1 10,5V14A5,5 0 0 1 0,14Z"/></g><g transform="translate(607.441,2863) rotate(0) scale(0.0716,0.1422)" fill="#111"><use href="#s5bbd" x="0"/><use href="#s6df7" x="250"/><use href="#s51dd" x="500"/><use href="#s571f" x="750"/><use href="#s53cd" x="1000"/><use href="#s6cbf" x="1250"/><use href="#s518d" x="1500"/><use href="#s780c" x="1750"/><use href="#s7816" x="2000"/><use href="#s6216" x="2250"/><use href="#s680f" x="2500"/><use href="#s6746" x="2750"/><use href="#s3002" x="3000"/></g>
<g transform="translate(24,2921) rotate(0) scale(1.71175,1.73684) translate(0,-19)" fill="none" stroke="#111" stroke-width="0.806061" stroke-linecap="round" stroke-linejoin="round"><path transform="translate(0,0)" d="M9,0H1L0,8C3,6 10,6 10,13A5,5.5 0 0 1 0,15"/></g><g transform="translate(46.2528,2921) rotate(0) scale(0.0767,0.1467)" fill="#111"><use href="#s3001" x="0"/><use href="#s536b" x="250"/><use href="#s751f" x="500"/><use href="#s95f4" x="750"/><use href="#s8e72" x="1000"/><use href="#s4f4d" x="1250"/><use href="#s505a" x="1500"/><use href="#s6cd5" x="1750"/><use href="#s53c2" x="2000"/><use href="#s89c1" x="2250"/></g>
<g transform="translate(306,2920) rotate(0) scale(1.34737,1.68421) translate(0,-19)" fill="none" stroke="#111" stroke-width="0.83125" stroke-linecap="round" stroke-linejoin="round"><path transform="translate(0,0)" d="M1,17C3,19 10,20 10,11V5A5,5 0 0 0 0,5A5,5 0 0 0 10,7"/><path transform="translate(13,0)" d="M5,9A4.5,4.5 0 1 1 5,0A4.5,4.5 0 1 1 5,9A5,5 0 1 1 5,19A5,5 0 1 1 5,9"/><path transform="translate(26,0)" d="M0,0H10L0,19H10"/><path transform="translate(39,0)" d="M8,0V14A4,5 0 0 1 0,14"/><path transform="translate(52,0)" d="M9,0H1L0,8C3,6 10,6 10,13A5,5.5 0 0 1 0,15"/><path transform="translate(65,0)" d="M2,4L6,0V19"/><path transform="translate(77,0)" d="M0,4A5,4.5 0 1 1 5,9A5,5 0 1 1 0,15"/></g>
<circle cx="470" cy="2904" r="32.5" fill="none" stroke="#62ff1a" stroke-width="1.2"/>
<polyline points="437.5,2904 502.5,2904" fill="none" stroke="#62ff1a" stroke-width="1.2"/>
<text transform="translate(470,2899) rotate(0) scale(1,1)" font-size="26" fill="#62ff1a" text-anchor="middle" font-family="Liberation Serif" font-weight="normal">2</text>
<text transform="translate(470,2929) rotate(0) scale(0.7,1)" font-size="26" fill="#62ff1a" text-anchor="middle" font-family="Liberation Serif" font-weight="normal">19</text>
<g transform="translate(26,2976) rotate(0) scale(1.63452,1.68421) translate(0,-19)" fill="none" stroke="#111" stroke-width="0.83125" stroke-linecap="round" stroke-linejoin="round"><path transform="translate(0,0)" d="M9,2C7,0 0,-1 0,8V14A5,5 0 0 0 10,14A5,5 0 0 0 0,12"/></g><g transform="translate(47.2488,2976) rotate(0) scale(0.0732,0.1422)" fill="#111"><use href="#s3001" x="0"/><use href="#s536b" x="250"/><use href="#s751f" x="500"/><use href="#s95f4" x="750"/></g><g transform="translate(120.487,2976) rotate(0) scale(1.63452,1.68421) translate(0,-19)" fill="none" stroke="#111" stroke-width="0.83125" stroke-linecap="round" stroke-linejoin="round"><path transform="translate(0,0)" d="M4,18V19"/></g><g transform="translate(131.929,2976) rotate(0) scale(0.0732,0.1422)" fill="#111"><use href="#s9633" x="0"/><use href="#s53f0" x="250"/></g><g transform="translate(168.548,2976) rotate(0) scale(1.63452,1.68421) translate(0,-19)" fill="none" stroke="#111" stroke-width="0.83125" stroke-linecap="round" stroke-linejoin="round"><path transform="translate(0,0)" d="M4,17L3,21"/></g><g transform="translate(179.99,2976) rotate(0) scale(0.0732,0.1422)" fill="#111"><use href="#s5916" x="0"/><use href="#s8d70" x="250"/><use href="#s5eca" x="500"/><use href="#s53ca" x="750"/><use href="#s5165" x="1000"/><use href="#s6237" x="1250"/><use href="#s82b1" x="1500"/><use href="#s56ed" x="1750"/><use href="#s5747" x="2000"/><use href="#s4ee5" x="2250"/></g><g transform="translate(363.086,2976) rotate(0) scale(1.63452,1.68421) translate(0,-19)" fill="none" stroke="#111" stroke-width="0.83125" stroke-linecap="round" stroke-linejoin="round"><path transform="translate(0,0)" d="M2,4L6,0V19"/><path transform="translate(12,0)" d="M10,0L0,19M0,3A2,3 0 1 1 4,3A2,3 0 1 1 0,3M6,16A2,3 0 1 1 10,16A2,3 0 1 1 6,16"/><path transform="translate(25,0)" d="M4,18V19"/></g><g transform="translate(415.391,2976) rotate(0) scale(0.0732,0.1422)" fill="#111"><use href="#s7684" x="0"/><use href="#s5761" x="250"/><use href="#s5ea6" x="500"/><use href="#s5761" x="750"/><use href="#s5411" x="1000"/><use href="#s5730" x="1250"/><use href="#s6f0f" x="1500"/></g><g transform="translate(543.558,2976) rotate(0) scale(1.63452,1.68421) translate(0,-19)" fill="none" stroke="#111" stroke-width="0.83125" stroke-linecap="round" stroke-linejoin="round"><path transform="translate(0,0)" d="M4,17L3,21"/></g>
<g transform="translate(66,3026) rotate(0) scale(0.0754,0.1422)" fill="#7fffd4"><use href="#l9633" x="0"/><use href="#l53f0" x="250"/></g><g transform="translate(103.683,3026) rotate(0) scale(1.682,1.68421) translate(0,-19)" fill="none" stroke="#7fffd4" stroke-width="0.59375" stroke-linecap="round" stroke-linejoin="round"><path transform="translate(0,0)" d="M4,17L3,21"/></g><g transform="translate(115.457,3026) rotate(0) scale(0.0754,0.1422)" fill="#7fffd4"><use href="#l5916" x="0"/><use href="#l8d70" x="250"/><use href="#l5eca" x="500"/><use href="#l53ca" x="750"/><use href="#l5165" x="1000"/><use href="#l6237" x="1250"/><use href="#l82b1" x="1500"/><use href="#l56ed" x="1750"/><use href="#l7ed3" x="2000"/><use href="#l6784" x="2250"/><use href="#l964d" x="2500"/><use href="#l677f" x="2750"/><use href="#l5747" x="3000"/><use href="#l4e3a" x="3250"/></g><g transform="translate(379.237,3026) rotate(0) scale(1.682,1.68421) translate(0,-19)" fill="none" stroke="#7fffd4" stroke-width="0.59375" stroke-linecap="round" stroke-linejoin="round"><path transform="translate(0,0)" d="M9,0H1L0,8C3,6 10,6 10,13A5,5.5 0 0 1 0,15"/><path transform="translate(13,0)" d="M0,5A5,5 0 0 1 10,5V14A5,5 0 0 1 0,14Z"/><path transform="translate(26,0)" d="M4,6V7M4,17L3,21"/></g><g transform="translate(434.743,3026) rotate(0) scale(0.0754,0.1422)" fill="#7fffd4"><use href="#l536b" x="0"/><use href="#l751f" x="250"/><use href="#l95f4" x="500"/><use href="#l7ed3" x="750"/><use href="#l6784" x="1000"/><use href="#l964d" x="1250"/><use href="#l677f" x="1500"/><use href="#l4e3a" x="1750"/></g><g transform="translate(585.475,3026) rotate(0) scale(1.682,1.68421) translate(0,-19)" fill="none" stroke="#7fffd4" stroke-width="0.59375" stroke-linecap="round" stroke-linejoin="round"><path transform="translate(0,0)" d="M8,19V0L0,13H10"/><path transform="translate(13,0)" d="M0,5A5,5 0 0 1 10,5V14A5,5 0 0 1 0,14Z"/><path transform="translate(26,0)" d="M0,5A5,5 0 0 1 10,5V14A5,5 0 0 1 0,14Z"/><path transform="translate(39,0)" d="M4,18V19"/></g><g transform="translate(662.847,3026) rotate(0) scale(0.0754,0.1422)" fill="#7fffd4"><use href="#l5b8c" x="0"/><use href="#l6210" x="250"/><use href="#l9762" x="500"/><use href="#l6807" x="750"/><use href="#l9ad8" x="1000"/><use href="#l4e3a" x="1250"/></g><g transform="translate(775.896,3026) rotate(0) scale(1.682,1.68421) translate(0,-19)" fill="none" stroke="#7fffd4" stroke-width="0.59375" stroke-linecap="round" stroke-linejoin="round"><path transform="translate(0,0)" d="M0,0V19M10,0V19M0,9H10"/><path transform="translate(13,0)" d="M1,10H9"/><path transform="translate(26,0)" d="M0,5A5,5 0 0 1 10,5V14A5,5 0 0 1 0,14Z"/><path transform="translate(39,0)" d="M4,18V19"/><path transform="translate(46,0)" d="M0,5A5,5 0 0 1 10,5V14A5,5 0 0 1 0,14Z"/><path transform="translate(59,0)" d="M0,5A5,5 0 0 1 10,5C10,10 0,13 0,19H10"/></g>
<g transform="translate(22,3078) rotate(0) scale(1.7658,1.68421) translate(0,-19)" fill="none" stroke="#7fffd4" stroke-width="0.59375" stroke-linecap="round" stroke-linejoin="round"><path transform="translate(0,0)" d="M0,0H10L3,19"/><path transform="translate(13,0)" d="M4,18V19"/></g><g transform="translate(57.316,3078) rotate(0) scale(0.0791,0.1422)" fill="#7fffd4"><use href="#l53a8" x="0"/><use href="#l623f" x="250"/><use href="#l91c7" x="500"/><use href="#l7528" x="750"/><use href="#l9884" x="1000"/><use href="#l5236" x="1250"/><use href="#l6392" x="1500"/><use href="#l6c14" x="1750"/><use href="#l9053" x="2000"/></g><g transform="translate(235.337,3078) rotate(0) scale(1.7658,1.68421) translate(0,-19)" fill="none" stroke="#7fffd4" stroke-width="0.59375" stroke-linecap="round" stroke-linejoin="round"><path transform="translate(0,0)" d="M9,0H1L0,8C3,6 10,6 10,13A5,5.5 0 0 1 0,15"/><path transform="translate(13,0)" d="M0,4A5,4.5 0 1 1 5,9A5,5 0 1 1 0,15"/><path transform="translate(26,0)" d="M0,5A5,5 0 0 1 10,5V14A5,5 0 0 1 0,14Z"/><path transform="translate(39,0)" d="M0,0L10,19M10,0L0,19"/><path transform="translate(52,0)" d="M8,19V0L0,13H10"/><path transform="translate(65,0)" d="M0,4A5,4.5 0 1 1 5,9A5,5 0 1 1 0,15"/><path transform="translate(78,0)" d="M0,5A5,5 0 0 1 10,5V14A5,5 0 0 1 0,14Z"/><path transform="translate(91,0)" d="M4,17L3,21"/></g><g transform="translate(408.385,3078) rotate(0) scale(0.0791,0.1422)" fill="#7fffd4"><use href="#l505a" x="0"/><use href="#l6cd5" x="250"/><use href="#l91c7" x="500"/><use href="#l7528" x="750"/><use href="#l56fe" x="1000"/><use href="#l96c6" x="1250"/></g><g transform="translate(527.066,3078) rotate(0) scale(1.7658,1.68421) translate(0,-19)" fill="none" stroke="#7fffd4" stroke-width="0.59375" stroke-linecap="round" stroke-linejoin="round"><path transform="translate(0,0)" d="M0,5A5,5 0 0 1 10,5V14A5,5 0 0 1 0,14Z"/><path transform="translate(13,0)" d="M0,0H10L3,19"/><path transform="translate(26,0)" d="M8,0V14A4,5 0 0 1 0,14"/><path transform="translate(39,0)" d="M1,17C3,19 10,20 10,11V5A5,5 0 0 0 0,5A5,5 0 0 0 10,7"/><path transform="translate(52,0)" d="M2,4L6,0V19"/><path transform="translate(64,0)" d="M9,2C7,0 0,-1 0,8V14A5,5 0 0 0 10,14A5,5 0 0 0 0,12"/><path transform="translate(77,0)" d="M1,10H9"/><path transform="translate(90,0)" d="M2,4L6,0V19"/></g><g transform="translate(707.178,3078) rotate(0) scale(0.0791,0.1422)" fill="#7fffd4"><use href="#l578b" x="0"/><use href="#l7b2c" x="250"/></g><g transform="translate(746.738,3078) rotate(0) scale(1.7658,1.68421) translate(0,-19)" fill="none" stroke="#7fffd4" stroke-width="0.59375" stroke-linecap="round" stroke-linejoin="round"><path transform="translate(0,0)" d="M0,19L5,0L10,19M2,12H8"/><path transform="translate(13,0)" d="M1,10H9"/><path transform="translate(26,0)" d="M2,4L6,0V19"/></g><g transform="translate(813.838,3078) rotate(0) scale(0.0791,0.1422)" fill="#7fffd4"><use href="#l9875" x="0"/><use href="#l578b" x="250"/><use href="#l53f7" x="500"/></g><g transform="translate(873.179,3078) rotate(0) scale(1.7658,1.68421) translate(0,-19)" fill="none" stroke="#7fffd4" stroke-width="0.59375" stroke-linecap="round" stroke-linejoin="round"><path transform="translate(0,0)" d="M0,19L5,0L10,19M2,12H8"/><path transform="translate(13,0)" d="M1,10H9"/><path transform="translate(26,0)" d="M10,4A5,5 0 0 0 0,5V14A5,5 0 0 0 10,15"/><path transform="translate(39,0)" d="M0,0V19M10,0V19M0,9H10"/></g>
<g transform="translate(22,3125) rotate(0) scale(1.61906,1.68421) translate(0,-19)" fill="none" stroke="#111" stroke-width="0.83125" stroke-linecap="round" stroke-linejoin="round"><path transform="translate(0,0)" d="M5,9A4.5,4.5 0 1 1 5,0A4.5,4.5 0 1 1 5,9A5,5 0 1 1 5,19A5,5 0 1 1 5,9"/><path transform="translate(13,0)" d="M4,18V19"/></g><g transform="translate(54.3813,3125) rotate(0) scale(0.0725,0.1422)" fill="#111"><use href="#s4f4f" x="0"/><use href="#s5b85" x="250"/><use href="#s6bcf" x="500"/></g><g transform="translate(108.791,3125) rotate(0) scale(1.61906,1.68421) translate(0,-19)" fill="none" stroke="#111" stroke-width="0.83125" stroke-linecap="round" stroke-linejoin="round"><path transform="translate(0,0)" d="M9,0H1L0,8C3,6 10,6 10,13A5,5.5 0 0 1 0,15"/><path transform="translate(13,0)" d="M0,5A5,5 0 0 1 10,5V14A5,5 0 0 1 0,14Z"/></g><g transform="translate(157.363,3125) rotate(0) scale(0.0725,0.1422)" fill="#111"><use href="#s5957" x="0"/><use href="#s4f4f" x="250"/><use href="#s623f" x="500"/><use href="#s8bbe" x="750"/><use href="#s4e24" x="1000"/><use href="#s5957" x="1250"/><use href="#s65e0" x="1500"/><use href="#s969c" x="1750"/><use href="#s788d" x="2000"/><use href="#s4f4f" x="2250"/><use href="#s623f" x="2500"/><use href="#s3002" x="2750"/></g>
<g transform="translate(24,3180) rotate(0) scale(1.66187,1.68421) translate(0,-19)" fill="none" stroke="#111" stroke-width="0.83125" stroke-linecap="round" stroke-linejoin="round"><path transform="translate(0,0)" d="M1,17C3,19 10,20 10,11V5A5,5 0 0 0 0,5A5,5 0 0 0 10,7"/><path transform="translate(13,0)" d="M4,18V19"/></g><g transform="translate(57.2375,3180) rotate(0) scale(0.0745,0.1422)" fill="#111"><use href="#s7a7a" x="0"/><use href="#s8c03" x="250"/><use href="#s673a" x="500"/><use href="#s9884" x="750"/><use href="#s7559" x="1000"/><use href="#s6d1e" x="1250"/></g><g transform="translate(168.933,3180) rotate(0) scale(1.66187,1.68421) translate(0,-19)" fill="none" stroke="#111" stroke-width="0.83125" stroke-linecap="round" stroke-linejoin="round"><path transform="translate(0,0)" d="M0,0V19H4A6,7 0 0 0 10,12V7A6,7 0 0 0 4,0H0"/><path transform="translate(13,0)" d="M2,4L6,0V19"/><path transform="translate(25,0)" d="M4,6V7M4,17V18"/></g><g transform="translate(222.113,3180) rotate(0) scale(0.0745,0.1422)" fill="#111"><use href="#s6d1e" x="0"/><use href="#s5f84" x="250"/></g><g transform="translate(259.345,3180) rotate(0) scale(1.66187,1.68421) translate(0,-19)" fill="none" stroke="#111" stroke-width="0.83125" stroke-linecap="round" stroke-linejoin="round"><path transform="translate(0,0)" d="M0,5A5,5 0 0 1 10,5V14A5,5 0 0 1 0,14ZM11,-1L-1,20"/><path transform="translate(13,0)" d="M9,2C7,0 0,-1 0,8V14A5,5 0 0 0 10,14A5,5 0 0 0 0,12"/><path transform="translate(26,0)" d="M0,5A5,5 0 0 1 10,5V14A5,5 0 0 1 0,14Z"/><path transform="translate(39,0)" d="M4,17L3,21"/></g><g transform="translate(335.792,3180) rotate(0) scale(0.0745,0.1422)" fill="#111"><use href="#s6d1e" x="0"/><use href="#s9876" x="250"/><use href="#s8ddd" x="500"/><use href="#s5730" x="750"/></g><g transform="translate(410.256,3180) rotate(0) scale(1.66187,1.68421) translate(0,-19)" fill="none" stroke="#111" stroke-width="0.83125" stroke-linecap="round" stroke-linejoin="round"><path transform="translate(0,0)" d="M0,5A5,5 0 0 1 10,5C10,10 0,13 0,19H10"/><path transform="translate(13,0)" d="M0,5A5,5 0 0 1 10,5C10,10 0,13 0,19H10"/><path transform="translate(26,0)" d="M0,5A5,5 0 0 1 10,5V14A5,5 0 0 1 0,14Z"/><path transform="translate(39,0)" d="M0,5A5,5 0 0 1 10,5V14A5,5 0 0 1 0,14Z"/><path transform="translate(52,0)" d="M4,17L3,21"/><path transform="translate(59,0)" d="M0,0V19H4A6,7 0 0 0 10,12V7A6,7 0 0 0 4,0H0"/><path transform="translate(72,0)" d="M0,5A5,5 0 0 1 10,5C10,10 0,13 0,19H10"/><path transform="translate(85,0)" d="M4,6V7M4,17V18"/></g><g transform="translate(563.148,3180) rotate(0) scale(0.0745,0.1422)" fill="#111"><use href="#s6d1e" x="0"/><use href="#s5f84" x="250"/></g><g transform="translate(600.38,3180) rotate(0) scale(1.66187,1.68421) translate(0,-19)" fill="none" stroke="#111" stroke-width="0.83125" stroke-linecap="round" stroke-linejoin="round"><path transform="translate(0,0)" d="M0,5A5,5 0 0 1 10,5V14A5,5 0 0 1 0,14ZM11,-1L-1,20"/><path transform="translate(13,0)" d="M9,2C7,0 0,-1 0,8V14A5,5 0 0 0 10,14A5,5 0 0 0 0,12"/><path transform="translate(26,0)" d="M0,5A5,5 0 0 1 10,5V14A5,5 0 0 1 0,14Z"/><path transform="translate(39,0)" d="M4,17L3,21"/></g><g transform="translate(676.826,3180) rotate(0) scale(0.0745,0.1422)" fill="#111"><use href="#s6d1e" x="0"/><use href="#s5e95" x="250"/><use href="#s8ddd" x="500"/><use href="#s5730" x="750"/></g><g transform="translate(751.29,3180) rotate(0) scale(1.66187,1.68421) translate(0,-19)" fill="none" stroke="#111" stroke-width="0.83125" stroke-linecap="round" stroke-linejoin="round"><path transform="translate(0,0)" d="M0,5A5,5 0 0 1 10,5C10,10 0,13 0,19H10"/><path transform="translate(13,0)" d="M0,5A5,5 0 0 1 10,5V14A5,5 0 0 1 0,14Z"/><path transform="translate(26,0)" d="M0,5A5,5 0 0 1 10,5V14A5,5 0 0 1 0,14Z"/></g><g transform="translate(822.751,3180) rotate(0) scale(0.0745,0.1422)" fill="#111"><use href="#s9ad8" x="0"/></g><g transform="translate(841.367,3180) rotate(0) scale(1.66187,1.68421) translate(0,-19)" fill="none" stroke="#111" stroke-width="0.83125" stroke-linecap="round" stroke-linejoin="round"><path transform="translate(0,0)" d="M4,18V19"/></g>
<g transform="translate(55,3232) rotate(0) scale(1.60712,1.73684) translate(0,-19)" fill="none" stroke="#111" stroke-width="0.806061" stroke-linecap="round" stroke-linejoin="round"><path transform="translate(0,0)" d="M0,0V19H4A6,7 0 0 0 10,12V7A6,7 0 0 0 4,0H0"/><path transform="translate(13,0)" d="M0,4A5,4.5 0 1 1 5,9A5,5 0 1 1 0,15"/><path transform="translate(26,0)" d="M4,6V7M4,17V18"/></g><g transform="translate(108.035,3232) rotate(0) scale(0.072,0.1467)" fill="#111"><use href="#s6d1e" x="0"/><use href="#s5f84" x="250"/></g><g transform="translate(144.04,3232) rotate(0) scale(1.60712,1.73684) translate(0,-19)" fill="none" stroke="#111" stroke-width="0.806061" stroke-linecap="round" stroke-linejoin="round"><path transform="translate(0,0)" d="M0,5A5,5 0 0 1 10,5V14A5,5 0 0 1 0,14ZM11,-1L-1,20"/><path transform="translate(13,0)" d="M9,2C7,0 0,-1 0,8V14A5,5 0 0 0 10,14A5,5 0 0 0 0,12"/><path transform="translate(26,0)" d="M0,5A5,5 0 0 1 10,5V14A5,5 0 0 1 0,14Z"/><path transform="translate(39,0)" d="M4,17L3,21"/></g><g transform="translate(217.967,3232) rotate(0) scale(0.072,0.1467)" fill="#111"><use href="#s6d1e" x="0"/><use href="#s5e95" x="250"/><use href="#s5e73" x="500"/><use href="#s6881" x="750"/><use href="#s5e95" x="1000"/></g><g transform="translate(307.98,3232) rotate(0) scale(1.60712,1.73684) translate(0,-19)" fill="none" stroke="#111" stroke-width="0.806061" stroke-linecap="round" stroke-linejoin="round"><path transform="translate(0,0)" d="M4,18V19"/></g><g transform="translate(319.23,3232) rotate(0) scale(0.072,0.1467)" fill="#111"><use href="#s7a7a" x="0"/><use href="#s8c03" x="250"/><use href="#s5b54" x="500"/><use href="#s9884" x="750"/><use href="#s7559" x="1000"/><use href="#s6d1e" x="1250"/><use href="#s5b9a" x="1500"/><use href="#s4f4d" x="1750"/><use href="#s9664" x="2000"/><use href="#s6ce8" x="2250"/><use href="#s660e" x="2500"/><use href="#s5916" x="2750"/><use href="#sff0c" x="3000"/><use href="#s9884" x="3250"/><use href="#s7559" x="3500"/><use href="#s5b54" x="3750"/><use href="#s8fb9" x="4000"/><use href="#s8ddd" x="4250"/><use href="#s5899" x="4500"/><use href="#s8fb9" x="4750"/><use href="#s4e3a" x="5000"/></g><g transform="translate(697.285,3232) rotate(0) scale(1.60712,1.73684) translate(0,-19)" fill="none" stroke="#111" stroke-width="0.806061" stroke-linecap="round" stroke-linejoin="round"><path transform="translate(0,0)" d="M2,4L6,0V19"/><path transform="translate(12,0)" d="M0,5A5,5 0 0 1 10,5V14A5,5 0 0 1 0,14Z"/><path transform="translate(25,0)" d="M0,5A5,5 0 0 1 10,5V14A5,5 0 0 1 0,14Z"/><path transform="translate(38,0)" d="M0,19V7M0,10A3,3 0 0 1 6,10V19M6,10A3,3 0 0 1 12,10V19"/><path transform="translate(55,0)" d="M0,19V7M0,10A3,3 0 0 1 6,10V19M6,10A3,3 0 0 1 12,10V19"/></g><g transform="translate(812.997,3232) rotate(0) scale(0.072,0.1467)" fill="#111"><use href="#s3002" x="0"/></g>
<g transform="translate(24,3283) rotate(0) scale(1.43281,1.68421) translate(0,-19)" fill="none" stroke="#111" stroke-width="0.83125" stroke-linecap="round" stroke-linejoin="round"><path transform="translate(0,0)" d="M2,4L6,0V19"/><path transform="translate(12,0)" d="M0,5A5,5 0 0 1 10,5V14A5,5 0 0 1 0,14Z"/></g><g transform="translate(59.8202,3283) rotate(0) scale(0.0642,0.1422)" fill="#111"><use href="#s3001" x="0"/><use href="#s56fe" x="250"/><use href="#s4f8b" x="500"/></g><g transform="translate(107.97,3283) rotate(0) scale(1.43281,1.68421) translate(0,-19)" fill="none" stroke="#111" stroke-width="0.83125" stroke-linecap="round" stroke-linejoin="round"><path transform="translate(0,0)" d="M4,6V7M4,17V18"/></g>
<g transform="translate(225,3283) rotate(0) scale(0.072,0.1422)" fill="#111"><use href="#s4e3a" x="0"/><use href="#s7a7a" x="250"/><use href="#s8c03" x="500"/><use href="#s5ba4" x="750"/><use href="#s5916" x="1000"/><use href="#s673a" x="1250"/></g>
<polygon points="158,3257 212.7,3257 212.7,3279.6 158,3279.6" fill="none" stroke="#5a78ff" stroke-width="1"/>
<polyline points="158,3257 170,3265 158,3273" fill="none" stroke="#5a78ff" stroke-width="1"/>
<polyline points="212.7,3257 200,3268 212.7,3279.6" fill="none" stroke="#5a78ff" stroke-width="1"/>
<text transform="translate(185.5,3273) rotate(0) scale(0.8,1)" font-size="13" fill="#5a78ff" text-anchor="middle" font-family="Liberation Serif" font-weight="bold">AC</text>
<g transform="translate(24,3338) rotate(0) scale(1.54929,1.78947) translate(0,-19)" fill="none" stroke="#111" stroke-width="0.782353" stroke-linecap="round" stroke-linejoin="round"><path transform="translate(0,0)" d="M2,4L6,0V19"/><path transform="translate(12,0)" d="M2,4L6,0V19"/></g><g transform="translate(61.1829,3338) rotate(0) scale(0.0694,0.1511)" fill="#111"><use href="#s3001" x="0"/><use href="#s7a97" x="250"/><use href="#s53f0" x="500"/><use href="#s5c0f" x="750"/><use href="#s4e8e" x="1000"/></g><g transform="translate(147.957,3338) rotate(0) scale(1.54929,1.78947) translate(0,-19)" fill="none" stroke="#111" stroke-width="0.782353" stroke-linecap="round" stroke-linejoin="round"><path transform="translate(0,0)" d="M1,17C3,19 10,20 10,11V5A5,5 0 0 0 0,5A5,5 0 0 0 10,7"/><path transform="translate(13,0)" d="M0,5A5,5 0 0 1 10,5V14A5,5 0 0 1 0,14Z"/><path transform="translate(26,0)" d="M0,5A5,5 0 0 1 10,5V14A5,5 0 0 1 0,14Z"/><path transform="translate(39,0)" d="M0,19V7M0,10A3,3 0 0 1 6,10V19M6,10A3,3 0 0 1 12,10V19"/><path transform="translate(56,0)" d="M0,19V7M0,10A3,3 0 0 1 6,10V19M6,10A3,3 0 0 1 12,10V19"/></g><g transform="translate(267.252,3338) rotate(0) scale(0.0694,0.1511)" fill="#111"><use href="#s9700" x="0"/><use href="#s52a0" x="250"/><use href="#s62a4" x="500"/><use href="#s7a97" x="750"/><use href="#s680f" x="1000"/><use href="#s6746" x="1250"/></g><g transform="translate(371.381,3338) rotate(0) scale(1.54929,1.78947) translate(0,-19)" fill="none" stroke="#111" stroke-width="0.782353" stroke-linecap="round" stroke-linejoin="round"><path transform="translate(0,0)" d="M4,18V19"/></g><g transform="translate(382.226,3338) rotate(0) scale(0.0694,0.1511)" fill="#111"><use href="#s62a4" x="0"/><use href="#s7a97" x="250"/><use href="#s680f" x="500"/><use href="#s6746" x="750"/><use href="#s8be6" x="1000"/></g>
<g transform="translate(592,3337) rotate(0) scale(1.68474,1.73684) translate(0,-19)" fill="none" stroke="#111" stroke-width="0.806061" stroke-linecap="round" stroke-linejoin="round"><path transform="translate(0,0)" d="M0,5A5,5 0 0 1 10,5V14A5,5 0 0 1 0,14Z"/><path transform="translate(13,0)" d="M9,0H1L0,8C3,6 10,6 10,13A5,5.5 0 0 1 0,15"/><path transform="translate(26,0)" d="M0,0H10L0,19H10"/><path transform="translate(39,0)" d="M8,0V14A4,5 0 0 1 0,14"/><path transform="translate(52,0)" d="M8,19V0L0,13H10"/><path transform="translate(65,0)" d="M0,5A5,5 0 0 1 10,5V14A5,5 0 0 1 0,14Z"/><path transform="translate(78,0)" d="M2,4L6,0V19"/></g>
<circle cx="774" cy="3324.7" r="26.3" fill="none" stroke="#111" stroke-width="1.2"/>
<polyline points="747.7,3324.7 800.3,3324.7" fill="none" stroke="#111" stroke-width="1.2"/>
<text transform="translate(774,3321) rotate(0) scale(0.6,1)" font-size="19" fill="#333" text-anchor="middle" font-family="Liberation Serif" font-weight="normal">2W</text>
<text transform="translate(774,3343) rotate(0) scale(0.8,1)" font-size="19" fill="#333" text-anchor="middle" font-family="Liberation Serif" font-weight="normal">5</text>
<circle cx="826" cy="3324.7" r="26.3" fill="none" stroke="#111" stroke-width="1.2"/>
<polyline points="799.7,3324.7 852.3,3324.7" fill="none" stroke="#111" stroke-width="1.2"/>
<text transform="translate(826,3321) rotate(0) scale(0.6,1)" font-size="19" fill="#333" text-anchor="middle" font-family="Liberation Serif" font-weight="normal">12</text>
<text transform="translate(826,3343) rotate(0) scale(0.6,1)" font-size="19" fill="#333" text-anchor="middle" font-family="Liberation Serif" font-weight="normal">30</text>
<g transform="translate(26,3390) rotate(0) scale(1.59649,1.68421) translate(0,-19)" fill="none" stroke="#111" stroke-width="0.83125" stroke-linecap="round" stroke-linejoin="round"><path transform="translate(0,0)" d="M2,4L6,0V19"/><path transform="translate(12,0)" d="M0,5A5,5 0 0 1 10,5C10,10 0,13 0,19H10"/></g><g transform="translate(65.9122,3390) rotate(0) scale(0.0715,0.1422)" fill="#111"><use href="#s3001" x="0"/><use href="#s65e0" x="250"/><use href="#s5f00" x="500"/><use href="#s7a97" x="750"/><use href="#s536b" x="1000"/><use href="#s751f" x="1250"/><use href="#s95f4" x="1500"/><use href="#s901a" x="1750"/><use href="#s98ce" x="2000"/><use href="#s63aa" x="2250"/><use href="#s65bd" x="2500"/><use href="#s8be6" x="2750"/><use href="#s901a" x="3000"/><use href="#s98ce" x="3250"/><use href="#s4e13" x="3500"/><use href="#s4e1a" x="3750"/><use href="#s56fe" x="4000"/><use href="#s7eb8" x="4250"/><use href="#s3002" x="4500"/></g>
<g transform="translate(2083,2946) rotate(0) scale(0.1024,0.224)" fill="#62ff1a"><use href="#t671d" x="0"/><use href="#t5357" x="250"/><use href="#t7ef4" x="500"/><use href="#t6e2f" x="750"/><use href="#t65b0" x="1000"/><use href="#t5929" x="1250"/><use href="#t5730" x="1500"/></g>
<g fill="none" stroke="#62ff1a" stroke-width="1.2"><path d="M2270,2899h11l7,7v9l-7,7l7,7v11l-7,7h-11l-7,-7v-11l7,-7l-7,-7v-9zM2270,2922h11"/><path d="M2305,2906v42M2317,2906v42M2298,2920h26M2298,2934h26"/></g>
<g transform="translate(2335,2946) rotate(0) scale(0.1008,0.224)" fill="#62ff1a"><use href="#t697c" x="0"/></g>
<g transform="translate(2380,2945) rotate(0) scale(0.2402,0.304)" fill="#111"><use href="#m9996" x="0"/><use href="#m5c42" x="250"/><use href="#m5e73" x="500"/><use href="#m9762" x="750"/><use href="#m56fe" x="1000"/></g>
<g transform="translate(2380,2993.5) rotate(0) scale(0.0663,0.072)" fill="#111"><use href="#r5efa" x="0"/><use href="#r7b51" x="250"/><use href="#r57fa" x="500"/><use href="#r5e95" x="750"/><use href="#rff1a" x="1000"/><use href="#r34" x="1250"/><use href="#r30" x="1388.8"/><use href="#r36" x="1528"/><use href="#r2e" x="1667.5"/><use href="#r36" x="1749.2"/><use href="#r36" x="1888.8"/><use href="#r6d" x="2028.2"/><use href="#rb2" x="2271.8"/></g>
<g transform="translate(2380,3026.9) rotate(0) scale(0.0681,0.072)" fill="#111"><use href="#r5730" x="0"/><use href="#r4e0a" x="250"/><use href="#r603b" x="500"/><use href="#r5efa" x="750"/><use href="#r7b51" x="1000"/><use href="#r9762" x="1250"/><use href="#r79ef" x="1500"/><use href="#rff1a" x="1750"/><use href="#r31" x="2000"/><use href="#r34" x="2117.8"/><use href="#r32" x="2256.5"/><use href="#r31" x="2396"/><use href="#r36" x="2513.8"/><use href="#r2e" x="2653.2"/><use href="#r31" x="2735"/><use href="#r36" x="2852.8"/><use href="#r6d" x="2992.2"/><use href="#rb2" x="3235.8"/></g>
<g transform="translate(2376,3058.2) rotate(0) scale(0.0687,0.072)" fill="#111"><use href="#r5730" x="0"/><use href="#r4e0a" x="250"/><use href="#r603b" x="500"/><use href="#r8ba1" x="750"/><use href="#r5bb9" x="1000"/><use href="#r5efa" x="1250"/><use href="#r7b51" x="1500"/><use href="#r9762" x="1750"/><use href="#r79ef" x="2000"/><use href="#rff1a" x="2250"/><use href="#r31" x="2500"/><use href="#r33" x="2617.8"/><use href="#r39" x="2757"/><use href="#r31" x="2897.5"/><use href="#r30" x="3015.2"/><use href="#r2e" x="3154.5"/><use href="#r39" x="3236.2"/><use href="#r36" x="3376.8"/><use href="#r6d" x="3516.2"/><use href="#rb2" x="3759.8"/></g>
<g transform="translate(2380,3092.9) rotate(0) scale(0.0671,0.072)" fill="#111"><use href="#r9996" x="0"/><use href="#r5c42" x="250"/><use href="#r67b6" x="500"/><use href="#r7a7a" x="750"/><use href="#r5efa" x="1000"/><use href="#r7b51" x="1250"/><use href="#r9762" x="1500"/><use href="#r79ef" x="1750"/><use href="#rff1a" x="2000"/><use href="#r33" x="2250"/><use href="#r30" x="2389.2"/><use href="#r35" x="2528.5"/><use href="#r2e" x="2668"/><use href="#r32" x="2749.8"/><use href="#r30" x="2889.2"/><use href="#r6d" x="3028.5"/><use href="#rb2" x="3272"/></g>
<g transform="translate(1739.8,1156.24) rotate(0) scale(0.0352,0.0533)" fill="#111"><use href="#s67b6" x="-500"/><use href="#s7a7a" x="-250"/><use href="#s82b1" x="0"/><use href="#s56ed" x="250"/></g>
<g transform="translate(3214.3,1261.33) rotate(0) scale(0.0469,0.0733)" fill="#111"><use href="#s67b6" x="-500"/><use href="#s7a7a" x="-250"/><use href="#s82b1" x="0"/><use href="#s56ed" x="250"/></g>
<g transform="translate(2407,2135.36) rotate(0) scale(0.0347,0.0578)" fill="#111"><use href="#s67b6" x="-500"/><use href="#s7a7a" x="-250"/><use href="#s82b1" x="0"/><use href="#s56ed" x="250"/></g>
<g transform="translate(1875.6,958.54) rotate(0) scale(0.0352,0.0533)" fill="#111"><use href="#s9001" x="-250"/><use href="#s98ce" x="0"/></g>
<g transform="translate(2738,1343.5) rotate(0) scale(0.034,0.0667)" fill="#111"><use href="#s6392" x="-250"/><use href="#s98ce" x="0"/></g>
<g transform="translate(2285.5,1831.89) rotate(0) scale(0.0342,0.0644)" fill="#111"><use href="#s6392" x="-250"/><use href="#s98ce" x="0"/></g>
<g transform="translate(2186.9,1201.14) rotate(0) scale(0.0384,0.0533)" fill="#111"><use href="#s5165" x="-500"/><use href="#s6237" x="-250"/><use href="#s5927" x="0"/><use href="#s5802" x="250"/></g>
<g transform="translate(2096,1235.2) rotate(0) scale(0.0391,0.0889)" fill="#111"><use href="#s4fe1" x="-375"/><use href="#s62a5" x="-125"/><use href="#s7bb1" x="125"/></g>
<g transform="translate(2415.8,1570.18) rotate(0) scale(0.0336,0.0622)" fill="#111"><use href="#s7535" x="-375"/><use href="#s68af" x="-125"/><use href="#s5385" x="125"/></g>
<g transform="translate(2569,1501.68) rotate(0) scale(0.0342,0.0622)" fill="#111"><use href="#s5ba2" x="-250"/><use href="#s68af" x="0"/></g>
<g transform="translate(2554,1529.38) rotate(0) scale(0.0342,0.0622)" fill="#111"><use href="#s517c" x="-625"/><use href="#s6d88" x="-375"/><use href="#s9632" x="-125"/><use href="#s7535" x="125"/><use href="#s68af" x="375"/></g>
<g transform="translate(2552.7,1651.68) rotate(0) scale(0.0342,0.0622)" fill="#111"><use href="#s62c5" x="-500"/><use href="#s67b6" x="-250"/><use href="#s5ba2" x="0"/><use href="#s68af" x="250"/></g>
<g transform="translate(2563.2,1679.38) rotate(0) scale(0.0342,0.0622)" fill="#111"><use href="#s517c" x="-750"/><use href="#s65e0" x="-500"/><use href="#s969c" x="-250"/><use href="#s788d" x="0"/><use href="#s7535" x="250"/><use href="#s68af" x="500"/></g>
<g transform="translate(2554,1422.78) rotate(0) scale(0.0342,0.0622)" fill="#111"><use href="#s6c34" x="-125"/></g>
<g transform="translate(2623.8,1421.38) rotate(0) scale(0.0342,0.0622)" fill="#111"><use href="#s7535" x="-125"/></g>
<g transform="translate(2271.6,1437.14) rotate(0) scale(0.0604,0.0756)" fill="#111"><use href="#l4e0a" x="-125"/></g>
<g transform="translate(2272.9,1746.64) rotate(0) scale(0.0604,0.0756)" fill="#111"><use href="#l4e0b" x="-125"/></g>
<g transform="translate(2370.6,1749.24) rotate(0) scale(0.0604,0.0756)" fill="#111"><use href="#l4e0a" x="-125"/></g>
<g transform="translate(2065.36,908.19) rotate(25) scale(0.0398,0.0711)" fill="#111"><use href="#s65e0" x="-625"/><use href="#s969c" x="-375"/><use href="#s788d" x="-125"/><use href="#s5761" x="125"/><use href="#s9053" x="375"/></g>
<g transform="translate(1958.5,832.64) rotate(0) scale(0.0393,0.0756)" fill="#111"><use href="#s62ab" x="-625"/><use href="#s9053" x="-375"/><use href="#s505a" x="-125"/><use href="#s6cd5" x="125"/><use href="#s53c2" x="375"/></g>
<g transform="translate(1982,764.14) rotate(0) scale(0.0393,0.0756)" fill="#111"><use href="#s62ab" x="-625"/><use href="#s9053" x="-375"/><use href="#s6276" x="-125"/><use href="#s624b" x="125"/><use href="#s53c2" x="375"/></g>
<g transform="translate(4620,137.84) rotate(0) scale(0.066,0.12)" fill="#111"><use href="#r5317" x="-125"/></g>
<g transform="translate(2593.5,1396.96) rotate(0) scale(0.052,0.0578)" fill="#111"><use href="#r4e19" x="-125"/></g>
<g transform="translate(2548.26,1405) rotate(-90) scale(0.052,0.0578)" fill="#111"><use href="#r4e19" x="-125"/></g>
<text transform="translate(1612.4,1079.6) rotate(0) scale(0.53,1)" font-size="26" fill="#111" text-anchor="start" font-family="Liberation Serif" font-weight="normal">±0.000</text>
<g transform="translate(1647.74,1079.6) rotate(0) scale(0.0394,0.068)" fill="#111"><use href="#sff08" x="0"/><use href="#s7edd" x="250"/><use href="#s5bf9" x="500"/><use href="#s6807" x="750"/><use href="#s9ad8" x="1000"/></g>
<text transform="translate(1709.42,1079.6) rotate(0) scale(0.53,1)" font-size="26" fill="#111" text-anchor="start" font-family="Liberation Serif" font-weight="normal">15.60</text>
<g transform="translate(1742,1079.6) rotate(0) scale(0.0394,0.068)" fill="#111"><use href="#sff09" x="0"/></g>
<text transform="translate(2129,1147.5) rotate(0) scale(0.53,1)" font-size="26" fill="#111" text-anchor="start" font-family="Liberation Serif" font-weight="normal">±0.000</text>
<g transform="translate(2164.22,1147.5) rotate(0) scale(0.0394,0.068)" fill="#111"><use href="#sff08" x="0"/><use href="#s7edd" x="250"/><use href="#s5bf9" x="500"/><use href="#s6807" x="750"/><use href="#s9ad8" x="1000"/></g>
<text transform="translate(2225.67,1147.5) rotate(0) scale(0.53,1)" font-size="26" fill="#111" text-anchor="start" font-family="Liberation Serif" font-weight="normal">15.60</text>
<g transform="translate(2258.1,1147.5) rotate(0) scale(0.0394,0.068)" fill="#111"><use href="#sff09" x="0"/></g>
<text transform="translate(2986.6,1304.3) rotate(0) scale(0.53,1)" font-size="26" fill="#111" text-anchor="start" font-family="Liberation Serif" font-weight="normal">±0.000</text>
<g transform="translate(3021.84,1304.3) rotate(0) scale(0.0394,0.068)" fill="#111"><use href="#sff08" x="0"/><use href="#s7edd" x="250"/><use href="#s5bf9" x="500"/><use href="#s6807" x="750"/><use href="#s9ad8" x="1000"/></g>
<text transform="translate(3083.34,1304.3) rotate(0) scale(0.53,1)" font-size="26" fill="#111" text-anchor="start" font-family="Liberation Serif" font-weight="normal">15.60</text>
<g transform="translate(3115.8,1304.3) rotate(0) scale(0.0394,0.068)" fill="#111"><use href="#sff09" x="0"/></g>
<text transform="translate(2559.5,2140.1) rotate(0) scale(0.53,1)" font-size="26" fill="#111" text-anchor="start" font-family="Liberation Serif" font-weight="normal">±0.000</text>
<g transform="translate(2594.95,2140.1) rotate(0) scale(0.0394,0.068)" fill="#111"><use href="#sff08" x="0"/><use href="#s7edd" x="250"/><use href="#s5bf9" x="500"/><use href="#s6807" x="750"/><use href="#s9ad8" x="1000"/></g>
<text transform="translate(2656.8,2140.1) rotate(0) scale(0.53,1)" font-size="26" fill="#111" text-anchor="start" font-family="Liberation Serif" font-weight="normal">15.60</text>
<g transform="translate(2689.5,2140.1) rotate(0) scale(0.0394,0.068)" fill="#111"><use href="#sff09" x="0"/></g>
<g transform="translate(2214.56,1090.24) rotate(25) scale(0.559211,0.657895) translate(-40.5,-19)" fill="none" stroke="#111" stroke-width="1.672" stroke-linecap="round" stroke-linejoin="round"><path transform="translate(0,0)" d="M0,19V0L6,19L12,0V19"/><path transform="translate(19,0)" d="M10,4A5,5 0 0 0 0,5V14A5,5 0 0 0 10,15"/><path transform="translate(32,0)" d="M8,19V0L0,13H10"/><path transform="translate(45,0)" d="M0,5A5,5 0 0 1 10,5V14A5,5 0 0 1 0,14Z"/><path transform="translate(58,0)" d="M0,4A5,4.5 0 1 1 5,9A5,5 0 1 1 0,15"/><path transform="translate(71,0)" d="M0,5A5,5 0 0 1 10,5V14A5,5 0 0 1 0,14Z"/></g>
</svg></body></html>
